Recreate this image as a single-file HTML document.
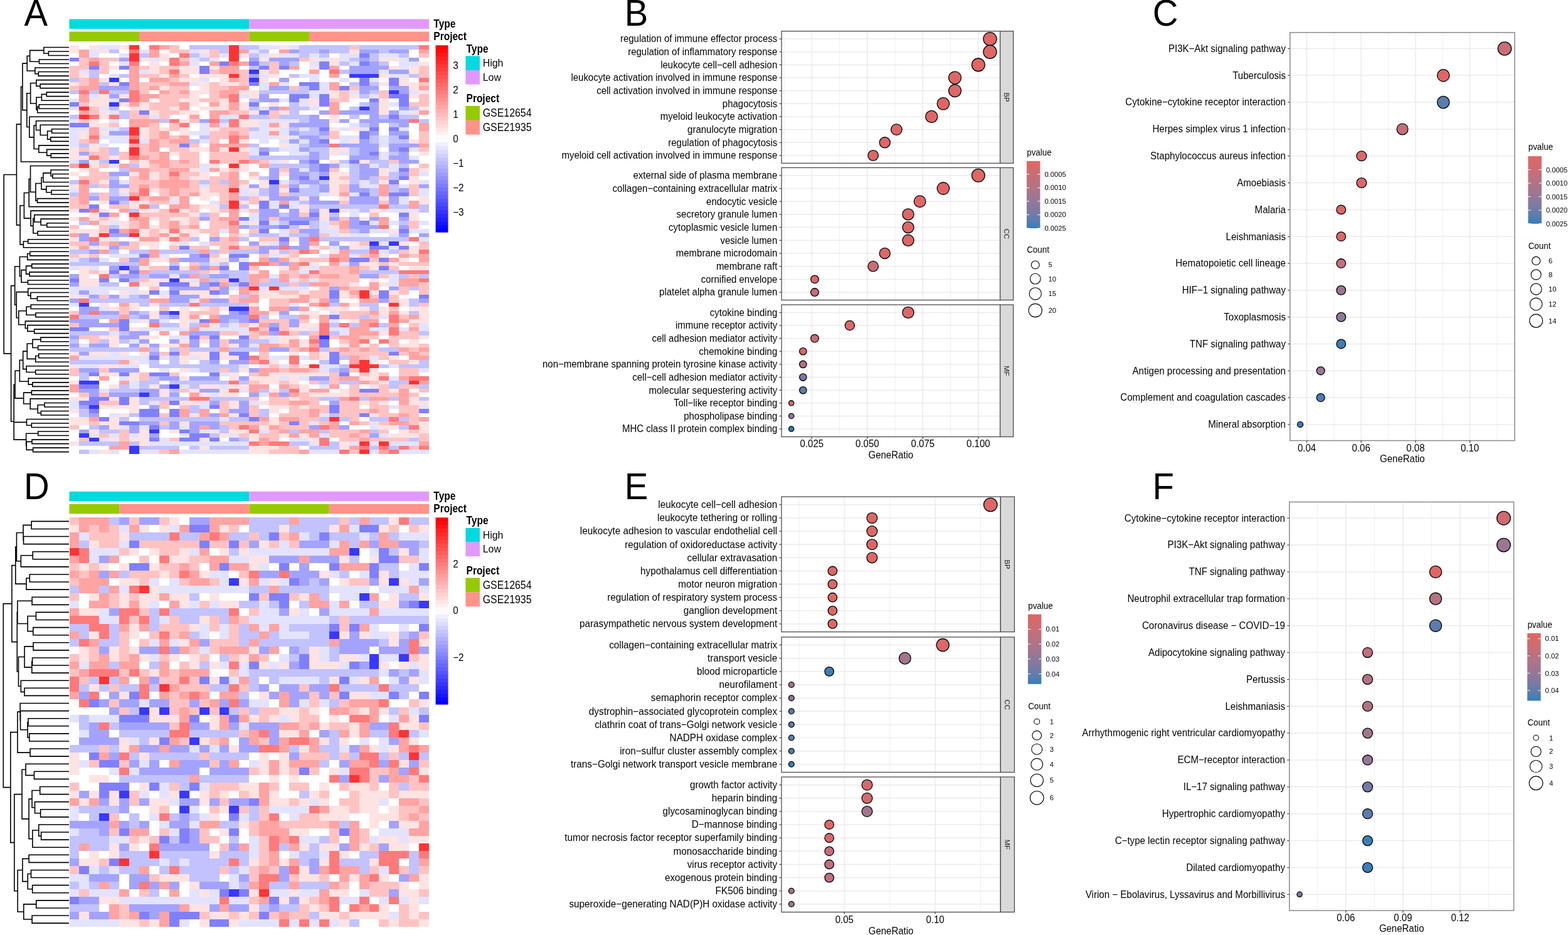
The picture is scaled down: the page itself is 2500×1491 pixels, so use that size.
<!DOCTYPE html>
<html><head><meta charset="utf-8"><style>
html,body{margin:0;padding:0;background:#fff;}
svg{display:block;}
text{font-family:'Liberation Sans', Arial, Helvetica, sans-serif;}
</style></head><body>
<svg width="2500" height="1491" viewBox="0 0 2500 1491">
<rect width="2500" height="1491" fill="#fff"/>
<text x="0" y="0" font-size="59" transform="translate(38.60 41.10) scale(0.955 1)">A</text>
<text x="0" y="0" font-size="59" transform="translate(995.80 40.90) scale(0.955 1)">B</text>
<text x="0" y="0" font-size="59" transform="translate(1837.70 41.00) scale(0.955 1)">C</text>
<text x="0" y="0" font-size="59" transform="translate(38.10 795.80) scale(0.955 1)">D</text>
<text x="0" y="0" font-size="59" transform="translate(995.80 795.70) scale(0.955 1)">E</text>
<text x="0" y="0" font-size="59" transform="translate(1837.60 795.70) scale(0.955 1)">F</text>
<rect x="110.50" y="30.50" width="286.83" height="15.60" fill="#00DAE0"/>
<rect x="397.33" y="30.50" width="286.83" height="15.60" fill="#E199FF"/>
<rect x="110.50" y="50.40" width="111.55" height="15.60" fill="#96CA00"/>
<rect x="222.05" y="50.40" width="175.28" height="15.60" fill="#FF9289"/>
<rect x="397.33" y="50.40" width="95.61" height="15.60" fill="#96CA00"/>
<rect x="492.94" y="50.40" width="191.22" height="15.60" fill="#FF9289"/>
<text x="0" y="0" font-size="15.50" font-weight="bold" transform="translate(691.36 44.10) scale(1.000 1.150)">Type</text>
<text x="0" y="0" font-size="15.50" font-weight="bold" transform="translate(691.36 63.80) scale(1.000 1.150)">Project</text>
<g shape-rendering="crispEdges" transform="translate(110.500 72.200) scale(15.9350 6.5170)">
<path fill="#ffe3e3" d="M0 0h1v1h-1zM2 0h1v1h-1zM5 0h1v1h-1zM21 0h1v1h-1zM0 1h1v1h-1zM3 1h1v1h-1zM13 1h1v1h-1zM28 1h1v1h-1zM9 2h1v1h-1zM17 2h1v1h-1zM20 2h1v1h-1zM7 3h1v1h-1zM9 3h1v1h-1zM19 3h1v1h-1zM24 3h1v1h-1zM26 3h1v1h-1zM31 3h2v1h-2zM8 4h1v1h-1zM26 4h1v1h-1zM35 4h1v1h-1zM4 5h1v1h-1zM8 5h1v1h-1zM11 5h2v1h-2zM14 5h1v1h-1zM24 5h1v1h-1zM32 5h1v1h-1zM34 5h1v1h-1zM8 6h1v1h-1zM11 6h2v1h-2zM19 6h1v1h-1zM34 6h1v1h-1zM1 7h1v1h-1zM9 7h1v1h-1zM13 7h3v1h-3zM20 7h1v1h-1zM31 7h1v1h-1zM3 8h1v1h-1zM11 8h2v1h-2zM15 8h1v1h-1zM19 8h1v1h-1zM33 8h1v1h-1zM0 9h1v1h-1zM4 9h1v1h-1zM13 9h1v1h-1zM15 9h2v1h-2zM31 9h1v1h-1zM33 9h2v1h-2zM9 10h1v1h-1zM13 10h1v1h-1zM34 10h1v1h-1zM12 11h2v1h-2zM17 11h2v1h-2zM26 11h1v1h-1zM35 11h1v1h-1zM3 12h1v1h-1zM5 12h1v1h-1zM12 12h1v1h-1zM18 12h1v1h-1zM26 12h1v1h-1zM28 12h1v1h-1zM34 12h1v1h-1zM2 13h2v1h-2zM11 13h2v1h-2zM15 13h1v1h-1zM24 13h1v1h-1zM31 13h1v1h-1zM2 14h2v1h-2zM5 14h1v1h-1zM7 14h1v1h-1zM12 14h1v1h-1zM15 14h1v1h-1zM17 14h1v1h-1zM20 14h1v1h-1zM24 14h1v1h-1zM31 14h1v1h-1zM6 15h2v1h-2zM10 15h1v1h-1zM13 15h3v1h-3zM17 15h1v1h-1zM31 15h1v1h-1zM35 15h1v1h-1zM3 16h1v1h-1zM8 16h1v1h-1zM11 16h2v1h-2zM18 16h1v1h-1zM21 16h1v1h-1zM31 16h1v1h-1zM34 16h1v1h-1zM3 17h1v1h-1zM26 17h1v1h-1zM2 18h1v1h-1zM11 18h1v1h-1zM17 18h2v1h-2zM26 18h1v1h-1zM2 19h2v1h-2zM17 19h2v1h-2zM21 19h1v1h-1zM7 20h1v1h-1zM9 20h1v1h-1zM11 20h1v1h-1zM14 20h1v1h-1zM20 20h1v1h-1zM26 20h1v1h-1zM28 20h1v1h-1zM1 21h1v1h-1zM3 21h1v1h-1zM7 21h1v1h-1zM11 21h1v1h-1zM1 22h1v1h-1zM7 22h1v1h-1zM21 22h1v1h-1zM17 23h1v1h-1zM28 23h1v1h-1zM34 23h1v1h-1zM2 24h1v1h-1zM21 24h1v1h-1zM0 25h1v1h-1zM2 25h1v1h-1zM12 25h2v1h-2zM15 25h1v1h-1zM17 25h1v1h-1zM26 25h2v1h-2zM0 26h1v1h-1zM10 26h1v1h-1zM26 26h1v1h-1zM35 26h1v1h-1zM0 27h2v1h-2zM4 27h1v1h-1zM2 28h1v1h-1zM7 28h1v1h-1zM21 28h1v1h-1zM26 28h1v1h-1zM29 28h1v1h-1zM2 29h1v1h-1zM7 29h1v1h-1zM14 29h1v1h-1zM17 29h1v1h-1zM1 30h1v1h-1zM12 30h1v1h-1zM15 30h1v1h-1zM17 30h1v1h-1zM31 30h1v1h-1zM35 30h1v1h-1zM0 31h1v1h-1zM6 31h1v1h-1zM8 31h1v1h-1zM13 31h1v1h-1zM21 31h1v1h-1zM26 31h2v1h-2zM31 31h1v1h-1zM8 32h1v1h-1zM12 32h2v1h-2zM18 32h1v1h-1zM26 32h1v1h-1zM34 32h1v1h-1zM3 33h1v1h-1zM19 33h1v1h-1zM26 33h2v1h-2zM31 33h1v1h-1zM34 33h1v1h-1zM0 34h1v1h-1zM17 34h1v1h-1zM19 34h1v1h-1zM26 34h1v1h-1zM5 35h1v1h-1zM8 35h1v1h-1zM13 35h1v1h-1zM18 35h1v1h-1zM21 35h1v1h-1zM26 35h1v1h-1zM13 36h2v1h-2zM26 36h1v1h-1zM10 37h1v1h-1zM13 37h1v1h-1zM19 37h1v1h-1zM23 37h1v1h-1zM27 37h1v1h-1zM31 37h1v1h-1zM35 37h1v1h-1zM3 38h1v1h-1zM6 38h2v1h-2zM17 38h1v1h-1zM35 38h1v1h-1zM6 39h1v1h-1zM13 39h2v1h-2zM23 39h1v1h-1zM0 40h1v1h-1zM3 40h1v1h-1zM7 40h2v1h-2zM11 40h1v1h-1zM14 40h1v1h-1zM17 40h1v1h-1zM23 40h1v1h-1zM25 40h1v1h-1zM27 40h1v1h-1zM30 40h2v1h-2zM2 41h1v1h-1zM12 41h1v1h-1zM25 41h1v1h-1zM34 41h1v1h-1zM0 42h1v1h-1zM2 42h1v1h-1zM4 42h1v1h-1zM8 42h1v1h-1zM10 42h2v1h-2zM25 42h1v1h-1zM29 42h1v1h-1zM34 42h1v1h-1zM3 43h1v1h-1zM5 43h1v1h-1zM11 43h1v1h-1zM18 43h1v1h-1zM5 44h1v1h-1zM8 44h1v1h-1zM23 44h1v1h-1zM26 44h1v1h-1zM0 45h3v1h-3zM7 45h1v1h-1zM9 45h1v1h-1zM11 45h2v1h-2zM32 45h1v1h-1zM2 46h1v1h-1zM7 46h1v1h-1zM10 46h1v1h-1zM12 46h1v1h-1zM17 46h1v1h-1zM27 46h1v1h-1zM0 47h1v1h-1zM3 47h1v1h-1zM9 47h1v1h-1zM22 47h1v1h-1zM7 48h2v1h-2zM10 48h1v1h-1zM19 48h1v1h-1zM28 48h1v1h-1zM33 48h1v1h-1zM0 49h1v1h-1zM2 49h2v1h-2zM8 49h1v1h-1zM24 49h1v1h-1zM28 49h1v1h-1zM34 49h1v1h-1zM20 50h1v1h-1zM26 50h1v1h-1zM34 50h1v1h-1zM1 51h1v1h-1zM21 51h1v1h-1zM31 51h1v1h-1zM8 52h2v1h-2zM14 52h2v1h-2zM22 52h1v1h-1zM33 52h1v1h-1zM24 53h1v1h-1zM29 53h2v1h-2zM32 53h1v1h-1zM1 54h1v1h-1zM7 54h1v1h-1zM11 54h1v1h-1zM21 54h1v1h-1zM23 54h1v1h-1zM30 54h1v1h-1zM34 54h2v1h-2zM1 55h1v1h-1zM3 55h1v1h-1zM5 55h1v1h-1zM14 55h1v1h-1zM18 55h1v1h-1zM1 56h1v1h-1zM1 57h2v1h-2zM8 57h2v1h-2zM11 57h1v1h-1zM30 57h1v1h-1zM1 58h2v1h-2zM7 58h2v1h-2zM12 58h1v1h-1zM28 58h1v1h-1zM31 58h1v1h-1zM5 60h1v1h-1zM7 60h1v1h-1zM11 60h3v1h-3zM19 60h2v1h-2zM23 60h1v1h-1zM27 60h1v1h-1zM30 60h1v1h-1zM32 60h1v1h-1zM0 61h1v1h-1zM9 61h1v1h-1zM13 61h2v1h-2zM19 61h4v1h-4zM27 61h1v1h-1zM24 62h1v1h-1zM33 62h1v1h-1zM3 63h1v1h-1zM6 63h1v1h-1zM8 63h1v1h-1zM18 63h1v1h-1zM28 63h1v1h-1zM33 63h1v1h-1zM4 64h1v1h-1zM6 64h1v1h-1zM11 64h1v1h-1zM13 64h1v1h-1zM15 64h1v1h-1zM25 64h3v1h-3zM29 64h1v1h-1zM31 64h1v1h-1zM34 64h2v1h-2zM8 65h1v1h-1zM11 65h1v1h-1zM20 65h1v1h-1zM23 65h2v1h-2zM31 65h1v1h-1zM33 65h1v1h-1zM35 65h1v1h-1zM8 66h1v1h-1zM11 66h1v1h-1zM24 66h1v1h-1zM35 66h1v1h-1zM7 67h1v1h-1zM11 67h1v1h-1zM28 67h1v1h-1zM34 67h2v1h-2zM11 68h1v1h-1zM14 68h1v1h-1zM18 68h1v1h-1zM23 68h2v1h-2zM6 69h1v1h-1zM22 69h2v1h-2zM31 70h1v1h-1zM3 71h2v1h-2zM7 71h2v1h-2zM19 71h1v1h-1zM21 71h2v1h-2zM35 71h1v1h-1zM4 72h1v1h-1zM11 72h1v1h-1zM13 72h1v1h-1zM21 72h1v1h-1zM23 72h1v1h-1zM34 72h1v1h-1zM4 73h1v1h-1zM7 73h1v1h-1zM9 73h2v1h-2zM16 73h1v1h-1zM23 73h1v1h-1zM27 73h1v1h-1zM29 73h1v1h-1zM33 73h2v1h-2zM0 75h1v1h-1zM2 75h2v1h-2zM5 75h1v1h-1zM7 75h1v1h-1zM12 75h2v1h-2zM15 75h1v1h-1zM22 75h1v1h-1zM25 75h1v1h-1zM11 76h1v1h-1zM13 76h1v1h-1zM15 76h2v1h-2zM25 76h1v1h-1zM32 76h1v1h-1zM6 77h1v1h-1zM11 77h1v1h-1zM20 77h1v1h-1zM30 77h1v1h-1zM34 77h1v1h-1zM0 78h1v1h-1zM3 78h2v1h-2zM23 78h1v1h-1zM11 79h1v1h-1zM17 79h1v1h-1zM30 79h1v1h-1zM3 80h2v1h-2zM6 80h1v1h-1zM16 80h1v1h-1zM20 80h6v1h-6zM30 80h1v1h-1zM6 81h1v1h-1zM11 81h1v1h-1zM16 81h1v1h-1zM18 81h3v1h-3zM22 81h1v1h-1zM29 81h2v1h-2zM0 82h1v1h-1zM19 82h2v1h-2zM22 82h1v1h-1zM31 82h1v1h-1zM4 83h1v1h-1zM8 83h1v1h-1zM13 83h2v1h-2zM16 83h2v1h-2zM23 83h1v1h-1zM30 83h1v1h-1zM9 84h1v1h-1zM12 84h1v1h-1zM15 84h1v1h-1zM20 84h1v1h-1zM23 84h1v1h-1zM27 84h1v1h-1zM32 84h1v1h-1zM9 85h1v1h-1zM13 85h1v1h-1zM15 85h2v1h-2zM24 85h4v1h-4zM0 86h2v1h-2zM4 86h1v1h-1zM6 86h1v1h-1zM22 86h1v1h-1zM34 86h1v1h-1zM6 87h1v1h-1zM11 87h2v1h-2zM16 87h1v1h-1zM19 87h1v1h-1zM29 87h1v1h-1zM31 87h1v1h-1zM34 87h2v1h-2zM3 88h4v1h-4zM16 88h1v1h-1zM20 88h2v1h-2zM23 88h1v1h-1zM0 89h1v1h-1zM6 89h1v1h-1zM20 89h1v1h-1zM5 90h1v1h-1zM12 90h1v1h-1zM16 90h1v1h-1zM30 90h1v1h-1zM0 91h2v1h-2zM4 91h1v1h-1zM20 91h1v1h-1zM0 92h2v1h-2zM3 92h2v1h-2zM11 92h1v1h-1zM20 92h1v1h-1zM35 92h1v1h-1zM4 93h1v1h-1zM19 93h1v1h-1zM31 93h2v1h-2zM35 93h1v1h-1zM2 94h1v1h-1zM7 94h1v1h-1zM10 94h1v1h-1zM14 94h1v1h-1zM16 94h2v1h-2zM33 94h1v1h-1zM35 94h1v1h-1zM7 95h1v1h-1zM15 95h1v1h-1zM18 95h1v1h-1zM21 95h1v1h-1zM23 95h1v1h-1zM32 95h3v1h-3zM4 96h1v1h-1zM6 96h2v1h-2zM13 96h1v1h-1zM18 96h1v1h-1zM24 96h1v1h-1zM0 97h1v1h-1zM7 97h1v1h-1zM27 97h1v1h-1zM13 98h1v1h-1zM18 98h3v1h-3zM27 98h1v1h-1zM3 99h1v1h-1zM18 99h2v1h-2z"/>
<path fill="#e3e3ff" d="M3 0h2v1h-2zM19 0h2v1h-2zM22 0h1v1h-1zM2 1h1v1h-1zM7 1h1v1h-1zM12 1h1v1h-1zM18 1h1v1h-1zM2 2h1v1h-1zM5 2h1v1h-1zM13 2h1v1h-1zM15 2h1v1h-1zM19 2h1v1h-1zM21 2h2v1h-2zM24 2h1v1h-1zM27 2h2v1h-2zM31 2h2v1h-2zM8 3h1v1h-1zM12 3h1v1h-1zM14 3h1v1h-1zM25 3h1v1h-1zM27 3h1v1h-1zM33 3h1v1h-1zM5 4h1v1h-1zM12 4h1v1h-1zM24 4h1v1h-1zM28 4h1v1h-1zM33 4h2v1h-2zM33 5h1v1h-1zM1 6h1v1h-1zM7 6h1v1h-1zM31 6h1v1h-1zM4 7h1v1h-1zM19 7h1v1h-1zM23 7h2v1h-2zM32 7h2v1h-2zM13 8h1v1h-1zM24 8h1v1h-1zM27 8h1v1h-1zM30 8h1v1h-1zM12 9h1v1h-1zM19 9h1v1h-1zM21 9h1v1h-1zM25 9h1v1h-1zM19 10h1v1h-1zM25 10h1v1h-1zM24 11h2v1h-2zM28 11h1v1h-1zM34 11h1v1h-1zM2 12h1v1h-1zM17 12h1v1h-1zM24 12h1v1h-1zM30 12h1v1h-1zM0 13h1v1h-1zM4 13h1v1h-1zM21 13h1v1h-1zM23 13h1v1h-1zM23 14h1v1h-1zM32 14h1v1h-1zM0 15h1v1h-1zM3 15h1v1h-1zM19 15h1v1h-1zM24 15h1v1h-1zM4 16h1v1h-1zM33 16h1v1h-1zM8 17h1v1h-1zM15 17h2v1h-2zM0 18h1v1h-1zM4 18h1v1h-1zM19 18h4v1h-4zM13 19h1v1h-1zM15 19h1v1h-1zM19 19h1v1h-1zM28 19h1v1h-1zM0 20h2v1h-2zM3 20h2v1h-2zM13 20h1v1h-1zM19 20h1v1h-1zM21 20h1v1h-1zM23 20h1v1h-1zM27 20h1v1h-1zM29 20h1v1h-1zM33 20h1v1h-1zM0 21h1v1h-1zM12 21h2v1h-2zM18 21h2v1h-2zM21 21h1v1h-1zM0 22h1v1h-1zM3 22h3v1h-3zM18 22h3v1h-3zM22 22h1v1h-1zM27 22h2v1h-2zM31 22h1v1h-1zM0 23h1v1h-1zM4 23h2v1h-2zM7 23h1v1h-1zM13 23h1v1h-1zM19 23h1v1h-1zM21 23h1v1h-1zM23 23h1v1h-1zM27 23h1v1h-1zM31 23h1v1h-1zM0 24h1v1h-1zM3 24h1v1h-1zM22 24h1v1h-1zM31 24h1v1h-1zM18 25h1v1h-1zM21 25h2v1h-2zM34 25h1v1h-1zM18 26h1v1h-1zM22 26h2v1h-2zM27 26h1v1h-1zM31 26h1v1h-1zM31 27h1v1h-1zM34 27h1v1h-1zM0 28h1v1h-1zM20 28h1v1h-1zM4 29h1v1h-1zM13 29h1v1h-1zM27 29h1v1h-1zM30 29h1v1h-1zM32 29h1v1h-1zM13 30h1v1h-1zM23 30h1v1h-1zM32 30h1v1h-1zM35 31h1v1h-1zM5 33h1v1h-1zM21 33h1v1h-1zM29 33h1v1h-1zM35 33h1v1h-1zM13 34h1v1h-1zM23 34h1v1h-1zM29 34h2v1h-2zM33 34h1v1h-1zM0 35h1v1h-1zM17 35h1v1h-1zM35 35h1v1h-1zM5 36h1v1h-1zM17 36h2v1h-2zM25 36h1v1h-1zM28 36h1v1h-1zM35 36h1v1h-1zM33 37h1v1h-1zM10 38h1v1h-1zM14 38h1v1h-1zM20 38h1v1h-1zM22 38h1v1h-1zM33 38h1v1h-1zM20 39h1v1h-1zM22 39h1v1h-1zM28 40h1v1h-1zM32 40h3v1h-3zM18 41h1v1h-1zM28 41h1v1h-1zM18 42h1v1h-1zM4 43h1v1h-1zM17 43h1v1h-1zM20 43h1v1h-1zM25 43h1v1h-1zM30 43h1v1h-1zM32 43h1v1h-1zM35 43h1v1h-1zM25 44h1v1h-1zM15 45h1v1h-1zM21 45h1v1h-1zM25 45h2v1h-2zM30 45h2v1h-2zM34 45h2v1h-2zM21 46h1v1h-1zM26 46h1v1h-1zM28 46h2v1h-2zM32 46h1v1h-1zM4 47h1v1h-1zM35 47h1v1h-1zM11 48h1v1h-1zM13 48h1v1h-1zM20 48h1v1h-1zM31 48h1v1h-1zM26 49h1v1h-1zM29 49h1v1h-1zM32 49h1v1h-1zM31 50h1v1h-1zM4 51h3v1h-3zM9 51h1v1h-1zM20 51h1v1h-1zM25 51h1v1h-1zM28 51h1v1h-1zM0 52h1v1h-1zM3 52h1v1h-1zM17 52h1v1h-1zM14 53h1v1h-1zM27 53h1v1h-1zM0 54h1v1h-1zM2 54h1v1h-1zM24 54h1v1h-1zM23 55h1v1h-1zM10 56h1v1h-1zM20 56h1v1h-1zM32 56h1v1h-1zM12 57h1v1h-1zM22 57h1v1h-1zM24 57h1v1h-1zM32 57h1v1h-1zM32 58h1v1h-1zM0 59h7v1h-7zM16 59h1v1h-1zM19 59h1v1h-1zM21 59h3v1h-3zM0 60h1v1h-1zM2 60h2v1h-2zM6 60h1v1h-1zM9 60h1v1h-1zM1 61h1v1h-1zM5 61h1v1h-1zM12 62h1v1h-1zM0 63h1v1h-1zM22 63h1v1h-1zM3 64h1v1h-1zM26 65h1v1h-1zM31 66h1v1h-1zM6 67h1v1h-1zM9 67h1v1h-1zM12 67h1v1h-1zM26 67h1v1h-1zM16 68h1v1h-1zM35 68h1v1h-1zM7 69h5v1h-5zM13 69h5v1h-5zM24 69h1v1h-1zM26 69h2v1h-2zM30 69h2v1h-2zM33 69h1v1h-1zM35 69h1v1h-1zM4 70h1v1h-1zM17 70h1v1h-1zM27 70h1v1h-1zM10 71h2v1h-2zM20 71h1v1h-1zM6 72h1v1h-1zM20 72h1v1h-1zM1 73h1v1h-1zM18 73h1v1h-1zM4 75h1v1h-1zM1 76h7v1h-7zM9 76h1v1h-1zM12 76h1v1h-1zM20 76h2v1h-2zM23 76h1v1h-1zM30 76h1v1h-1zM7 77h1v1h-1zM1 78h2v1h-2zM5 78h2v1h-2zM17 78h1v1h-1zM19 78h1v1h-1zM21 78h1v1h-1zM25 78h2v1h-2zM32 78h1v1h-1zM9 79h1v1h-1zM12 79h1v1h-1zM25 79h1v1h-1zM35 79h1v1h-1zM15 80h1v1h-1zM5 81h1v1h-1zM21 81h1v1h-1zM23 81h1v1h-1zM32 81h1v1h-1zM6 82h1v1h-1zM6 83h1v1h-1zM11 83h1v1h-1zM15 83h1v1h-1zM25 83h1v1h-1zM3 84h1v1h-1zM17 84h1v1h-1zM14 85h1v1h-1zM19 85h1v1h-1zM0 87h1v1h-1zM8 87h1v1h-1zM13 87h1v1h-1zM18 87h1v1h-1zM0 88h1v1h-1zM13 88h1v1h-1zM32 88h1v1h-1zM35 88h1v1h-1zM4 90h1v1h-1zM25 90h1v1h-1zM15 91h1v1h-1zM24 92h1v1h-1zM30 92h1v1h-1zM5 93h1v1h-1zM7 93h1v1h-1zM11 93h1v1h-1zM30 93h1v1h-1zM13 94h1v1h-1zM19 94h1v1h-1zM2 95h1v1h-1zM4 95h1v1h-1zM6 95h1v1h-1zM11 95h1v1h-1zM16 95h1v1h-1zM25 95h1v1h-1zM31 95h1v1h-1zM3 96h1v1h-1zM9 96h1v1h-1zM22 96h2v1h-2zM8 97h10v1h-10zM24 97h1v1h-1zM28 97h1v1h-1zM30 97h1v1h-1zM32 97h3v1h-3zM2 99h1v1h-1zM4 99h1v1h-1zM7 99h2v1h-2zM11 99h7v1h-7zM24 99h3v1h-3zM30 99h1v1h-1zM33 99h3v1h-3z"/>
<path fill="#ff3333" d="M6 0h1v1h-1zM16 0h1v1h-1zM16 1h1v1h-1zM6 2h1v1h-1zM16 2h1v1h-1zM6 3h1v1h-1zM16 3h1v1h-1zM16 7h1v1h-1zM1 15h1v1h-1zM1 17h1v1h-1zM6 20h1v1h-1zM6 21h1v1h-1zM6 23h1v1h-1zM6 25h1v1h-1zM16 25h1v1h-1zM6 26h1v1h-1zM1 29h1v1h-1zM16 29h1v1h-1zM16 35h1v1h-1zM6 37h1v1h-1zM16 38h1v1h-1zM16 39h1v1h-1zM6 41h1v1h-1zM3 46h1v1h-1zM6 46h1v1h-1zM18 59h1v1h-1zM20 59h1v1h-1zM29 60h1v1h-1zM29 61h1v1h-1zM32 63h1v1h-1zM29 77h1v1h-1zM24 78h1v1h-1zM28 78h3v1h-3zM29 79h1v1h-1zM34 82h1v1h-1zM26 91h1v1h-1zM29 97h1v1h-1zM31 97h1v1h-1zM29 99h1v1h-1z"/>
<path fill="#ff7a7a" d="M8 0h1v1h-1zM35 0h1v1h-1zM6 1h1v1h-1zM11 2h1v1h-1zM10 3h1v1h-1zM2 4h1v1h-1zM6 4h1v1h-1zM10 4h1v1h-1zM16 4h1v1h-1zM10 6h1v1h-1zM26 6h1v1h-1zM35 8h1v1h-1zM1 11h1v1h-1zM3 11h1v1h-1zM6 11h1v1h-1zM6 12h1v1h-1zM16 12h1v1h-1zM6 13h1v1h-1zM16 13h1v1h-1zM2 17h1v1h-1zM4 17h1v1h-1zM17 17h1v1h-1zM10 18h1v1h-1zM14 18h1v1h-1zM16 18h1v1h-1zM34 18h1v1h-1zM11 19h1v1h-1zM16 19h1v1h-1zM2 22h1v1h-1zM6 22h1v1h-1zM16 22h1v1h-1zM16 23h1v1h-1zM26 24h1v1h-1zM2 27h1v1h-1zM6 27h1v1h-1zM14 28h1v1h-1zM17 28h1v1h-1zM10 31h1v1h-1zM1 33h1v1h-1zM7 35h1v1h-1zM7 36h1v1h-1zM7 39h1v1h-1zM31 39h1v1h-1zM2 40h1v1h-1zM10 40h1v1h-1zM16 43h1v1h-1zM31 44h1v1h-1zM6 45h1v1h-1zM10 45h1v1h-1zM2 47h1v1h-1zM10 47h1v1h-1zM24 47h1v1h-1zM34 47h1v1h-1zM16 49h1v1h-1zM21 49h1v1h-1zM23 50h1v1h-1zM30 50h1v1h-1zM35 50h1v1h-1zM26 52h1v1h-1zM18 53h2v1h-2zM23 53h1v1h-1zM24 55h1v1h-1zM33 55h3v1h-3zM3 56h1v1h-1zM35 57h1v1h-1zM6 58h1v1h-1zM1 62h1v1h-1zM12 63h1v1h-1zM25 63h1v1h-1zM2 65h1v1h-1zM0 66h1v1h-1zM18 66h1v1h-1zM32 66h1v1h-1zM14 67h1v1h-1zM32 67h1v1h-1zM8 68h1v1h-1zM25 68h1v1h-1zM27 68h1v1h-1zM30 68h1v1h-1zM18 69h1v1h-1zM25 69h1v1h-1zM32 69h1v1h-1zM21 70h1v1h-1zM25 70h1v1h-1zM32 70h1v1h-1zM24 72h1v1h-1zM29 72h1v1h-1zM31 72h1v1h-1zM24 74h1v1h-1zM18 76h1v1h-1zM22 76h1v1h-1zM19 77h1v1h-1zM22 77h1v1h-1zM31 81h1v1h-1zM34 81h2v1h-2zM16 82h1v1h-1zM16 84h1v1h-1zM22 84h1v1h-1zM12 86h2v1h-2zM28 86h1v1h-1zM32 91h1v1h-1zM17 93h1v1h-1zM25 93h1v1h-1zM34 93h1v1h-1zM18 94h1v1h-1zM25 96h1v1h-1zM18 97h1v1h-1zM20 97h2v1h-2zM25 97h1v1h-1zM29 98h1v1h-1zM31 98h1v1h-1zM33 98h1v1h-1zM35 98h1v1h-1zM27 99h1v1h-1zM32 99h1v1h-1z"/>
<path fill="#ffa3a3" d="M9 0h1v1h-1zM1 1h1v1h-1zM8 1h1v1h-1zM17 1h1v1h-1zM21 1h1v1h-1zM35 1h1v1h-1zM1 2h1v1h-1zM8 2h1v1h-1zM2 3h1v1h-1zM11 4h1v1h-1zM14 4h1v1h-1zM17 4h1v1h-1zM6 5h1v1h-1zM15 5h2v1h-2zM22 5h1v1h-1zM26 5h1v1h-1zM6 6h1v1h-1zM15 6h2v1h-2zM24 6h1v1h-1zM6 7h1v1h-1zM10 7h1v1h-1zM26 7h1v1h-1zM2 8h1v1h-1zM6 8h1v1h-1zM8 8h2v1h-2zM16 8h1v1h-1zM2 9h1v1h-1zM6 9h1v1h-1zM10 9h2v1h-2zM20 9h1v1h-1zM26 9h1v1h-1zM1 10h2v1h-2zM6 10h1v1h-1zM8 10h1v1h-1zM16 10h2v1h-2zM26 10h1v1h-1zM35 10h1v1h-1zM9 11h1v1h-1zM11 11h1v1h-1zM15 11h2v1h-2zM1 12h1v1h-1zM7 12h2v1h-2zM15 12h1v1h-1zM1 13h1v1h-1zM7 13h1v1h-1zM6 14h1v1h-1zM11 14h1v1h-1zM14 14h1v1h-1zM16 14h1v1h-1zM26 14h1v1h-1zM11 15h1v1h-1zM16 15h1v1h-1zM21 15h1v1h-1zM26 15h1v1h-1zM1 16h1v1h-1zM14 16h2v1h-2zM26 16h1v1h-1zM35 16h1v1h-1zM12 17h1v1h-1zM14 17h1v1h-1zM6 18h3v1h-3zM6 19h2v1h-2zM14 19h1v1h-1zM20 19h1v1h-1zM35 19h1v1h-1zM2 20h1v1h-1zM35 20h1v1h-1zM2 21h1v1h-1zM9 21h1v1h-1zM16 21h1v1h-1zM20 21h1v1h-1zM9 22h1v1h-1zM11 22h1v1h-1zM17 22h1v1h-1zM2 23h1v1h-1zM8 23h1v1h-1zM10 23h2v1h-2zM6 24h1v1h-1zM8 24h1v1h-1zM14 24h4v1h-4zM35 24h1v1h-1zM8 25h1v1h-1zM14 25h1v1h-1zM9 26h1v1h-1zM7 27h1v1h-1zM9 27h1v1h-1zM8 28h2v1h-2zM11 28h1v1h-1zM18 28h1v1h-1zM0 29h1v1h-1zM5 29h1v1h-1zM9 29h1v1h-1zM19 29h1v1h-1zM6 30h2v1h-2zM10 30h2v1h-2zM14 30h1v1h-1zM7 31h1v1h-1zM16 31h1v1h-1zM7 32h1v1h-1zM10 32h1v1h-1zM16 32h1v1h-1zM9 33h3v1h-3zM16 33h1v1h-1zM1 34h1v1h-1zM7 34h1v1h-1zM9 34h3v1h-3zM16 34h1v1h-1zM31 34h1v1h-1zM1 35h1v1h-1zM10 35h1v1h-1zM31 35h1v1h-1zM1 36h1v1h-1zM6 36h1v1h-1zM10 36h1v1h-1zM12 36h1v1h-1zM16 36h1v1h-1zM27 36h1v1h-1zM31 36h1v1h-1zM1 37h1v1h-1zM8 37h2v1h-2zM11 37h1v1h-1zM16 37h1v1h-1zM1 38h1v1h-1zM11 38h1v1h-1zM21 38h1v1h-1zM34 38h1v1h-1zM10 39h2v1h-2zM34 39h1v1h-1zM5 40h1v1h-1zM16 40h1v1h-1zM4 41h1v1h-1zM16 41h1v1h-1zM1 42h1v1h-1zM6 42h2v1h-2zM15 42h2v1h-2zM31 42h1v1h-1zM2 43h1v1h-1zM7 43h1v1h-1zM10 43h1v1h-1zM27 43h1v1h-1zM31 43h1v1h-1zM7 44h1v1h-1zM10 44h1v1h-1zM12 44h1v1h-1zM16 44h1v1h-1zM27 44h1v1h-1zM5 45h1v1h-1zM16 45h1v1h-1zM0 46h1v1h-1zM9 46h1v1h-1zM11 46h1v1h-1zM7 47h2v1h-2zM16 47h1v1h-1zM4 48h1v1h-1zM24 48h1v1h-1zM1 49h1v1h-1zM3 50h1v1h-1zM8 50h1v1h-1zM13 50h1v1h-1zM24 50h1v1h-1zM27 50h1v1h-1zM8 51h1v1h-1zM26 51h2v1h-2zM30 51h1v1h-1zM33 51h1v1h-1zM35 51h1v1h-1zM7 52h1v1h-1zM10 52h1v1h-1zM19 52h1v1h-1zM21 52h1v1h-1zM27 52h1v1h-1zM32 52h1v1h-1zM35 52h1v1h-1zM7 53h1v1h-1zM20 53h1v1h-1zM22 53h1v1h-1zM26 53h1v1h-1zM12 54h1v1h-1zM14 54h1v1h-1zM22 54h1v1h-1zM28 54h1v1h-1zM7 55h1v1h-1zM19 55h1v1h-1zM28 55h1v1h-1zM12 56h1v1h-1zM18 56h2v1h-2zM21 56h1v1h-1zM23 56h1v1h-1zM25 56h2v1h-2zM13 57h1v1h-1zM18 57h1v1h-1zM21 57h1v1h-1zM33 57h2v1h-2zM15 58h1v1h-1zM18 58h1v1h-1zM24 58h2v1h-2zM30 58h1v1h-1zM33 58h2v1h-2zM17 59h1v1h-1zM27 59h1v1h-1zM30 59h1v1h-1zM17 60h1v1h-1zM28 60h1v1h-1zM18 61h1v1h-1zM23 61h1v1h-1zM8 62h2v1h-2zM13 62h1v1h-1zM17 62h2v1h-2zM22 62h2v1h-2zM25 62h1v1h-1zM29 62h2v1h-2zM5 63h1v1h-1zM24 63h1v1h-1zM27 63h1v1h-1zM18 64h1v1h-1zM20 64h2v1h-2zM23 64h1v1h-1zM18 65h2v1h-2zM30 65h1v1h-1zM32 65h1v1h-1zM5 66h1v1h-1zM12 66h1v1h-1zM14 66h1v1h-1zM23 66h1v1h-1zM25 66h1v1h-1zM34 66h1v1h-1zM4 67h1v1h-1zM25 67h1v1h-1zM29 67h2v1h-2zM33 67h1v1h-1zM13 68h1v1h-1zM19 68h1v1h-1zM29 68h1v1h-1zM32 68h1v1h-1zM12 69h1v1h-1zM28 69h2v1h-2zM34 69h1v1h-1zM9 70h1v1h-1zM11 70h1v1h-1zM19 70h1v1h-1zM28 70h3v1h-3zM24 71h1v1h-1zM27 71h2v1h-2zM22 72h1v1h-1zM28 72h1v1h-1zM11 73h1v1h-1zM19 73h2v1h-2zM22 73h1v1h-1zM24 73h1v1h-1zM28 73h1v1h-1zM7 74h1v1h-1zM15 74h1v1h-1zM19 74h1v1h-1zM23 74h1v1h-1zM27 74h1v1h-1zM29 74h1v1h-1zM33 74h1v1h-1zM35 74h1v1h-1zM34 75h1v1h-1zM0 76h1v1h-1zM28 76h1v1h-1zM34 76h2v1h-2zM5 77h1v1h-1zM18 77h1v1h-1zM28 77h1v1h-1zM19 79h2v1h-2zM22 79h2v1h-2zM19 80h1v1h-1zM3 81h1v1h-1zM27 81h2v1h-2zM33 81h1v1h-1zM5 82h1v1h-1zM29 82h1v1h-1zM35 82h1v1h-1zM0 83h1v1h-1zM18 83h2v1h-2zM21 83h1v1h-1zM26 83h1v1h-1zM0 84h1v1h-1zM18 84h1v1h-1zM24 84h2v1h-2zM33 84h1v1h-1zM12 85h1v1h-1zM20 85h1v1h-1zM22 85h1v1h-1zM33 85h1v1h-1zM27 86h1v1h-1zM30 86h2v1h-2zM33 86h1v1h-1zM22 87h2v1h-2zM33 87h1v1h-1zM11 89h1v1h-1zM13 89h1v1h-1zM24 89h1v1h-1zM30 89h1v1h-1zM11 90h1v1h-1zM13 90h1v1h-1zM15 90h1v1h-1zM24 90h1v1h-1zM33 90h1v1h-1zM2 91h1v1h-1zM19 91h1v1h-1zM21 91h2v1h-2zM35 91h1v1h-1zM26 92h1v1h-1zM28 92h1v1h-1zM32 92h2v1h-2zM13 93h1v1h-1zM18 93h1v1h-1zM20 93h1v1h-1zM26 93h1v1h-1zM21 94h1v1h-1zM23 94h2v1h-2zM29 94h1v1h-1zM22 95h1v1h-1zM24 95h1v1h-1zM28 95h1v1h-1zM19 96h1v1h-1zM29 96h1v1h-1zM5 97h1v1h-1zM19 97h1v1h-1zM35 97h1v1h-1zM4 98h2v1h-2zM28 98h1v1h-1zM10 99h1v1h-1zM23 99h1v1h-1zM31 99h1v1h-1z"/>
<path fill="#ffc2c2" d="M10 0h1v1h-1zM28 0h1v1h-1zM10 1h2v1h-2zM14 1h1v1h-1zM14 2h1v1h-1zM35 2h1v1h-1zM1 3h1v1h-1zM3 3h2v1h-2zM11 3h1v1h-1zM23 3h1v1h-1zM1 4h1v1h-1zM3 4h1v1h-1zM20 4h1v1h-1zM0 5h2v1h-2zM3 5h1v1h-1zM7 5h1v1h-1zM9 5h2v1h-2zM20 5h1v1h-1zM35 5h1v1h-1zM0 6h1v1h-1zM3 6h1v1h-1zM9 6h1v1h-1zM14 6h1v1h-1zM17 6h1v1h-1zM20 6h1v1h-1zM35 6h1v1h-1zM0 7h1v1h-1zM7 7h2v1h-2zM11 7h1v1h-1zM17 7h1v1h-1zM35 7h1v1h-1zM1 8h1v1h-1zM10 8h1v1h-1zM17 8h1v1h-1zM1 9h1v1h-1zM7 9h3v1h-3zM14 9h1v1h-1zM17 9h1v1h-1zM35 9h1v1h-1zM0 10h1v1h-1zM7 10h1v1h-1zM10 10h2v1h-2zM14 10h2v1h-2zM22 10h1v1h-1zM28 10h1v1h-1zM7 11h1v1h-1zM10 11h1v1h-1zM14 11h1v1h-1zM27 11h1v1h-1zM31 11h1v1h-1zM9 12h3v1h-3zM14 12h1v1h-1zM27 12h1v1h-1zM31 12h1v1h-1zM35 12h1v1h-1zM9 13h2v1h-2zM13 13h2v1h-2zM26 13h2v1h-2zM35 13h1v1h-1zM1 14h1v1h-1zM8 14h3v1h-3zM34 14h2v1h-2zM2 15h1v1h-1zM8 15h2v1h-2zM2 16h1v1h-1zM6 16h1v1h-1zM9 16h2v1h-2zM16 16h2v1h-2zM20 16h1v1h-1zM6 17h2v1h-2zM9 17h1v1h-1zM20 17h1v1h-1zM1 18h1v1h-1zM12 18h1v1h-1zM4 19h1v1h-1zM8 19h1v1h-1zM10 19h1v1h-1zM8 20h1v1h-1zM10 20h1v1h-1zM15 20h3v1h-3zM8 21h1v1h-1zM14 21h2v1h-2zM17 21h1v1h-1zM26 21h1v1h-1zM35 21h1v1h-1zM8 22h1v1h-1zM10 22h1v1h-1zM14 22h2v1h-2zM26 22h1v1h-1zM35 22h1v1h-1zM1 23h1v1h-1zM9 23h1v1h-1zM14 23h1v1h-1zM35 23h1v1h-1zM7 24h1v1h-1zM9 24h2v1h-2zM12 24h1v1h-1zM1 25h1v1h-1zM3 25h1v1h-1zM7 25h1v1h-1zM10 25h2v1h-2zM35 25h1v1h-1zM2 26h2v1h-2zM5 26h1v1h-1zM7 26h2v1h-2zM11 26h2v1h-2zM14 26h4v1h-4zM3 27h1v1h-1zM5 27h1v1h-1zM8 27h1v1h-1zM11 27h2v1h-2zM14 27h4v1h-4zM6 28h1v1h-1zM10 28h1v1h-1zM12 28h1v1h-1zM15 28h2v1h-2zM19 28h1v1h-1zM32 28h1v1h-1zM3 29h1v1h-1zM8 29h1v1h-1zM10 29h3v1h-3zM35 29h1v1h-1zM2 30h1v1h-1zM8 30h2v1h-2zM16 30h1v1h-1zM21 30h1v1h-1zM26 30h1v1h-1zM34 30h1v1h-1zM2 31h2v1h-2zM9 31h1v1h-1zM11 31h2v1h-2zM15 31h1v1h-1zM18 31h1v1h-1zM34 31h1v1h-1zM1 32h3v1h-3zM6 32h1v1h-1zM9 32h1v1h-1zM11 32h1v1h-1zM14 32h2v1h-2zM27 32h1v1h-1zM31 32h1v1h-1zM2 33h1v1h-1zM6 33h3v1h-3zM12 33h1v1h-1zM14 33h1v1h-1zM17 33h1v1h-1zM3 34h1v1h-1zM6 34h1v1h-1zM8 34h1v1h-1zM12 34h1v1h-1zM14 34h2v1h-2zM21 34h1v1h-1zM27 34h1v1h-1zM34 34h1v1h-1zM6 35h1v1h-1zM9 35h1v1h-1zM11 35h2v1h-2zM14 35h2v1h-2zM27 35h1v1h-1zM34 35h1v1h-1zM3 36h1v1h-1zM9 36h1v1h-1zM11 36h1v1h-1zM15 36h1v1h-1zM21 36h1v1h-1zM34 36h1v1h-1zM0 37h1v1h-1zM3 37h1v1h-1zM7 37h1v1h-1zM15 37h1v1h-1zM18 37h1v1h-1zM0 38h1v1h-1zM8 38h2v1h-2zM15 38h1v1h-1zM18 38h1v1h-1zM27 38h1v1h-1zM31 38h1v1h-1zM0 39h2v1h-2zM4 39h2v1h-2zM12 39h1v1h-1zM9 40h1v1h-1zM12 40h1v1h-1zM15 40h1v1h-1zM18 40h1v1h-1zM7 41h5v1h-5zM14 41h1v1h-1zM23 41h1v1h-1zM30 41h1v1h-1zM3 42h1v1h-1zM9 42h1v1h-1zM12 42h1v1h-1zM14 42h1v1h-1zM20 42h1v1h-1zM27 42h1v1h-1zM6 43h1v1h-1zM9 43h1v1h-1zM12 43h1v1h-1zM14 43h2v1h-2zM26 43h1v1h-1zM34 43h1v1h-1zM0 44h1v1h-1zM3 44h1v1h-1zM6 44h1v1h-1zM9 44h1v1h-1zM11 44h1v1h-1zM14 44h2v1h-2zM34 44h1v1h-1zM3 45h1v1h-1zM8 45h1v1h-1zM13 45h2v1h-2zM18 45h1v1h-1zM22 45h1v1h-1zM27 45h1v1h-1zM8 46h1v1h-1zM14 46h1v1h-1zM16 46h1v1h-1zM25 46h1v1h-1zM11 47h1v1h-1zM15 47h1v1h-1zM19 47h2v1h-2zM0 48h2v1h-2zM3 48h1v1h-1zM6 48h1v1h-1zM14 48h3v1h-3zM29 48h1v1h-1zM35 48h1v1h-1zM5 49h2v1h-2zM10 49h1v1h-1zM12 49h2v1h-2zM15 49h1v1h-1zM17 49h2v1h-2zM25 49h1v1h-1zM35 49h1v1h-1zM15 50h1v1h-1zM22 50h1v1h-1zM33 50h1v1h-1zM0 51h1v1h-1zM2 51h1v1h-1zM14 51h1v1h-1zM19 51h1v1h-1zM22 51h1v1h-1zM29 51h1v1h-1zM34 51h1v1h-1zM5 52h1v1h-1zM23 52h3v1h-3zM30 52h1v1h-1zM12 53h1v1h-1zM31 53h1v1h-1zM33 53h3v1h-3zM8 54h2v1h-2zM18 54h1v1h-1zM25 54h3v1h-3zM29 54h1v1h-1zM32 54h1v1h-1zM2 55h1v1h-1zM13 55h1v1h-1zM21 55h2v1h-2zM25 55h3v1h-3zM22 56h1v1h-1zM24 56h1v1h-1zM27 56h2v1h-2zM31 56h1v1h-1zM34 56h1v1h-1zM7 57h1v1h-1zM15 57h1v1h-1zM19 57h1v1h-1zM23 57h1v1h-1zM25 57h4v1h-4zM22 58h1v1h-1zM26 58h2v1h-2zM35 58h1v1h-1zM8 59h1v1h-1zM14 59h1v1h-1zM25 59h1v1h-1zM28 59h2v1h-2zM33 59h1v1h-1zM35 59h1v1h-1zM18 60h1v1h-1zM21 60h2v1h-2zM24 60h2v1h-2zM33 60h1v1h-1zM35 60h1v1h-1zM3 61h1v1h-1zM16 61h1v1h-1zM24 61h2v1h-2zM28 61h1v1h-1zM30 61h1v1h-1zM32 61h1v1h-1zM16 62h1v1h-1zM20 62h2v1h-2zM32 62h1v1h-1zM20 63h2v1h-2zM35 63h1v1h-1zM5 64h1v1h-1zM9 64h1v1h-1zM14 64h1v1h-1zM32 64h1v1h-1zM0 65h1v1h-1zM5 65h1v1h-1zM12 65h3v1h-3zM27 65h3v1h-3zM27 66h2v1h-2zM30 66h1v1h-1zM33 66h1v1h-1zM19 67h3v1h-3zM23 67h1v1h-1zM0 68h1v1h-1zM17 68h1v1h-1zM21 68h1v1h-1zM34 68h1v1h-1zM4 69h1v1h-1zM19 69h1v1h-1zM21 69h1v1h-1zM15 70h2v1h-2zM18 70h1v1h-1zM22 70h1v1h-1zM24 70h1v1h-1zM33 70h2v1h-2zM1 71h2v1h-2zM13 71h1v1h-1zM18 71h1v1h-1zM26 71h1v1h-1zM29 71h2v1h-2zM32 71h3v1h-3zM2 72h1v1h-1zM15 72h1v1h-1zM27 72h1v1h-1zM32 72h1v1h-1zM15 73h1v1h-1zM21 73h1v1h-1zM30 73h1v1h-1zM32 73h1v1h-1zM35 73h1v1h-1zM11 74h1v1h-1zM22 74h1v1h-1zM26 74h1v1h-1zM28 74h1v1h-1zM30 74h1v1h-1zM34 74h1v1h-1zM9 75h1v1h-1zM11 75h1v1h-1zM19 75h1v1h-1zM24 75h1v1h-1zM27 75h5v1h-5zM33 75h1v1h-1zM35 75h1v1h-1zM19 76h1v1h-1zM24 76h1v1h-1zM29 76h1v1h-1zM31 76h1v1h-1zM32 77h2v1h-2zM20 78h1v1h-1zM22 78h1v1h-1zM0 79h1v1h-1zM3 79h1v1h-1zM15 79h1v1h-1zM21 79h1v1h-1zM24 79h1v1h-1zM28 79h1v1h-1zM33 79h2v1h-2zM0 80h1v1h-1zM7 80h1v1h-1zM10 80h1v1h-1zM18 80h1v1h-1zM26 80h1v1h-1zM29 80h1v1h-1zM31 80h1v1h-1zM33 80h2v1h-2zM7 81h1v1h-1zM26 81h1v1h-1zM18 82h1v1h-1zM21 82h1v1h-1zM24 82h1v1h-1zM26 82h1v1h-1zM30 82h1v1h-1zM22 83h1v1h-1zM28 83h1v1h-1zM31 83h1v1h-1zM33 83h2v1h-2zM11 84h1v1h-1zM28 84h1v1h-1zM31 84h1v1h-1zM35 84h1v1h-1zM1 85h1v1h-1zM3 85h1v1h-1zM23 85h1v1h-1zM28 85h5v1h-5zM34 85h1v1h-1zM18 86h1v1h-1zM20 86h2v1h-2zM23 86h2v1h-2zM3 87h2v1h-2zM9 87h1v1h-1zM15 87h1v1h-1zM20 87h2v1h-2zM24 87h1v1h-1zM27 87h2v1h-2zM30 87h1v1h-1zM9 88h1v1h-1zM11 88h1v1h-1zM15 88h1v1h-1zM18 88h1v1h-1zM22 88h1v1h-1zM24 88h2v1h-2zM27 88h2v1h-2zM30 88h2v1h-2zM33 88h2v1h-2zM15 89h1v1h-1zM18 89h1v1h-1zM22 89h2v1h-2zM25 89h1v1h-1zM27 89h3v1h-3zM31 89h1v1h-1zM33 89h2v1h-2zM9 90h1v1h-1zM18 90h1v1h-1zM21 90h3v1h-3zM27 90h2v1h-2zM31 90h2v1h-2zM34 90h1v1h-1zM23 91h2v1h-2zM28 91h1v1h-1zM34 91h1v1h-1zM2 92h1v1h-1zM9 92h1v1h-1zM15 92h5v1h-5zM21 92h1v1h-1zM23 92h1v1h-1zM25 92h1v1h-1zM29 92h1v1h-1zM31 92h1v1h-1zM34 92h1v1h-1zM0 93h1v1h-1zM16 93h1v1h-1zM21 93h3v1h-3zM5 94h1v1h-1zM20 94h1v1h-1zM26 94h3v1h-3zM31 94h1v1h-1zM34 94h1v1h-1zM3 95h1v1h-1zM5 95h1v1h-1zM17 95h1v1h-1zM19 95h2v1h-2zM26 95h2v1h-2zM29 95h1v1h-1zM35 95h1v1h-1zM1 96h1v1h-1zM5 96h1v1h-1zM10 96h1v1h-1zM20 96h1v1h-1zM27 96h2v1h-2zM30 96h4v1h-4zM35 96h1v1h-1zM21 98h2v1h-2zM34 98h1v1h-1zM9 99h1v1h-1zM20 99h3v1h-3zM28 99h1v1h-1z"/>
<path fill="#c2c2ff" d="M12 0h4v1h-4zM17 0h2v1h-2zM23 0h5v1h-5zM29 0h6v1h-6zM4 1h1v1h-1zM15 1h1v1h-1zM19 1h1v1h-1zM23 1h2v1h-2zM26 1h2v1h-2zM31 1h1v1h-1zM7 2h1v1h-1zM12 2h1v1h-1zM18 2h1v1h-1zM23 2h1v1h-1zM25 2h1v1h-1zM30 2h1v1h-1zM33 2h1v1h-1zM13 3h1v1h-1zM28 3h1v1h-1zM30 3h1v1h-1zM19 4h1v1h-1zM22 4h1v1h-1zM27 4h1v1h-1zM31 4h1v1h-1zM18 5h1v1h-1zM2 6h1v1h-1zM27 6h1v1h-1zM2 7h1v1h-1zM5 7h1v1h-1zM22 7h1v1h-1zM34 7h1v1h-1zM0 8h1v1h-1zM3 9h1v1h-1zM28 9h1v1h-1zM30 9h1v1h-1zM23 10h1v1h-1zM0 11h1v1h-1zM2 11h1v1h-1zM4 11h2v1h-2zM19 11h5v1h-5zM30 11h1v1h-1zM29 12h1v1h-1zM18 13h1v1h-1zM22 14h1v1h-1zM29 14h1v1h-1zM4 15h1v1h-1zM18 15h1v1h-1zM22 15h2v1h-2zM28 15h1v1h-1zM34 15h1v1h-1zM5 16h1v1h-1zM22 16h1v1h-1zM0 17h1v1h-1zM5 17h1v1h-1zM18 17h2v1h-2zM21 17h3v1h-3zM28 17h1v1h-1zM31 17h1v1h-1zM33 17h2v1h-2zM9 18h1v1h-1zM15 18h1v1h-1zM23 18h1v1h-1zM35 18h1v1h-1zM29 19h1v1h-1zM32 19h1v1h-1zM5 20h1v1h-1zM18 20h1v1h-1zM22 20h1v1h-1zM24 20h1v1h-1zM23 21h2v1h-2zM13 22h1v1h-1zM25 22h1v1h-1zM30 22h1v1h-1zM32 22h1v1h-1zM12 23h1v1h-1zM30 23h1v1h-1zM32 23h2v1h-2zM1 24h1v1h-1zM18 24h1v1h-1zM23 24h1v1h-1zM4 25h1v1h-1zM20 25h1v1h-1zM24 25h2v1h-2zM28 25h1v1h-1zM4 26h1v1h-1zM25 26h1v1h-1zM28 26h1v1h-1zM32 26h1v1h-1zM18 27h6v1h-6zM25 27h1v1h-1zM3 28h1v1h-1zM27 28h1v1h-1zM30 28h2v1h-2zM6 29h1v1h-1zM20 29h4v1h-4zM28 29h1v1h-1zM31 29h1v1h-1zM33 29h1v1h-1zM5 30h1v1h-1zM28 30h1v1h-1zM24 31h1v1h-1zM28 31h1v1h-1zM32 31h1v1h-1zM4 32h1v1h-1zM19 32h1v1h-1zM24 32h1v1h-1zM28 32h1v1h-1zM30 32h1v1h-1zM32 32h1v1h-1zM0 33h1v1h-1zM13 33h1v1h-1zM15 33h1v1h-1zM22 33h1v1h-1zM25 33h1v1h-1zM28 33h1v1h-1zM30 33h1v1h-1zM2 34h1v1h-1zM24 34h1v1h-1zM32 34h1v1h-1zM4 35h1v1h-1zM19 35h1v1h-1zM23 35h2v1h-2zM30 35h1v1h-1zM32 35h1v1h-1zM0 36h1v1h-1zM2 36h1v1h-1zM4 36h1v1h-1zM19 36h1v1h-1zM22 36h3v1h-3zM30 36h1v1h-1zM17 37h1v1h-1zM5 38h1v1h-1zM23 38h1v1h-1zM8 39h1v1h-1zM15 39h1v1h-1zM17 39h1v1h-1zM24 39h7v1h-7zM32 39h2v1h-2zM35 39h1v1h-1zM6 40h1v1h-1zM29 40h1v1h-1zM35 40h1v1h-1zM13 41h1v1h-1zM21 41h1v1h-1zM26 41h1v1h-1zM1 43h1v1h-1zM21 43h1v1h-1zM24 43h1v1h-1zM33 43h1v1h-1zM4 44h1v1h-1zM18 44h1v1h-1zM22 44h1v1h-1zM24 44h1v1h-1zM28 45h1v1h-1zM18 46h3v1h-3zM22 46h2v1h-2zM12 47h1v1h-1zM17 47h1v1h-1zM25 47h9v1h-9zM0 50h2v1h-2zM4 50h1v1h-1zM6 50h2v1h-2zM9 50h4v1h-4zM14 50h1v1h-1zM16 50h3v1h-3zM21 50h1v1h-1zM28 50h2v1h-2zM32 50h1v1h-1zM1 52h1v1h-1zM0 53h7v1h-7zM10 53h1v1h-1zM13 53h1v1h-1zM15 53h1v1h-1zM8 55h5v1h-5zM15 55h3v1h-3zM29 55h4v1h-4zM4 56h1v1h-1zM7 56h1v1h-1zM13 56h1v1h-1zM16 56h2v1h-2zM33 56h1v1h-1zM35 56h1v1h-1zM6 57h1v1h-1zM14 57h1v1h-1zM17 57h1v1h-1zM20 57h1v1h-1zM3 58h2v1h-2zM16 58h1v1h-1zM19 58h3v1h-3zM23 58h1v1h-1zM34 59h1v1h-1zM6 61h1v1h-1zM17 61h1v1h-1zM2 62h6v1h-6zM34 62h1v1h-1zM7 63h1v1h-1zM9 63h3v1h-3zM13 63h5v1h-5zM26 63h1v1h-1zM29 63h2v1h-2zM34 63h1v1h-1zM30 64h1v1h-1zM7 65h1v1h-1zM34 65h1v1h-1zM1 66h4v1h-4zM6 66h1v1h-1zM9 66h1v1h-1zM19 66h1v1h-1zM21 66h2v1h-2zM29 66h1v1h-1zM16 67h1v1h-1zM9 68h2v1h-2zM12 68h1v1h-1zM15 68h1v1h-1zM26 68h1v1h-1zM28 68h1v1h-1zM31 68h1v1h-1zM0 70h4v1h-4zM5 70h1v1h-1zM23 70h1v1h-1zM26 70h1v1h-1zM35 70h1v1h-1zM0 72h1v1h-1zM3 72h1v1h-1zM5 72h1v1h-1zM18 72h2v1h-2zM0 74h7v1h-7zM8 74h1v1h-1zM10 74h1v1h-1zM12 74h3v1h-3zM16 74h3v1h-3zM25 74h1v1h-1zM31 74h2v1h-2zM10 76h1v1h-1zM27 76h1v1h-1zM0 77h5v1h-5zM8 77h1v1h-1zM10 77h1v1h-1zM13 77h1v1h-1zM25 77h1v1h-1zM35 77h1v1h-1zM8 78h9v1h-9zM27 78h1v1h-1zM31 78h1v1h-1zM33 78h3v1h-3zM13 79h2v1h-2zM16 79h1v1h-1zM26 79h1v1h-1zM1 80h1v1h-1zM1 81h1v1h-1zM8 81h1v1h-1zM7 82h2v1h-2zM10 82h6v1h-6zM17 82h1v1h-1zM25 82h1v1h-1zM27 82h2v1h-2zM32 82h2v1h-2zM5 83h1v1h-1zM7 83h1v1h-1zM12 83h1v1h-1zM32 83h1v1h-1zM35 83h1v1h-1zM4 84h3v1h-3zM10 84h1v1h-1zM19 84h1v1h-1zM21 84h1v1h-1zM7 86h5v1h-5zM14 86h4v1h-4zM25 86h2v1h-2zM29 86h1v1h-1zM32 86h1v1h-1zM35 86h1v1h-1zM7 87h1v1h-1zM12 88h1v1h-1zM1 89h1v1h-1zM12 89h1v1h-1zM19 89h1v1h-1zM1 90h1v1h-1zM6 90h1v1h-1zM19 90h1v1h-1zM26 90h1v1h-1zM5 91h1v1h-1zM7 91h8v1h-8zM16 91h2v1h-2zM25 91h1v1h-1zM27 91h1v1h-1zM30 91h2v1h-2zM33 91h1v1h-1zM2 93h1v1h-1zM9 93h1v1h-1zM15 93h1v1h-1zM33 93h1v1h-1zM3 94h2v1h-2zM15 94h1v1h-1zM22 94h1v1h-1zM25 94h1v1h-1zM30 94h1v1h-1zM14 95h1v1h-1zM17 96h1v1h-1zM34 96h1v1h-1zM1 97h4v1h-4zM6 97h1v1h-1zM22 97h2v1h-2zM26 97h1v1h-1zM7 98h4v1h-4zM12 98h1v1h-1zM14 98h4v1h-4zM24 98h3v1h-3zM30 98h1v1h-1zM32 98h1v1h-1zM1 99h1v1h-1z"/>
<path fill="#a3a3ff" d="M22 1h1v1h-1zM25 1h1v1h-1zM29 1h2v1h-2zM32 1h2v1h-2zM5 3h1v1h-1zM18 3h1v1h-1zM20 3h3v1h-3zM29 3h1v1h-1zM34 3h1v1h-1zM21 4h1v1h-1zM30 4h1v1h-1zM28 5h4v1h-4zM28 6h3v1h-3zM32 6h2v1h-2zM18 7h1v1h-1zM21 8h1v1h-1zM3 10h3v1h-3zM20 10h2v1h-2zM29 10h2v1h-2zM32 10h2v1h-2zM29 11h1v1h-1zM33 11h1v1h-1zM4 12h1v1h-1zM19 12h1v1h-1zM19 13h2v1h-2zM30 14h1v1h-1zM20 15h1v1h-1zM30 15h1v1h-1zM33 15h1v1h-1zM25 16h1v1h-1zM27 16h4v1h-4zM32 16h1v1h-1zM24 17h1v1h-1zM30 17h1v1h-1zM13 18h1v1h-1zM24 18h2v1h-2zM27 18h1v1h-1zM29 18h5v1h-5zM22 19h4v1h-4zM30 19h1v1h-1zM33 19h1v1h-1zM4 21h2v1h-2zM22 21h1v1h-1zM25 21h1v1h-1zM30 21h1v1h-1zM32 21h2v1h-2zM23 22h2v1h-2zM22 23h1v1h-1zM24 23h1v1h-1zM29 23h1v1h-1zM24 24h2v1h-2zM27 24h4v1h-4zM32 24h3v1h-3zM19 25h1v1h-1zM23 25h1v1h-1zM29 25h2v1h-2zM32 25h1v1h-1zM1 26h1v1h-1zM24 26h1v1h-1zM29 26h1v1h-1zM33 26h1v1h-1zM24 27h1v1h-1zM28 27h3v1h-3zM32 27h2v1h-2zM1 28h1v1h-1zM23 28h1v1h-1zM33 28h2v1h-2zM24 29h1v1h-1zM26 29h1v1h-1zM29 29h1v1h-1zM20 30h1v1h-1zM22 30h1v1h-1zM24 30h1v1h-1zM29 30h2v1h-2zM4 31h2v1h-2zM20 31h1v1h-1zM22 31h2v1h-2zM25 31h1v1h-1zM29 31h2v1h-2zM33 31h1v1h-1zM20 32h1v1h-1zM22 32h1v1h-1zM29 32h1v1h-1zM4 33h1v1h-1zM23 33h2v1h-2zM4 34h2v1h-2zM18 34h1v1h-1zM20 34h1v1h-1zM22 34h1v1h-1zM25 34h1v1h-1zM28 34h1v1h-1zM35 34h1v1h-1zM20 35h1v1h-1zM25 35h1v1h-1zM28 35h2v1h-2zM33 35h1v1h-1zM20 36h1v1h-1zM2 37h1v1h-1zM4 37h2v1h-2zM20 37h3v1h-3zM24 37h1v1h-1zM28 37h3v1h-3zM32 37h1v1h-1zM24 38h3v1h-3zM28 38h3v1h-3zM32 38h1v1h-1zM19 40h2v1h-2zM22 40h1v1h-1zM24 40h1v1h-1zM19 41h2v1h-2zM22 41h1v1h-1zM13 42h1v1h-1zM19 42h1v1h-1zM21 42h4v1h-4zM26 42h1v1h-1zM28 42h1v1h-1zM30 42h1v1h-1zM33 42h1v1h-1zM28 43h1v1h-1zM17 44h1v1h-1zM19 44h2v1h-2zM28 44h3v1h-3zM33 44h1v1h-1zM23 45h2v1h-2zM29 45h1v1h-1zM1 46h1v1h-1zM4 46h2v1h-2zM24 46h1v1h-1zM33 46h1v1h-1zM35 46h1v1h-1zM1 47h1v1h-1zM14 47h1v1h-1zM23 47h1v1h-1zM2 48h1v1h-1zM5 48h1v1h-1zM18 48h1v1h-1zM21 48h1v1h-1zM23 48h1v1h-1zM26 48h1v1h-1zM4 49h1v1h-1zM19 49h2v1h-2zM22 49h2v1h-2zM27 49h1v1h-1zM2 50h1v1h-1zM19 50h1v1h-1zM12 51h1v1h-1zM2 52h1v1h-1zM6 52h1v1h-1zM11 52h3v1h-3zM16 52h1v1h-1zM20 52h1v1h-1zM21 53h1v1h-1zM28 53h1v1h-1zM4 54h1v1h-1zM6 54h1v1h-1zM13 54h1v1h-1zM0 56h1v1h-1zM5 56h2v1h-2zM8 56h2v1h-2zM11 56h1v1h-1zM14 56h2v1h-2zM29 56h2v1h-2zM0 58h1v1h-1zM13 58h1v1h-1zM10 59h4v1h-4zM15 59h1v1h-1zM26 59h1v1h-1zM32 59h1v1h-1zM1 60h1v1h-1zM15 60h1v1h-1zM2 61h1v1h-1zM4 61h1v1h-1zM7 61h1v1h-1zM10 61h3v1h-3zM0 62h1v1h-1zM10 62h2v1h-2zM14 62h2v1h-2zM26 62h1v1h-1zM31 62h1v1h-1zM35 62h1v1h-1zM1 64h2v1h-2zM22 64h1v1h-1zM1 65h1v1h-1zM3 65h2v1h-2zM6 65h1v1h-1zM16 65h1v1h-1zM21 65h1v1h-1zM7 66h1v1h-1zM10 66h1v1h-1zM15 66h3v1h-3zM0 67h3v1h-3zM8 67h1v1h-1zM15 67h1v1h-1zM17 67h1v1h-1zM22 67h1v1h-1zM1 68h4v1h-4zM20 68h1v1h-1zM22 68h1v1h-1zM6 70h2v1h-2zM12 70h3v1h-3zM20 70h1v1h-1zM0 71h1v1h-1zM5 71h2v1h-2zM7 72h1v1h-1zM10 72h1v1h-1zM12 72h1v1h-1zM14 72h1v1h-1zM16 72h2v1h-2zM0 73h1v1h-1zM2 73h2v1h-2zM6 73h1v1h-1zM8 73h1v1h-1zM12 73h1v1h-1zM14 73h1v1h-1zM17 73h1v1h-1zM20 74h2v1h-2zM1 75h1v1h-1zM8 75h1v1h-1zM14 77h1v1h-1zM16 77h2v1h-2zM1 79h2v1h-2zM4 79h3v1h-3zM18 79h1v1h-1zM27 79h1v1h-1zM9 81h2v1h-2zM12 81h3v1h-3zM17 81h1v1h-1zM24 81h2v1h-2zM9 83h1v1h-1zM1 84h2v1h-2zM7 84h2v1h-2zM13 84h2v1h-2zM2 85h1v1h-1zM4 85h3v1h-3zM8 85h1v1h-1zM10 85h1v1h-1zM18 85h1v1h-1zM21 85h1v1h-1zM14 87h1v1h-1zM17 87h1v1h-1zM26 87h1v1h-1zM1 88h1v1h-1zM8 88h1v1h-1zM17 88h1v1h-1zM16 89h2v1h-2zM2 90h1v1h-1zM14 90h1v1h-1zM7 92h2v1h-2zM10 92h1v1h-1zM12 92h3v1h-3zM3 93h1v1h-1zM6 93h1v1h-1zM10 93h1v1h-1zM12 93h1v1h-1zM14 93h1v1h-1zM24 93h1v1h-1zM27 93h1v1h-1zM1 94h1v1h-1zM6 94h1v1h-1zM12 94h1v1h-1zM8 95h1v1h-1zM30 95h1v1h-1zM16 96h1v1h-1z"/>
<path fill="#8080ff" d="M29 2h1v1h-1zM0 3h1v1h-1zM15 4h1v1h-1zM18 4h1v1h-1zM25 4h1v1h-1zM29 4h1v1h-1zM2 5h1v1h-1zM5 5h1v1h-1zM13 5h1v1h-1zM19 5h1v1h-1zM21 5h1v1h-1zM25 5h1v1h-1zM13 6h1v1h-1zM29 8h1v1h-1zM32 8h1v1h-1zM5 9h1v1h-1zM18 9h1v1h-1zM23 9h2v1h-2zM29 9h1v1h-1zM32 9h1v1h-1zM24 10h1v1h-1zM27 10h1v1h-1zM22 12h2v1h-2zM25 12h1v1h-1zM32 12h2v1h-2zM5 13h1v1h-1zM22 13h1v1h-1zM25 13h1v1h-1zM30 13h1v1h-1zM33 13h1v1h-1zM0 14h1v1h-1zM18 14h1v1h-1zM25 14h1v1h-1zM33 14h1v1h-1zM7 16h1v1h-1zM19 16h1v1h-1zM32 17h1v1h-1zM0 19h2v1h-2zM25 20h1v1h-1zM30 20h1v1h-1zM32 20h1v1h-1zM29 21h1v1h-1zM29 22h1v1h-1zM33 22h1v1h-1zM25 23h1v1h-1zM11 24h1v1h-1zM33 25h1v1h-1zM19 26h1v1h-1zM30 26h1v1h-1zM24 28h1v1h-1zM28 28h1v1h-1zM25 29h1v1h-1zM25 30h1v1h-1zM33 30h1v1h-1zM23 32h1v1h-1zM33 32h1v1h-1zM32 33h1v1h-1zM22 35h1v1h-1zM29 36h1v1h-1zM32 36h2v1h-2zM4 38h1v1h-1zM19 38h1v1h-1zM2 39h1v1h-1zM19 39h1v1h-1zM21 39h1v1h-1zM1 40h1v1h-1zM3 41h1v1h-1zM24 41h1v1h-1zM33 41h1v1h-1zM17 42h1v1h-1zM19 43h1v1h-1zM22 43h2v1h-2zM29 43h1v1h-1zM21 44h1v1h-1zM4 45h1v1h-1zM19 45h1v1h-1zM33 45h1v1h-1zM21 47h1v1h-1zM11 49h1v1h-1zM30 49h2v1h-2zM33 49h1v1h-1zM7 51h1v1h-1zM13 51h1v1h-1zM16 51h2v1h-2zM28 52h2v1h-2zM31 52h1v1h-1zM17 53h1v1h-1zM10 54h1v1h-1zM15 54h1v1h-1zM17 54h1v1h-1zM31 54h1v1h-1zM4 55h1v1h-1zM6 55h1v1h-1zM0 57h1v1h-1zM3 57h1v1h-1zM5 57h1v1h-1zM9 58h3v1h-3zM14 58h1v1h-1zM17 58h1v1h-1zM8 60h1v1h-1zM10 60h1v1h-1zM14 60h1v1h-1zM26 60h1v1h-1zM31 60h1v1h-1zM26 61h1v1h-1zM31 61h1v1h-1zM35 61h1v1h-1zM9 65h1v1h-1zM17 65h1v1h-1zM26 66h1v1h-1zM5 67h1v1h-1zM13 67h1v1h-1zM18 67h1v1h-1zM5 68h1v1h-1zM0 69h2v1h-2zM5 69h1v1h-1zM20 69h1v1h-1zM12 71h1v1h-1zM14 71h1v1h-1zM17 71h1v1h-1zM25 72h1v1h-1zM25 73h1v1h-1zM10 75h1v1h-1zM14 75h1v1h-1zM16 75h2v1h-2zM26 75h1v1h-1zM32 75h1v1h-1zM8 76h1v1h-1zM14 76h1v1h-1zM17 76h1v1h-1zM26 76h1v1h-1zM26 77h1v1h-1zM2 80h1v1h-1zM5 80h1v1h-1zM8 80h2v1h-2zM14 80h1v1h-1zM27 80h1v1h-1zM1 83h2v1h-2zM29 84h2v1h-2zM2 86h2v1h-2zM5 86h1v1h-1zM1 87h2v1h-2zM5 87h1v1h-1zM10 87h1v1h-1zM14 88h1v1h-1zM26 88h1v1h-1zM2 89h1v1h-1zM7 89h2v1h-2zM10 89h1v1h-1zM26 89h1v1h-1zM35 89h1v1h-1zM7 90h2v1h-2zM10 90h1v1h-1zM17 90h1v1h-1zM29 90h1v1h-1zM3 91h1v1h-1zM18 91h1v1h-1zM5 92h2v1h-2zM22 92h1v1h-1zM8 93h1v1h-1zM11 94h1v1h-1zM12 95h2v1h-2zM8 96h1v1h-1zM11 96h2v1h-2zM14 96h1v1h-1z"/>
<path fill="#3838ff" d="M18 6h1v1h-1zM28 7h3v1h-3zM4 8h1v1h-1zM18 8h1v1h-1zM32 11h1v1h-1zM4 14h1v1h-1zM29 15h1v1h-1zM4 28h1v1h-1zM25 32h1v1h-1zM20 33h1v1h-1zM26 40h1v1h-1zM30 48h1v1h-1zM32 48h1v1h-1zM5 54h1v1h-1zM10 57h1v1h-1zM16 57h1v1h-1zM1 63h1v1h-1zM16 64h2v1h-2zM10 65h1v1h-1zM25 71h1v1h-1zM1 82h2v1h-2zM10 83h1v1h-1zM7 85h1v1h-1zM2 88h1v1h-1zM8 94h1v1h-1zM1 95h1v1h-1zM2 96h1v1h-1zM6 98h1v1h-1zM6 99h1v1h-1z"/>
</g>
<path d="M110.00 277.49H83.87V284.00H110.00M110.00 205.80H82.67V212.32H110.00M110.00 303.55H82.08V310.07H110.00M110.00 244.90H81.30V251.42H110.00M110.00 270.97H81.11V280.74H83.87M110.00 218.83H80.76V225.35H110.00M110.00 81.98H77.37V88.49H110.00M82.67 209.06H75.65V222.09H80.76M110.00 355.69H74.85V362.21H110.00M110.00 238.38H74.71V248.16H81.30M110.00 147.15H74.33V153.66H110.00M110.00 297.04H73.82V306.81H82.08M110.00 75.46H69.92V85.23H77.37M81.11 275.86H68.91V290.52H110.00M74.33 150.40H66.38V160.18H110.00M68.91 283.19H66.01V301.92H73.82M110.00 349.17H65.13V358.95H74.85M110.00 199.28H64.32V215.57H75.65M110.00 134.11H64.12V140.63H110.00M110.00 95.01H62.48V101.53H110.00M110.00 166.70H62.22V173.21H110.00M110.00 231.87H61.84V243.27H74.71M110.00 114.56H61.25V121.08H110.00M110.00 368.72H60.12V375.24H110.00M62.22 169.96H59.75V179.73H110.00M110.00 316.59H59.51V323.10H110.00M66.38 155.29H57.93V174.84H59.75M110.00 127.59H57.90V137.37H64.12M110.00 192.76H57.53V207.43H64.32M66.01 292.56H56.91V319.85H59.51M110.00 108.04H55.89V117.82H61.25M110.00 342.66H54.89V354.06H65.13M57.53 200.10H54.17V237.57H61.84M54.89 348.36H52.87V371.98H60.12M110.00 336.14H49.04V360.17H52.87M57.90 132.48H48.65V165.07H57.93M110.00 264.45H48.54V306.20H56.91M69.92 80.35H47.65V98.27H62.48M110.00 186.25H46.81V218.83H54.17M48.54 285.33H46.24V329.62H110.00M110.00 381.76H44.74V388.27H110.00M47.65 89.31H43.25V112.93H55.89M48.65 148.77H42.80V202.54H46.81M46.24 307.47H38.43V348.15H49.04M44.74 385.02H37.38V394.79H110.00M43.25 101.12H35.91V175.66H42.80M35.91 138.39H33.53V257.93H110.00M38.43 327.81H32.04V389.90H37.38M33.53 198.16H26.44V358.86H32.04M110.00 642.44H71.01V648.95H110.00M110.00 655.47H65.37V661.99H110.00M110.00 538.17H64.91V544.68H110.00M110.00 564.23H61.72V570.75H110.00M110.00 688.06H60.70V694.57H110.00M110.00 551.20H60.68V557.72H110.00M71.01 645.70H60.23V658.73H65.37M110.00 473.00H59.45V479.51H110.00M110.00 499.06H56.97V505.58H110.00M61.72 567.49H56.77V577.27H110.00M110.00 590.30H56.73V596.82H110.00M110.00 525.13H54.70V531.65H110.00M110.00 714.12H52.64V720.64H110.00M64.91 541.42H51.97V554.46H60.68M110.00 609.85H51.88V616.37H110.00M110.00 701.09H50.98V707.61H110.00M110.00 420.86H50.75V427.38H110.00M110.00 622.89H50.41V629.40H110.00M110.00 675.02H50.34V681.54H110.00M110.00 486.03H49.29V492.55H110.00M110.00 466.48H48.96V476.25H59.45M110.00 635.92H48.27V652.21H60.23M110.00 401.31H47.75V407.83H110.00M110.00 433.89H47.04V440.41H110.00M110.00 603.34H45.31V613.11H51.88M110.00 459.96H44.73V471.37H48.96M110.00 446.93H44.49V453.44H110.00M110.00 518.61H43.91V528.39H54.70M47.75 404.57H43.75V414.34H110.00M51.97 547.94H43.28V572.38H56.77M110.00 668.51H42.47V678.28H50.34M50.98 704.35H42.28V717.38H52.64M110.00 583.78H42.18V593.56H56.73M49.29 489.29H42.09V502.32H56.97M60.70 691.32H41.64V710.87H42.28M50.75 424.12H41.58V437.15H47.04M110.00 512.10H40.35V523.50H43.91M50.41 626.15H37.63V644.07H48.27M43.28 560.16H36.71V588.67H42.18M41.58 430.63H33.99V450.19H44.49M43.75 409.45H31.43V440.41H33.99M36.71 574.42H31.33V608.22H45.31M42.09 495.81H29.74V517.80H40.35M44.73 465.66H26.26V506.80H29.74M31.33 591.32H24.09V635.11H37.63M31.43 424.93H23.65V486.23H26.26M24.09 613.21H22.20V673.39H42.47M22.20 643.30H22.18V701.09H41.64M23.65 455.58H17.62V672.20H22.18M26.44 278.51H6.20V563.89H17.62" fill="none" stroke="#000" stroke-width="1.6" stroke-linejoin="miter"/>
<defs><linearGradient id="hgA" x1="0" y1="1" x2="0" y2="0">
<stop offset="0.0000" stop-color="rgb(0,0,255)"/><stop offset="0.0200" stop-color="rgb(0,0,255)"/>
<stop offset="0.0200" stop-color="rgb(10,10,255)"/><stop offset="0.0400" stop-color="rgb(10,10,255)"/>
<stop offset="0.0400" stop-color="rgb(21,21,255)"/><stop offset="0.0600" stop-color="rgb(21,21,255)"/>
<stop offset="0.0600" stop-color="rgb(31,31,255)"/><stop offset="0.0800" stop-color="rgb(31,31,255)"/>
<stop offset="0.0800" stop-color="rgb(42,42,255)"/><stop offset="0.1000" stop-color="rgb(42,42,255)"/>
<stop offset="0.1000" stop-color="rgb(52,52,255)"/><stop offset="0.1200" stop-color="rgb(52,52,255)"/>
<stop offset="0.1200" stop-color="rgb(62,62,255)"/><stop offset="0.1400" stop-color="rgb(62,62,255)"/>
<stop offset="0.1400" stop-color="rgb(73,73,255)"/><stop offset="0.1600" stop-color="rgb(73,73,255)"/>
<stop offset="0.1600" stop-color="rgb(83,83,255)"/><stop offset="0.1800" stop-color="rgb(83,83,255)"/>
<stop offset="0.1800" stop-color="rgb(94,94,255)"/><stop offset="0.2000" stop-color="rgb(94,94,255)"/>
<stop offset="0.2000" stop-color="rgb(104,104,255)"/><stop offset="0.2200" stop-color="rgb(104,104,255)"/>
<stop offset="0.2200" stop-color="rgb(114,114,255)"/><stop offset="0.2400" stop-color="rgb(114,114,255)"/>
<stop offset="0.2400" stop-color="rgb(125,125,255)"/><stop offset="0.2600" stop-color="rgb(125,125,255)"/>
<stop offset="0.2600" stop-color="rgb(135,135,255)"/><stop offset="0.2800" stop-color="rgb(135,135,255)"/>
<stop offset="0.2800" stop-color="rgb(146,146,255)"/><stop offset="0.3000" stop-color="rgb(146,146,255)"/>
<stop offset="0.3000" stop-color="rgb(156,156,255)"/><stop offset="0.3200" stop-color="rgb(156,156,255)"/>
<stop offset="0.3200" stop-color="rgb(167,167,255)"/><stop offset="0.3400" stop-color="rgb(167,167,255)"/>
<stop offset="0.3400" stop-color="rgb(177,177,255)"/><stop offset="0.3600" stop-color="rgb(177,177,255)"/>
<stop offset="0.3600" stop-color="rgb(187,187,255)"/><stop offset="0.3800" stop-color="rgb(187,187,255)"/>
<stop offset="0.3800" stop-color="rgb(198,198,255)"/><stop offset="0.4000" stop-color="rgb(198,198,255)"/>
<stop offset="0.4000" stop-color="rgb(208,208,255)"/><stop offset="0.4200" stop-color="rgb(208,208,255)"/>
<stop offset="0.4200" stop-color="rgb(219,219,255)"/><stop offset="0.4400" stop-color="rgb(219,219,255)"/>
<stop offset="0.4400" stop-color="rgb(229,229,255)"/><stop offset="0.4600" stop-color="rgb(229,229,255)"/>
<stop offset="0.4600" stop-color="rgb(239,239,255)"/><stop offset="0.4800" stop-color="rgb(239,239,255)"/>
<stop offset="0.4800" stop-color="rgb(250,250,255)"/><stop offset="0.5000" stop-color="rgb(250,250,255)"/>
<stop offset="0.5000" stop-color="rgb(255,250,250)"/><stop offset="0.5200" stop-color="rgb(255,250,250)"/>
<stop offset="0.5200" stop-color="rgb(255,239,239)"/><stop offset="0.5400" stop-color="rgb(255,239,239)"/>
<stop offset="0.5400" stop-color="rgb(255,229,229)"/><stop offset="0.5600" stop-color="rgb(255,229,229)"/>
<stop offset="0.5600" stop-color="rgb(255,219,219)"/><stop offset="0.5800" stop-color="rgb(255,219,219)"/>
<stop offset="0.5800" stop-color="rgb(255,208,208)"/><stop offset="0.6000" stop-color="rgb(255,208,208)"/>
<stop offset="0.6000" stop-color="rgb(255,198,198)"/><stop offset="0.6200" stop-color="rgb(255,198,198)"/>
<stop offset="0.6200" stop-color="rgb(255,187,187)"/><stop offset="0.6400" stop-color="rgb(255,187,187)"/>
<stop offset="0.6400" stop-color="rgb(255,177,177)"/><stop offset="0.6600" stop-color="rgb(255,177,177)"/>
<stop offset="0.6600" stop-color="rgb(255,167,167)"/><stop offset="0.6800" stop-color="rgb(255,167,167)"/>
<stop offset="0.6800" stop-color="rgb(255,156,156)"/><stop offset="0.7000" stop-color="rgb(255,156,156)"/>
<stop offset="0.7000" stop-color="rgb(255,146,146)"/><stop offset="0.7200" stop-color="rgb(255,146,146)"/>
<stop offset="0.7200" stop-color="rgb(255,135,135)"/><stop offset="0.7400" stop-color="rgb(255,135,135)"/>
<stop offset="0.7400" stop-color="rgb(255,125,125)"/><stop offset="0.7600" stop-color="rgb(255,125,125)"/>
<stop offset="0.7600" stop-color="rgb(255,114,114)"/><stop offset="0.7800" stop-color="rgb(255,114,114)"/>
<stop offset="0.7800" stop-color="rgb(255,104,104)"/><stop offset="0.8000" stop-color="rgb(255,104,104)"/>
<stop offset="0.8000" stop-color="rgb(255,94,94)"/><stop offset="0.8200" stop-color="rgb(255,94,94)"/>
<stop offset="0.8200" stop-color="rgb(255,83,83)"/><stop offset="0.8400" stop-color="rgb(255,83,83)"/>
<stop offset="0.8400" stop-color="rgb(255,73,73)"/><stop offset="0.8600" stop-color="rgb(255,73,73)"/>
<stop offset="0.8600" stop-color="rgb(255,62,62)"/><stop offset="0.8800" stop-color="rgb(255,62,62)"/>
<stop offset="0.8800" stop-color="rgb(255,52,52)"/><stop offset="0.9000" stop-color="rgb(255,52,52)"/>
<stop offset="0.9000" stop-color="rgb(255,42,42)"/><stop offset="0.9200" stop-color="rgb(255,42,42)"/>
<stop offset="0.9200" stop-color="rgb(255,31,31)"/><stop offset="0.9400" stop-color="rgb(255,31,31)"/>
<stop offset="0.9400" stop-color="rgb(255,21,21)"/><stop offset="0.9600" stop-color="rgb(255,21,21)"/>
<stop offset="0.9600" stop-color="rgb(255,10,10)"/><stop offset="0.9800" stop-color="rgb(255,10,10)"/>
<stop offset="0.9800" stop-color="rgb(255,0,0)"/><stop offset="1.0000" stop-color="rgb(255,0,0)"/>
</linearGradient></defs>
<rect x="694.56" y="72.20" width="19.9" height="298.50" fill="url(#hgA)"/>
<text x="0" y="0" font-size="15.20" transform="translate(722.16 110.00) scale(1.000 1.070)">3</text>
<text x="0" y="0" font-size="15.20" transform="translate(722.16 149.00) scale(1.000 1.070)">2</text>
<text x="0" y="0" font-size="15.20" transform="translate(722.16 187.70) scale(1.000 1.070)">1</text>
<text x="0" y="0" font-size="15.20" transform="translate(722.16 226.50) scale(1.000 1.070)">0</text>
<text x="0" y="0" font-size="15.20" transform="translate(722.16 265.50) scale(1.000 1.070)">−1</text>
<text x="0" y="0" font-size="15.20" transform="translate(722.16 304.50) scale(1.000 1.070)">−2</text>
<text x="0" y="0" font-size="15.20" transform="translate(722.16 343.70) scale(1.000 1.070)">−3</text>
<text x="0" y="0" font-size="15.50" font-weight="bold" transform="translate(743.56 83.70) scale(1.000 1.150)">Type</text>
<rect x="742.36" y="89.30" width="22.6" height="22.8" fill="#00DAE0"/>
<rect x="742.36" y="112.00" width="22.6" height="22.6" fill="#E199FF"/>
<text x="0" y="0" font-size="15.90" transform="translate(769.76 106.00) scale(1.000 1.080)">High</text>
<text x="0" y="0" font-size="15.90" transform="translate(769.76 128.60) scale(1.000 1.080)">Low</text>
<text x="0" y="0" font-size="15.50" font-weight="bold" transform="translate(743.56 163.00) scale(1.000 1.150)">Project</text>
<rect x="742.36" y="168.90" width="22.6" height="23.0" fill="#96CA00"/>
<rect x="742.36" y="191.80" width="22.6" height="22.8" fill="#FF9289"/>
<text x="0" y="0" font-size="15.90" transform="translate(769.76 186.40) scale(1.000 1.100)">GSE12654</text>
<text x="0" y="0" font-size="15.90" transform="translate(769.76 209.00) scale(1.000 1.100)">GSE21935</text>
<rect x="110.50" y="783.80" width="286.83" height="15.60" fill="#00DAE0"/>
<rect x="397.33" y="783.80" width="286.83" height="15.60" fill="#E199FF"/>
<rect x="110.50" y="803.70" width="79.67" height="15.60" fill="#96CA00"/>
<rect x="190.18" y="803.70" width="207.16" height="15.60" fill="#FF9289"/>
<rect x="397.33" y="803.70" width="127.48" height="15.60" fill="#96CA00"/>
<rect x="524.81" y="803.70" width="159.35" height="15.60" fill="#FF9289"/>
<text x="0" y="0" font-size="15.50" font-weight="bold" transform="translate(691.36 797.40) scale(1.000 1.150)">Type</text>
<text x="0" y="0" font-size="15.50" font-weight="bold" transform="translate(691.36 817.10) scale(1.000 1.150)">Project</text>
<g shape-rendering="crispEdges" transform="translate(110.500 825.300) scale(15.9350 12.0900)">
<path fill="#ffc2c2" d="M0 0h1v1h-1zM6 0h1v1h-1zM9 0h1v1h-1zM27 0h1v1h-1zM2 1h1v1h-1zM4 1h1v1h-1zM16 1h1v1h-1zM32 1h1v1h-1zM34 1h1v1h-1zM2 2h3v1h-3zM18 2h1v1h-1zM21 2h1v1h-1zM3 3h2v1h-2zM7 3h6v1h-6zM14 3h2v1h-2zM17 3h1v1h-1zM20 3h1v1h-1zM22 3h1v1h-1zM5 4h1v1h-1zM9 4h2v1h-2zM7 5h1v1h-1zM12 5h2v1h-2zM33 5h2v1h-2zM0 6h1v1h-1zM2 6h1v1h-1zM9 6h2v1h-2zM12 6h1v1h-1zM1 7h1v1h-1zM6 7h3v1h-3zM10 7h1v1h-1zM17 7h1v1h-1zM0 8h1v1h-1zM7 8h1v1h-1zM11 8h1v1h-1zM14 8h1v1h-1zM28 8h2v1h-2zM0 10h1v1h-1zM4 10h1v1h-1zM6 10h1v1h-1zM19 10h1v1h-1zM22 10h1v1h-1zM4 11h1v1h-1zM13 11h1v1h-1zM7 12h1v1h-1zM18 12h1v1h-1zM6 13h1v1h-1zM10 13h1v1h-1zM14 13h1v1h-1zM17 13h1v1h-1zM27 13h1v1h-1zM9 14h3v1h-3zM14 14h1v1h-1zM16 14h1v1h-1zM27 14h1v1h-1zM5 15h1v1h-1zM8 15h1v1h-1zM10 15h1v1h-1zM16 15h1v1h-1zM35 15h1v1h-1zM5 16h1v1h-1zM7 16h1v1h-1zM14 16h3v1h-3zM2 17h1v1h-1zM5 17h1v1h-1zM12 17h1v1h-1zM14 17h1v1h-1zM0 18h1v1h-1zM2 18h1v1h-1zM5 18h1v1h-1zM9 18h1v1h-1zM13 18h1v1h-1zM16 18h1v1h-1zM19 18h1v1h-1zM34 18h1v1h-1zM11 19h1v1h-1zM0 20h1v1h-1zM5 20h1v1h-1zM7 20h1v1h-1zM10 20h1v1h-1zM16 20h1v1h-1zM1 21h1v1h-1zM9 21h2v1h-2zM12 21h1v1h-1zM4 22h1v1h-1zM11 22h3v1h-3zM17 22h1v1h-1zM23 22h1v1h-1zM10 23h1v1h-1zM24 23h1v1h-1zM26 23h1v1h-1zM4 24h1v1h-1zM10 24h2v1h-2zM13 24h1v1h-1zM24 24h1v1h-1zM27 24h1v1h-1zM34 24h1v1h-1zM5 25h1v1h-1zM10 25h1v1h-1zM12 25h1v1h-1zM14 25h1v1h-1zM17 25h1v1h-1zM19 25h2v1h-2zM23 25h1v1h-1zM28 25h1v1h-1zM33 25h1v1h-1zM19 26h1v1h-1zM23 26h2v1h-2zM10 27h1v1h-1zM23 27h1v1h-1zM26 27h2v1h-2zM35 27h1v1h-1zM17 28h1v1h-1zM11 29h1v1h-1zM14 29h1v1h-1zM19 29h1v1h-1zM3 30h1v1h-1zM13 31h1v1h-1zM23 31h3v1h-3zM27 31h1v1h-1zM32 31h1v1h-1zM2 32h1v1h-1zM5 32h1v1h-1zM14 32h1v1h-1zM35 32h1v1h-1zM18 33h1v1h-1zM22 33h1v1h-1zM24 33h1v1h-1zM30 33h2v1h-2zM30 34h1v1h-1zM34 34h1v1h-1zM0 35h1v1h-1zM10 35h1v1h-1zM14 35h3v1h-3zM20 35h1v1h-1zM22 35h2v1h-2zM27 35h1v1h-1zM30 35h1v1h-1zM32 35h1v1h-1zM34 35h2v1h-2zM6 36h1v1h-1zM14 36h1v1h-1zM17 36h1v1h-1zM25 36h1v1h-1zM28 36h1v1h-1zM32 36h1v1h-1zM6 37h1v1h-1zM15 37h1v1h-1zM22 37h1v1h-1zM27 37h2v1h-2zM35 37h1v1h-1zM9 38h1v1h-1zM14 38h1v1h-1zM17 38h1v1h-1zM19 38h1v1h-1zM28 38h1v1h-1zM33 38h2v1h-2zM4 39h1v1h-1zM19 39h1v1h-1zM23 39h2v1h-2zM33 39h1v1h-1zM35 39h1v1h-1zM18 40h1v1h-1zM21 40h5v1h-5zM4 41h1v1h-1zM9 41h1v1h-1zM13 41h1v1h-1zM18 41h1v1h-1zM26 41h1v1h-1zM29 41h1v1h-1zM6 42h1v1h-1zM8 42h1v1h-1zM13 42h2v1h-2zM19 42h1v1h-1zM26 42h1v1h-1zM29 42h1v1h-1zM15 43h1v1h-1zM19 43h1v1h-1zM30 43h1v1h-1zM19 44h1v1h-1zM3 45h1v1h-1zM19 45h1v1h-1zM0 46h1v1h-1zM15 46h1v1h-1zM18 46h1v1h-1zM20 46h1v1h-1zM30 46h1v1h-1zM33 46h1v1h-1zM35 46h1v1h-1zM8 47h1v1h-1zM18 47h1v1h-1zM22 47h1v1h-1zM25 47h1v1h-1zM27 48h1v1h-1zM30 48h3v1h-3zM1 49h1v1h-1zM7 49h1v1h-1zM30 49h2v1h-2zM35 49h1v1h-1zM18 50h1v1h-1zM24 50h1v1h-1zM5 51h1v1h-1zM23 51h1v1h-1zM25 51h1v1h-1zM33 51h1v1h-1zM5 52h1v1h-1zM13 52h1v1h-1zM16 52h1v1h-1zM18 52h1v1h-1zM20 52h1v1h-1zM22 52h2v1h-2zM27 52h1v1h-1zM33 52h1v1h-1zM35 52h1v1h-1zM7 53h1v1h-1zM31 53h1v1h-1zM33 53h2v1h-2z"/>
<path fill="#ffa3a3" d="M1 0h3v1h-3zM14 0h4v1h-4zM22 0h1v1h-1zM29 0h1v1h-1zM1 1h1v1h-1zM3 1h1v1h-1zM6 1h1v1h-1zM11 1h1v1h-1zM14 1h1v1h-1zM27 1h1v1h-1zM0 2h1v1h-1zM13 2h1v1h-1zM15 2h1v1h-1zM22 2h1v1h-1zM31 2h1v1h-1zM0 3h1v1h-1zM27 3h1v1h-1zM29 3h1v1h-1zM31 3h2v1h-2zM13 4h1v1h-1zM26 4h2v1h-2zM0 5h1v1h-1zM4 5h1v1h-1zM14 5h2v1h-2zM23 5h1v1h-1zM11 6h1v1h-1zM14 6h1v1h-1zM16 6h2v1h-2zM27 6h3v1h-3zM0 7h1v1h-1zM2 7h1v1h-1zM4 7h1v1h-1zM12 7h1v1h-1zM1 8h3v1h-3zM12 8h2v1h-2zM18 8h1v1h-1zM1 9h2v1h-2zM4 9h1v1h-1zM20 9h1v1h-1zM34 9h1v1h-1zM3 10h1v1h-1zM9 10h1v1h-1zM24 10h1v1h-1zM30 10h1v1h-1zM2 11h2v1h-2zM6 11h1v1h-1zM10 11h1v1h-1zM24 11h2v1h-2zM27 11h1v1h-1zM0 12h1v1h-1zM30 12h1v1h-1zM16 13h1v1h-1zM5 14h1v1h-1zM7 14h1v1h-1zM18 14h1v1h-1zM20 14h1v1h-1zM29 14h1v1h-1zM0 15h1v1h-1zM11 15h1v1h-1zM19 15h1v1h-1zM2 16h1v1h-1zM9 16h1v1h-1zM12 16h1v1h-1zM18 16h1v1h-1zM26 16h1v1h-1zM11 17h1v1h-1zM15 17h3v1h-3zM20 17h1v1h-1zM3 18h1v1h-1zM6 18h1v1h-1zM18 18h1v1h-1zM0 19h1v1h-1zM2 19h2v1h-2zM5 19h2v1h-2zM9 19h1v1h-1zM1 20h1v1h-1zM9 20h1v1h-1zM11 20h3v1h-3zM5 21h1v1h-1zM7 21h1v1h-1zM17 21h1v1h-1zM30 21h1v1h-1zM10 22h1v1h-1zM0 23h1v1h-1zM9 23h1v1h-1zM11 23h1v1h-1zM13 23h1v1h-1zM15 23h2v1h-2zM21 23h1v1h-1zM14 24h1v1h-1zM21 24h1v1h-1zM28 24h3v1h-3zM11 25h1v1h-1zM26 25h2v1h-2zM30 25h1v1h-1zM11 26h1v1h-1zM15 26h1v1h-1zM17 26h1v1h-1zM30 26h1v1h-1zM33 26h1v1h-1zM15 27h1v1h-1zM21 27h2v1h-2zM24 27h1v1h-1zM29 27h1v1h-1zM18 28h1v1h-1zM23 28h1v1h-1zM27 28h1v1h-1zM29 28h1v1h-1zM10 29h1v1h-1zM15 29h1v1h-1zM18 29h1v1h-1zM21 29h1v1h-1zM24 29h1v1h-1zM33 29h1v1h-1zM6 30h1v1h-1zM9 30h1v1h-1zM21 30h1v1h-1zM24 30h1v1h-1zM29 30h1v1h-1zM33 30h1v1h-1zM35 30h1v1h-1zM3 31h1v1h-1zM10 32h1v1h-1zM16 32h1v1h-1zM20 32h1v1h-1zM22 32h3v1h-3zM28 32h2v1h-2zM20 33h1v1h-1zM32 33h1v1h-1zM12 34h1v1h-1zM32 34h2v1h-2zM19 35h1v1h-1zM19 36h1v1h-1zM0 37h1v1h-1zM2 37h1v1h-1zM19 37h1v1h-1zM33 37h2v1h-2zM25 38h1v1h-1zM35 38h1v1h-1zM34 39h1v1h-1zM4 40h1v1h-1zM13 40h2v1h-2zM19 40h2v1h-2zM26 40h1v1h-1zM28 40h1v1h-1zM35 40h1v1h-1zM6 41h2v1h-2zM19 41h3v1h-3zM28 41h1v1h-1zM34 41h2v1h-2zM21 42h1v1h-1zM28 42h1v1h-1zM1 43h1v1h-1zM17 43h1v1h-1zM22 43h1v1h-1zM28 43h1v1h-1zM20 44h1v1h-1zM20 45h1v1h-1zM22 45h1v1h-1zM35 45h1v1h-1zM7 46h1v1h-1zM19 46h1v1h-1zM25 46h1v1h-1zM27 46h2v1h-2zM27 47h1v1h-1zM29 47h1v1h-1zM34 47h1v1h-1zM3 48h1v1h-1zM9 48h1v1h-1zM18 48h1v1h-1zM22 48h1v1h-1zM26 48h1v1h-1zM29 48h1v1h-1zM5 49h1v1h-1zM10 49h1v1h-1zM25 49h1v1h-1zM19 50h1v1h-1zM25 50h1v1h-1zM4 51h1v1h-1zM11 51h1v1h-1zM15 51h1v1h-1zM29 51h1v1h-1zM4 52h1v1h-1zM6 52h1v1h-1zM9 52h1v1h-1zM21 52h1v1h-1zM9 53h1v1h-1z"/>
<path fill="#c2c2ff" d="M4 0h1v1h-1zM18 0h4v1h-4zM23 0h4v1h-4zM28 0h1v1h-1zM30 0h2v1h-2zM34 0h2v1h-2zM18 1h3v1h-3zM22 1h4v1h-4zM6 2h4v1h-4zM11 2h2v1h-2zM16 2h2v1h-2zM19 2h1v1h-1zM24 2h1v1h-1zM26 2h3v1h-3zM30 2h1v1h-1zM32 2h1v1h-1zM1 3h1v1h-1zM28 3h1v1h-1zM35 3h1v1h-1zM16 4h1v1h-1zM32 4h1v1h-1zM28 5h1v1h-1zM31 6h2v1h-2zM5 7h1v1h-1zM27 7h1v1h-1zM32 7h1v1h-1zM24 8h1v1h-1zM0 9h1v1h-1zM3 9h1v1h-1zM18 9h2v1h-2zM21 9h5v1h-5zM12 10h1v1h-1zM25 10h1v1h-1zM33 10h2v1h-2zM17 11h2v1h-2zM20 11h1v1h-1zM23 11h1v1h-1zM29 11h2v1h-2zM8 12h1v1h-1zM10 12h6v1h-6zM8 13h1v1h-1zM11 13h2v1h-2zM15 13h1v1h-1zM26 13h1v1h-1zM28 13h8v1h-8zM0 14h2v1h-2zM4 14h1v1h-1zM8 14h1v1h-1zM17 14h1v1h-1zM22 14h4v1h-4zM1 15h1v1h-1zM4 15h1v1h-1zM12 15h1v1h-1zM17 15h2v1h-2zM20 15h1v1h-1zM24 15h2v1h-2zM33 15h1v1h-1zM0 16h1v1h-1zM3 16h2v1h-2zM17 16h1v1h-1zM19 16h7v1h-7zM31 16h1v1h-1zM23 17h1v1h-1zM26 17h1v1h-1zM15 18h1v1h-1zM22 18h1v1h-1zM26 18h1v1h-1zM4 19h1v1h-1zM8 19h1v1h-1zM13 19h1v1h-1zM18 20h13v1h-13zM33 20h1v1h-1zM2 21h1v1h-1zM4 21h1v1h-1zM18 21h1v1h-1zM20 21h1v1h-1zM25 21h1v1h-1zM1 22h1v1h-1zM3 22h1v1h-1zM5 22h2v1h-2zM8 22h1v1h-1zM14 22h2v1h-2zM18 22h1v1h-1zM27 22h4v1h-4zM32 22h3v1h-3zM17 23h1v1h-1zM33 23h1v1h-1zM26 24h1v1h-1zM6 25h1v1h-1zM16 25h1v1h-1zM18 25h1v1h-1zM32 25h1v1h-1zM35 25h1v1h-1zM1 26h1v1h-1zM1 27h1v1h-1zM4 27h1v1h-1zM5 28h5v1h-5zM12 28h5v1h-5zM26 28h1v1h-1zM30 28h2v1h-2zM34 28h1v1h-1zM7 29h1v1h-1zM26 29h1v1h-1zM0 30h3v1h-3zM4 30h1v1h-1zM22 30h1v1h-1zM25 30h2v1h-2zM6 31h1v1h-1zM8 31h5v1h-5zM14 31h4v1h-4zM26 31h1v1h-1zM28 31h1v1h-1zM31 31h1v1h-1zM33 31h1v1h-1zM35 31h1v1h-1zM25 32h1v1h-1zM5 34h7v1h-7zM13 34h5v1h-5zM11 35h1v1h-1zM33 35h1v1h-1zM23 36h1v1h-1zM1 38h4v1h-4zM18 38h1v1h-1zM2 39h1v1h-1zM6 39h1v1h-1zM10 39h1v1h-1zM12 39h1v1h-1zM18 39h1v1h-1zM6 40h1v1h-1zM15 40h2v1h-2zM27 40h1v1h-1zM1 41h2v1h-2zM0 42h4v1h-4zM10 42h1v1h-1zM16 42h1v1h-1zM25 42h1v1h-1zM0 43h1v1h-1zM2 43h2v1h-2zM21 43h1v1h-1zM24 43h1v1h-1zM0 44h1v1h-1zM5 44h3v1h-3zM9 44h5v1h-5zM15 44h3v1h-3zM23 44h2v1h-2zM29 44h2v1h-2zM34 44h1v1h-1zM6 45h3v1h-3zM10 45h1v1h-1zM12 45h4v1h-4zM17 45h1v1h-1zM23 45h1v1h-1zM27 45h3v1h-3zM34 45h1v1h-1zM3 46h1v1h-1zM5 46h2v1h-2zM9 46h1v1h-1zM11 46h4v1h-4zM16 46h1v1h-1zM29 46h1v1h-1zM34 46h1v1h-1zM12 47h3v1h-3zM0 48h1v1h-1zM2 48h1v1h-1zM4 48h1v1h-1zM17 48h1v1h-1zM20 48h2v1h-2zM23 48h3v1h-3zM8 49h1v1h-1zM0 51h3v1h-3zM19 51h1v1h-1zM21 51h2v1h-2zM24 52h1v1h-1zM28 53h1v1h-1z"/>
<path fill="#a3a3ff" d="M5 0h1v1h-1zM7 0h2v1h-2zM12 0h2v1h-2zM18 3h1v1h-1zM23 3h3v1h-3zM30 3h1v1h-1zM33 3h2v1h-2zM34 4h1v1h-1zM3 5h1v1h-1zM20 5h3v1h-3zM24 5h3v1h-3zM23 6h1v1h-1zM3 7h1v1h-1zM19 7h2v1h-2zM22 7h3v1h-3zM23 8h1v1h-1zM25 8h1v1h-1zM30 8h1v1h-1zM35 8h1v1h-1zM33 11h1v1h-1zM4 12h1v1h-1zM21 12h1v1h-1zM25 12h1v1h-1zM28 15h1v1h-1zM34 15h1v1h-1zM13 16h1v1h-1zM27 16h4v1h-4zM33 16h1v1h-1zM3 17h1v1h-1zM7 17h2v1h-2zM10 17h1v1h-1zM19 17h1v1h-1zM22 17h1v1h-1zM27 17h3v1h-3zM31 17h3v1h-3zM35 17h1v1h-1zM22 19h1v1h-1zM29 19h1v1h-1zM32 20h1v1h-1zM34 20h1v1h-1zM8 21h1v1h-1zM33 21h1v1h-1zM19 22h1v1h-1zM21 22h2v1h-2zM24 22h2v1h-2zM1 23h1v1h-1zM4 23h1v1h-1zM20 23h1v1h-1zM22 23h2v1h-2zM25 23h1v1h-1zM3 24h1v1h-1zM5 24h2v1h-2zM8 24h2v1h-2zM12 24h1v1h-1zM15 24h1v1h-1zM17 24h1v1h-1zM22 24h1v1h-1zM4 25h1v1h-1zM2 27h1v1h-1zM5 27h5v1h-5zM12 27h2v1h-2zM16 27h1v1h-1zM18 27h3v1h-3zM30 27h2v1h-2zM2 28h2v1h-2zM20 28h1v1h-1zM25 28h1v1h-1zM1 29h4v1h-4zM17 29h1v1h-1zM20 29h1v1h-1zM32 29h1v1h-1zM7 30h2v1h-2zM10 30h2v1h-2zM13 30h1v1h-1zM15 30h1v1h-1zM17 30h2v1h-2zM28 30h1v1h-1zM4 31h1v1h-1zM22 31h1v1h-1zM6 32h1v1h-1zM8 32h1v1h-1zM11 32h3v1h-3zM15 32h1v1h-1zM27 32h1v1h-1zM31 32h1v1h-1zM34 32h1v1h-1zM7 33h6v1h-6zM14 33h4v1h-4zM33 33h1v1h-1zM27 34h1v1h-1zM31 34h1v1h-1zM1 36h1v1h-1zM3 37h1v1h-1zM5 37h1v1h-1zM7 37h1v1h-1zM11 37h2v1h-2zM14 37h1v1h-1zM16 37h2v1h-2zM5 38h1v1h-1zM11 39h1v1h-1zM0 40h4v1h-4zM5 40h1v1h-1zM7 40h1v1h-1zM10 40h2v1h-2zM32 40h1v1h-1zM3 41h1v1h-1zM12 41h1v1h-1zM12 42h1v1h-1zM5 43h1v1h-1zM9 43h5v1h-5zM16 43h1v1h-1zM27 43h1v1h-1zM31 43h1v1h-1zM0 45h1v1h-1zM24 45h1v1h-1zM21 46h1v1h-1zM24 46h1v1h-1zM2 47h3v1h-3zM6 47h2v1h-2zM17 47h1v1h-1zM21 47h1v1h-1zM33 47h1v1h-1zM6 48h1v1h-1zM8 48h1v1h-1zM10 48h1v1h-1zM13 48h3v1h-3zM32 49h1v1h-1zM1 50h2v1h-2zM22 50h1v1h-1zM6 51h5v1h-5zM14 51h1v1h-1zM16 51h2v1h-2zM20 51h1v1h-1zM0 52h1v1h-1zM2 52h2v1h-2zM8 52h1v1h-1z"/>
<path fill="#ffe3e3" d="M10 0h1v1h-1zM32 0h1v1h-1zM0 1h1v1h-1zM7 1h1v1h-1zM9 1h1v1h-1zM15 1h1v1h-1zM21 1h1v1h-1zM26 1h1v1h-1zM31 1h1v1h-1zM35 1h1v1h-1zM5 2h1v1h-1zM2 3h1v1h-1zM19 3h1v1h-1zM6 4h1v1h-1zM8 4h1v1h-1zM11 4h1v1h-1zM15 4h1v1h-1zM17 4h1v1h-1zM33 4h1v1h-1zM10 5h2v1h-2zM18 5h2v1h-2zM27 5h1v1h-1zM30 5h1v1h-1zM1 6h1v1h-1zM3 6h1v1h-1zM5 6h1v1h-1zM8 6h1v1h-1zM18 6h1v1h-1zM9 7h1v1h-1zM13 7h1v1h-1zM25 7h1v1h-1zM31 7h1v1h-1zM5 8h2v1h-2zM17 8h1v1h-1zM20 8h1v1h-1zM27 8h1v1h-1zM31 8h1v1h-1zM33 8h1v1h-1zM8 9h1v1h-1zM2 10h1v1h-1zM5 10h1v1h-1zM7 10h2v1h-2zM10 10h2v1h-2zM14 10h1v1h-1zM23 10h1v1h-1zM32 10h1v1h-1zM35 10h1v1h-1zM5 11h1v1h-1zM7 11h1v1h-1zM11 11h1v1h-1zM15 11h2v1h-2zM31 11h2v1h-2zM1 12h2v1h-2zM22 12h1v1h-1zM13 13h1v1h-1zM6 14h1v1h-1zM12 14h1v1h-1zM2 15h1v1h-1zM6 15h1v1h-1zM27 15h1v1h-1zM29 15h1v1h-1zM32 15h1v1h-1zM11 16h1v1h-1zM32 16h1v1h-1zM35 16h1v1h-1zM1 17h1v1h-1zM4 17h1v1h-1zM6 17h1v1h-1zM18 17h1v1h-1zM24 17h1v1h-1zM1 18h1v1h-1zM4 18h1v1h-1zM7 18h1v1h-1zM10 18h1v1h-1zM12 18h1v1h-1zM17 18h1v1h-1zM24 18h1v1h-1zM27 18h2v1h-2zM35 18h1v1h-1zM12 19h1v1h-1zM14 19h1v1h-1zM19 19h1v1h-1zM21 19h1v1h-1zM24 19h3v1h-3zM31 19h1v1h-1zM33 19h1v1h-1zM35 19h1v1h-1zM8 20h1v1h-1zM14 21h1v1h-1zM26 21h1v1h-1zM29 21h1v1h-1zM34 21h1v1h-1zM2 22h1v1h-1zM5 23h1v1h-1zM19 23h1v1h-1zM28 23h2v1h-2zM35 24h1v1h-1zM8 25h1v1h-1zM21 25h2v1h-2zM24 25h1v1h-1zM29 25h1v1h-1zM31 25h1v1h-1zM8 26h3v1h-3zM14 26h1v1h-1zM18 26h1v1h-1zM20 26h1v1h-1zM22 26h1v1h-1zM26 26h1v1h-1zM34 26h1v1h-1zM14 27h1v1h-1zM25 27h1v1h-1zM28 27h1v1h-1zM33 27h2v1h-2zM21 28h2v1h-2zM28 28h1v1h-1zM5 29h1v1h-1zM8 29h1v1h-1zM13 29h1v1h-1zM25 29h1v1h-1zM27 29h1v1h-1zM34 29h1v1h-1zM5 30h1v1h-1zM16 30h1v1h-1zM23 30h1v1h-1zM30 30h1v1h-1zM32 30h1v1h-1zM0 31h1v1h-1zM7 31h1v1h-1zM19 31h1v1h-1zM21 31h1v1h-1zM0 32h1v1h-1zM19 32h1v1h-1zM21 32h1v1h-1zM33 32h1v1h-1zM0 33h1v1h-1zM19 33h1v1h-1zM21 33h1v1h-1zM26 33h1v1h-1zM35 33h1v1h-1zM2 34h2v1h-2zM20 34h1v1h-1zM22 34h1v1h-1zM7 35h1v1h-1zM17 35h2v1h-2zM25 35h1v1h-1zM28 35h2v1h-2zM0 36h1v1h-1zM2 36h1v1h-1zM4 36h1v1h-1zM10 36h1v1h-1zM13 36h1v1h-1zM15 36h1v1h-1zM18 36h1v1h-1zM20 36h1v1h-1zM24 36h1v1h-1zM29 36h3v1h-3zM33 36h3v1h-3zM1 37h1v1h-1zM4 37h1v1h-1zM8 37h2v1h-2zM13 37h1v1h-1zM20 37h2v1h-2zM23 37h1v1h-1zM25 37h1v1h-1zM29 37h2v1h-2zM8 38h1v1h-1zM15 38h1v1h-1zM26 38h2v1h-2zM29 38h2v1h-2zM32 38h1v1h-1zM14 39h1v1h-1zM25 39h3v1h-3zM30 39h3v1h-3zM17 40h1v1h-1zM30 40h1v1h-1zM33 40h2v1h-2zM15 41h1v1h-1zM22 41h2v1h-2zM7 42h1v1h-1zM31 42h2v1h-2zM34 42h2v1h-2zM4 43h1v1h-1zM6 43h1v1h-1zM23 43h1v1h-1zM25 43h2v1h-2zM29 43h1v1h-1zM32 43h2v1h-2zM2 44h1v1h-1zM4 44h1v1h-1zM14 44h1v1h-1zM27 44h1v1h-1zM1 45h2v1h-2zM18 45h1v1h-1zM21 45h1v1h-1zM25 45h1v1h-1zM30 45h1v1h-1zM23 46h1v1h-1zM9 47h3v1h-3zM23 47h2v1h-2zM28 47h1v1h-1zM31 47h1v1h-1zM35 47h1v1h-1zM12 48h1v1h-1zM33 48h1v1h-1zM35 48h1v1h-1zM13 49h1v1h-1zM18 49h1v1h-1zM22 49h1v1h-1zM26 49h2v1h-2zM33 49h2v1h-2zM3 50h2v1h-2zM21 50h1v1h-1zM23 50h1v1h-1zM34 50h1v1h-1zM12 51h2v1h-2zM18 51h1v1h-1zM24 51h1v1h-1zM31 51h1v1h-1zM34 51h1v1h-1zM1 52h1v1h-1zM14 52h2v1h-2zM17 52h1v1h-1zM25 52h2v1h-2zM28 52h4v1h-4zM34 52h1v1h-1zM5 53h2v1h-2zM8 53h1v1h-1zM13 53h1v1h-1zM16 53h1v1h-1zM27 53h1v1h-1zM32 53h1v1h-1zM35 53h1v1h-1z"/>
<path fill="#ff7a7a" d="M33 0h1v1h-1zM10 2h1v1h-1zM14 2h1v1h-1zM1 4h1v1h-1zM1 5h1v1h-1zM9 5h1v1h-1zM11 7h1v1h-1zM18 7h1v1h-1zM21 7h1v1h-1zM6 9h1v1h-1zM5 12h2v1h-2zM9 12h1v1h-1zM16 12h1v1h-1zM0 13h3v1h-3zM5 13h1v1h-1zM7 13h1v1h-1zM2 14h2v1h-2zM3 15h1v1h-1zM9 15h1v1h-1zM1 16h1v1h-1zM34 16h1v1h-1zM9 17h1v1h-1zM34 17h1v1h-1zM16 19h1v1h-1zM2 20h3v1h-3zM6 20h1v1h-1zM0 21h1v1h-1zM11 21h1v1h-1zM0 22h1v1h-1zM7 22h1v1h-1zM16 22h1v1h-1zM26 22h1v1h-1zM31 22h1v1h-1zM2 23h1v1h-1zM7 23h1v1h-1zM12 23h1v1h-1zM1 24h1v1h-1zM16 24h1v1h-1zM31 24h1v1h-1zM28 26h2v1h-2zM3 27h1v1h-1zM11 27h1v1h-1zM32 27h1v1h-1zM10 28h2v1h-2zM19 28h1v1h-1zM32 28h1v1h-1zM22 29h2v1h-2zM19 30h2v1h-2zM34 30h1v1h-1zM5 31h1v1h-1zM29 31h2v1h-2zM30 32h1v1h-1zM32 32h1v1h-1zM5 33h1v1h-1zM28 33h2v1h-2zM34 33h1v1h-1zM26 34h1v1h-1zM29 34h1v1h-1zM35 34h1v1h-1zM24 38h1v1h-1zM9 39h1v1h-1zM20 39h1v1h-1zM20 42h1v1h-1zM22 42h1v1h-1zM8 43h1v1h-1zM20 43h1v1h-1zM26 44h1v1h-1zM31 44h3v1h-3zM35 44h1v1h-1zM16 45h1v1h-1zM26 45h1v1h-1zM31 45h2v1h-2zM10 46h1v1h-1zM22 46h1v1h-1zM26 46h1v1h-1zM32 46h1v1h-1zM19 47h2v1h-2zM30 47h1v1h-1zM7 48h1v1h-1zM19 48h1v1h-1zM15 50h1v1h-1zM26 50h1v1h-1zM29 50h1v1h-1zM32 50h1v1h-1zM26 51h1v1h-1zM28 51h1v1h-1zM30 51h1v1h-1zM21 53h1v1h-1zM23 53h1v1h-1zM25 53h1v1h-1z"/>
<path fill="#e3e3ff" d="M5 1h1v1h-1zM10 1h1v1h-1zM28 1h1v1h-1zM1 2h1v1h-1zM23 2h1v1h-1zM29 2h1v1h-1zM33 2h3v1h-3zM5 3h1v1h-1zM21 3h1v1h-1zM26 3h1v1h-1zM2 4h3v1h-3zM12 4h1v1h-1zM18 4h8v1h-8zM30 4h1v1h-1zM35 4h1v1h-1zM2 5h1v1h-1zM16 5h2v1h-2zM35 5h1v1h-1zM19 6h1v1h-1zM34 6h1v1h-1zM14 7h2v1h-2zM26 7h1v1h-1zM29 7h1v1h-1zM33 7h3v1h-3zM8 8h1v1h-1zM10 8h1v1h-1zM15 8h1v1h-1zM19 8h1v1h-1zM21 8h1v1h-1zM34 8h1v1h-1zM5 9h1v1h-1zM9 9h9v1h-9zM26 9h4v1h-4zM31 9h3v1h-3zM35 9h1v1h-1zM27 10h2v1h-2zM0 11h1v1h-1zM8 11h1v1h-1zM12 11h1v1h-1zM14 11h1v1h-1zM19 11h1v1h-1zM26 11h1v1h-1zM3 12h1v1h-1zM19 12h2v1h-2zM23 12h1v1h-1zM26 12h4v1h-4zM31 12h5v1h-5zM3 13h2v1h-2zM9 13h1v1h-1zM18 13h8v1h-8zM13 14h1v1h-1zM15 14h1v1h-1zM19 14h1v1h-1zM21 14h1v1h-1zM30 14h1v1h-1zM33 14h1v1h-1zM13 15h1v1h-1zM15 15h1v1h-1zM21 15h3v1h-3zM30 15h2v1h-2zM8 16h1v1h-1zM10 16h1v1h-1zM13 17h1v1h-1zM25 17h1v1h-1zM8 18h1v1h-1zM21 18h1v1h-1zM25 18h1v1h-1zM29 18h1v1h-1zM31 18h2v1h-2zM1 19h1v1h-1zM15 19h1v1h-1zM17 19h1v1h-1zM20 19h1v1h-1zM27 19h1v1h-1zM34 19h1v1h-1zM17 20h1v1h-1zM31 20h1v1h-1zM35 20h1v1h-1zM16 21h1v1h-1zM21 21h4v1h-4zM28 21h1v1h-1zM32 21h1v1h-1zM35 21h1v1h-1zM30 23h2v1h-2zM7 24h1v1h-1zM18 24h2v1h-2zM23 24h1v1h-1zM25 24h1v1h-1zM34 25h1v1h-1zM0 26h1v1h-1zM2 26h3v1h-3zM21 26h1v1h-1zM32 26h1v1h-1zM17 27h1v1h-1zM1 28h1v1h-1zM35 28h1v1h-1zM6 29h1v1h-1zM29 29h1v1h-1zM31 29h1v1h-1zM12 30h1v1h-1zM14 30h1v1h-1zM27 30h1v1h-1zM31 30h1v1h-1zM1 32h1v1h-1zM7 32h1v1h-1zM18 32h1v1h-1zM4 33h1v1h-1zM6 33h1v1h-1zM27 33h1v1h-1zM9 35h1v1h-1zM13 35h1v1h-1zM7 36h1v1h-1zM9 36h1v1h-1zM10 37h1v1h-1zM24 37h1v1h-1zM31 37h1v1h-1zM0 38h1v1h-1zM12 38h1v1h-1zM20 38h4v1h-4zM0 39h1v1h-1zM8 39h1v1h-1zM13 39h1v1h-1zM17 39h1v1h-1zM22 39h1v1h-1zM9 40h1v1h-1zM12 40h1v1h-1zM0 41h1v1h-1zM10 41h1v1h-1zM31 41h3v1h-3zM4 42h2v1h-2zM18 42h1v1h-1zM23 42h2v1h-2zM30 42h1v1h-1zM33 42h1v1h-1zM18 43h1v1h-1zM18 44h1v1h-1zM22 44h1v1h-1zM25 44h1v1h-1zM9 45h1v1h-1zM11 45h1v1h-1zM2 46h1v1h-1zM4 46h1v1h-1zM17 46h1v1h-1zM31 46h1v1h-1zM0 47h2v1h-2zM16 47h1v1h-1zM1 48h1v1h-1zM16 48h1v1h-1zM0 49h1v1h-1zM2 49h3v1h-3zM12 49h1v1h-1zM14 49h1v1h-1zM20 49h2v1h-2zM23 49h2v1h-2zM29 49h1v1h-1zM5 50h10v1h-10zM16 50h2v1h-2zM27 50h2v1h-2zM31 50h1v1h-1zM33 50h1v1h-1zM35 50h1v1h-1zM32 52h1v1h-1zM0 53h5v1h-5zM11 53h1v1h-1zM17 53h4v1h-4zM22 53h1v1h-1zM24 53h1v1h-1zM26 53h1v1h-1z"/>
<path fill="#8080ff" d="M12 1h2v1h-2zM29 1h2v1h-2zM20 2h1v1h-1zM25 2h1v1h-1zM6 3h1v1h-1zM13 3h1v1h-1zM16 3h1v1h-1zM31 4h1v1h-1zM31 5h2v1h-2zM6 6h2v1h-2zM15 6h1v1h-1zM21 6h1v1h-1zM26 6h1v1h-1zM30 6h1v1h-1zM35 6h1v1h-1zM30 7h1v1h-1zM22 8h1v1h-1zM18 10h1v1h-1zM20 10h2v1h-2zM21 11h1v1h-1zM34 11h1v1h-1zM26 14h1v1h-1zM28 14h1v1h-1zM35 14h1v1h-1zM23 18h1v1h-1zM18 19h1v1h-1zM23 19h1v1h-1zM28 19h1v1h-1zM13 21h1v1h-1zM15 21h1v1h-1zM27 21h1v1h-1zM6 23h1v1h-1zM27 23h1v1h-1zM32 23h1v1h-1zM35 23h1v1h-1zM2 24h1v1h-1zM5 26h3v1h-3zM12 26h1v1h-1zM16 26h1v1h-1zM35 26h1v1h-1zM9 29h1v1h-1zM2 31h1v1h-1zM3 32h2v1h-2zM23 33h1v1h-1zM3 35h3v1h-3zM8 35h1v1h-1zM12 35h1v1h-1zM3 36h1v1h-1zM18 37h1v1h-1zM16 39h1v1h-1zM5 41h1v1h-1zM11 41h1v1h-1zM16 41h1v1h-1zM27 41h1v1h-1zM9 42h1v1h-1zM11 42h1v1h-1zM4 45h1v1h-1zM1 46h1v1h-1zM15 49h1v1h-1zM17 49h1v1h-1zM0 50h1v1h-1zM20 50h1v1h-1zM7 52h1v1h-1zM10 52h3v1h-3zM19 52h1v1h-1zM10 53h1v1h-1zM14 53h2v1h-2z"/>
<path fill="#ff3333" d="M0 4h1v1h-1zM7 9h1v1h-1zM3 21h1v1h-1zM9 22h1v1h-1zM33 28h1v1h-1zM34 31h1v1h-1zM28 34h1v1h-1zM35 43h1v1h-1zM8 44h1v1h-1zM5 45h1v1h-1zM19 49h1v1h-1z"/>
<path fill="#3838ff" d="M28 4h1v1h-1zM16 8h1v1h-1zM32 8h1v1h-1zM29 10h1v1h-1zM35 11h1v1h-1zM26 15h1v1h-1zM30 18h1v1h-1zM33 18h1v1h-1zM30 19h1v1h-1zM7 25h1v1h-1zM9 25h1v1h-1zM13 25h1v1h-1zM15 25h1v1h-1zM12 29h1v1h-1zM5 36h1v1h-1zM11 36h1v1h-1zM11 38h1v1h-1zM16 38h1v1h-1zM3 39h1v1h-1zM16 49h1v1h-1z"/>
</g>
<path d="M110.00 976.42H57.45V988.51H110.00M110.00 1024.78H53.02V1036.88H110.00M110.00 1000.61H52.79V1012.69H110.00M110.00 879.70H52.27V891.79H110.00M110.00 1048.96H51.60V1061.05H110.00M110.00 952.24H51.13V964.33H110.00M51.60 1055.01H50.80V1073.14H110.00M110.00 831.34H50.13V843.43H110.00M110.00 915.97H47.29V928.06H110.00M57.45 982.47H44.11V1006.65H52.79M47.29 922.02H41.94V940.15H110.00M53.02 1030.83H39.04V1064.08H50.80M110.00 1097.32H39.02V1109.41H110.00M110.00 855.52H37.53V867.62H110.00M50.13 837.39H37.09V861.57H37.53M52.27 885.75H33.34V903.88H110.00M110.00 1085.23H33.32V1103.37H39.02M39.04 1047.45H29.50V1094.30H33.32M51.13 958.29H27.89V994.56H44.11M27.89 976.42H27.30V1070.88H29.50M37.09 849.48H26.45V894.82H33.34M26.45 872.15H24.77V931.09H41.94M24.77 901.62H18.91V1023.65H27.30M110.00 1327.03H65.62V1339.12H110.00M110.00 1290.76H64.62V1302.86H110.00M110.00 1254.49H63.71V1266.59H110.00M110.00 1314.94H61.78V1333.08H65.62M110.00 1435.84H57.75V1447.93H110.00M110.00 1278.67H55.53V1296.81H64.62M110.00 1230.32H54.45V1242.40H110.00M61.78 1324.01H51.87V1351.21H110.00M110.00 1411.66H51.69V1423.76H110.00M110.00 1460.03H51.12V1472.11H110.00M63.71 1260.54H51.05V1287.74H55.53M110.00 1387.48H49.50V1399.57H110.00M110.00 1194.05H48.05V1206.13H110.00M110.00 1169.87H46.82V1181.95H110.00M110.00 1363.30H46.14V1375.39H110.00M51.05 1274.14H46.09V1337.61H51.87M110.00 1145.68H44.97V1157.78H110.00M49.50 1393.53H44.26V1417.71H51.69M44.97 1151.73H44.00V1175.91H46.82M110.00 1218.22H41.03V1236.36H54.45M57.75 1441.89H37.76V1466.07H51.12M46.14 1369.35H35.92V1405.62H44.26M41.03 1227.29H35.05V1305.88H46.09M110.00 1133.60H32.57V1163.82H44.00M110.00 1121.50H32.15V1148.71H32.57M35.92 1387.48H28.16V1453.98H37.76M32.15 1135.11H27.99V1200.09H48.05M35.05 1266.59H22.85V1420.73H28.16M27.99 1167.60H16.82V1343.66H22.85M18.91 962.63H5.30V1255.63H16.82" fill="none" stroke="#000" stroke-width="1.6" stroke-linejoin="miter"/>
<defs><linearGradient id="hgD" x1="0" y1="1" x2="0" y2="0">
<stop offset="0.0000" stop-color="rgb(0,0,255)"/><stop offset="0.0200" stop-color="rgb(0,0,255)"/>
<stop offset="0.0200" stop-color="rgb(10,10,255)"/><stop offset="0.0400" stop-color="rgb(10,10,255)"/>
<stop offset="0.0400" stop-color="rgb(21,21,255)"/><stop offset="0.0600" stop-color="rgb(21,21,255)"/>
<stop offset="0.0600" stop-color="rgb(31,31,255)"/><stop offset="0.0800" stop-color="rgb(31,31,255)"/>
<stop offset="0.0800" stop-color="rgb(42,42,255)"/><stop offset="0.1000" stop-color="rgb(42,42,255)"/>
<stop offset="0.1000" stop-color="rgb(52,52,255)"/><stop offset="0.1200" stop-color="rgb(52,52,255)"/>
<stop offset="0.1200" stop-color="rgb(62,62,255)"/><stop offset="0.1400" stop-color="rgb(62,62,255)"/>
<stop offset="0.1400" stop-color="rgb(73,73,255)"/><stop offset="0.1600" stop-color="rgb(73,73,255)"/>
<stop offset="0.1600" stop-color="rgb(83,83,255)"/><stop offset="0.1800" stop-color="rgb(83,83,255)"/>
<stop offset="0.1800" stop-color="rgb(94,94,255)"/><stop offset="0.2000" stop-color="rgb(94,94,255)"/>
<stop offset="0.2000" stop-color="rgb(104,104,255)"/><stop offset="0.2200" stop-color="rgb(104,104,255)"/>
<stop offset="0.2200" stop-color="rgb(114,114,255)"/><stop offset="0.2400" stop-color="rgb(114,114,255)"/>
<stop offset="0.2400" stop-color="rgb(125,125,255)"/><stop offset="0.2600" stop-color="rgb(125,125,255)"/>
<stop offset="0.2600" stop-color="rgb(135,135,255)"/><stop offset="0.2800" stop-color="rgb(135,135,255)"/>
<stop offset="0.2800" stop-color="rgb(146,146,255)"/><stop offset="0.3000" stop-color="rgb(146,146,255)"/>
<stop offset="0.3000" stop-color="rgb(156,156,255)"/><stop offset="0.3200" stop-color="rgb(156,156,255)"/>
<stop offset="0.3200" stop-color="rgb(167,167,255)"/><stop offset="0.3400" stop-color="rgb(167,167,255)"/>
<stop offset="0.3400" stop-color="rgb(177,177,255)"/><stop offset="0.3600" stop-color="rgb(177,177,255)"/>
<stop offset="0.3600" stop-color="rgb(187,187,255)"/><stop offset="0.3800" stop-color="rgb(187,187,255)"/>
<stop offset="0.3800" stop-color="rgb(198,198,255)"/><stop offset="0.4000" stop-color="rgb(198,198,255)"/>
<stop offset="0.4000" stop-color="rgb(208,208,255)"/><stop offset="0.4200" stop-color="rgb(208,208,255)"/>
<stop offset="0.4200" stop-color="rgb(219,219,255)"/><stop offset="0.4400" stop-color="rgb(219,219,255)"/>
<stop offset="0.4400" stop-color="rgb(229,229,255)"/><stop offset="0.4600" stop-color="rgb(229,229,255)"/>
<stop offset="0.4600" stop-color="rgb(239,239,255)"/><stop offset="0.4800" stop-color="rgb(239,239,255)"/>
<stop offset="0.4800" stop-color="rgb(250,250,255)"/><stop offset="0.5000" stop-color="rgb(250,250,255)"/>
<stop offset="0.5000" stop-color="rgb(255,250,250)"/><stop offset="0.5200" stop-color="rgb(255,250,250)"/>
<stop offset="0.5200" stop-color="rgb(255,239,239)"/><stop offset="0.5400" stop-color="rgb(255,239,239)"/>
<stop offset="0.5400" stop-color="rgb(255,229,229)"/><stop offset="0.5600" stop-color="rgb(255,229,229)"/>
<stop offset="0.5600" stop-color="rgb(255,219,219)"/><stop offset="0.5800" stop-color="rgb(255,219,219)"/>
<stop offset="0.5800" stop-color="rgb(255,208,208)"/><stop offset="0.6000" stop-color="rgb(255,208,208)"/>
<stop offset="0.6000" stop-color="rgb(255,198,198)"/><stop offset="0.6200" stop-color="rgb(255,198,198)"/>
<stop offset="0.6200" stop-color="rgb(255,187,187)"/><stop offset="0.6400" stop-color="rgb(255,187,187)"/>
<stop offset="0.6400" stop-color="rgb(255,177,177)"/><stop offset="0.6600" stop-color="rgb(255,177,177)"/>
<stop offset="0.6600" stop-color="rgb(255,167,167)"/><stop offset="0.6800" stop-color="rgb(255,167,167)"/>
<stop offset="0.6800" stop-color="rgb(255,156,156)"/><stop offset="0.7000" stop-color="rgb(255,156,156)"/>
<stop offset="0.7000" stop-color="rgb(255,146,146)"/><stop offset="0.7200" stop-color="rgb(255,146,146)"/>
<stop offset="0.7200" stop-color="rgb(255,135,135)"/><stop offset="0.7400" stop-color="rgb(255,135,135)"/>
<stop offset="0.7400" stop-color="rgb(255,125,125)"/><stop offset="0.7600" stop-color="rgb(255,125,125)"/>
<stop offset="0.7600" stop-color="rgb(255,114,114)"/><stop offset="0.7800" stop-color="rgb(255,114,114)"/>
<stop offset="0.7800" stop-color="rgb(255,104,104)"/><stop offset="0.8000" stop-color="rgb(255,104,104)"/>
<stop offset="0.8000" stop-color="rgb(255,94,94)"/><stop offset="0.8200" stop-color="rgb(255,94,94)"/>
<stop offset="0.8200" stop-color="rgb(255,83,83)"/><stop offset="0.8400" stop-color="rgb(255,83,83)"/>
<stop offset="0.8400" stop-color="rgb(255,73,73)"/><stop offset="0.8600" stop-color="rgb(255,73,73)"/>
<stop offset="0.8600" stop-color="rgb(255,62,62)"/><stop offset="0.8800" stop-color="rgb(255,62,62)"/>
<stop offset="0.8800" stop-color="rgb(255,52,52)"/><stop offset="0.9000" stop-color="rgb(255,52,52)"/>
<stop offset="0.9000" stop-color="rgb(255,42,42)"/><stop offset="0.9200" stop-color="rgb(255,42,42)"/>
<stop offset="0.9200" stop-color="rgb(255,31,31)"/><stop offset="0.9400" stop-color="rgb(255,31,31)"/>
<stop offset="0.9400" stop-color="rgb(255,21,21)"/><stop offset="0.9600" stop-color="rgb(255,21,21)"/>
<stop offset="0.9600" stop-color="rgb(255,10,10)"/><stop offset="0.9800" stop-color="rgb(255,10,10)"/>
<stop offset="0.9800" stop-color="rgb(255,0,0)"/><stop offset="1.0000" stop-color="rgb(255,0,0)"/>
</linearGradient></defs>
<rect x="694.56" y="825.30" width="19.9" height="298.30" fill="url(#hgD)"/>
<text x="0" y="0" font-size="15.20" transform="translate(722.16 904.60) scale(1.000 1.070)">2</text>
<text x="0" y="0" font-size="15.20" transform="translate(722.16 979.40) scale(1.000 1.070)">0</text>
<text x="0" y="0" font-size="15.20" transform="translate(722.16 1054.40) scale(1.000 1.070)">−2</text>
<text x="0" y="0" font-size="15.50" font-weight="bold" transform="translate(743.56 836.30) scale(1.000 1.150)">Type</text>
<rect x="742.36" y="841.90" width="22.6" height="22.8" fill="#00DAE0"/>
<rect x="742.36" y="864.60" width="22.6" height="22.6" fill="#E199FF"/>
<text x="0" y="0" font-size="15.90" transform="translate(769.76 858.60) scale(1.000 1.080)">High</text>
<text x="0" y="0" font-size="15.90" transform="translate(769.76 881.20) scale(1.000 1.080)">Low</text>
<text x="0" y="0" font-size="15.50" font-weight="bold" transform="translate(743.56 915.60) scale(1.000 1.150)">Project</text>
<rect x="742.36" y="921.50" width="22.6" height="23.0" fill="#96CA00"/>
<rect x="742.36" y="944.40" width="22.6" height="22.8" fill="#FF9289"/>
<text x="0" y="0" font-size="15.90" transform="translate(769.76 939.00) scale(1.000 1.100)">GSE12654</text>
<text x="0" y="0" font-size="15.90" transform="translate(769.76 961.60) scale(1.000 1.100)">GSE21935</text>
<line x1="1250.05" y1="49.70" x2="1250.05" y2="260.30" stroke="#EBEBEB" stroke-width="0.8"/><line x1="1338.55" y1="49.70" x2="1338.55" y2="260.30" stroke="#EBEBEB" stroke-width="0.8"/><line x1="1427.05" y1="49.70" x2="1427.05" y2="260.30" stroke="#EBEBEB" stroke-width="0.8"/><line x1="1515.55" y1="49.70" x2="1515.55" y2="260.30" stroke="#EBEBEB" stroke-width="0.8"/><line x1="1294.30" y1="49.70" x2="1294.30" y2="260.30" stroke="#EBEBEB" stroke-width="1.5"/><line x1="1382.80" y1="49.70" x2="1382.80" y2="260.30" stroke="#EBEBEB" stroke-width="1.5"/><line x1="1471.30" y1="49.70" x2="1471.30" y2="260.30" stroke="#EBEBEB" stroke-width="1.5"/><line x1="1559.80" y1="49.70" x2="1559.80" y2="260.30" stroke="#EBEBEB" stroke-width="1.5"/><line x1="1246.10" y1="62.09" x2="1594.60" y2="62.09" stroke="#EBEBEB" stroke-width="1.5"/><line x1="1246.10" y1="82.74" x2="1594.60" y2="82.74" stroke="#EBEBEB" stroke-width="1.5"/><line x1="1246.10" y1="103.38" x2="1594.60" y2="103.38" stroke="#EBEBEB" stroke-width="1.5"/><line x1="1246.10" y1="124.03" x2="1594.60" y2="124.03" stroke="#EBEBEB" stroke-width="1.5"/><line x1="1246.10" y1="144.68" x2="1594.60" y2="144.68" stroke="#EBEBEB" stroke-width="1.5"/><line x1="1246.10" y1="165.32" x2="1594.60" y2="165.32" stroke="#EBEBEB" stroke-width="1.5"/><line x1="1246.10" y1="185.97" x2="1594.60" y2="185.97" stroke="#EBEBEB" stroke-width="1.5"/><line x1="1246.10" y1="206.62" x2="1594.60" y2="206.62" stroke="#EBEBEB" stroke-width="1.5"/><line x1="1246.10" y1="227.26" x2="1594.60" y2="227.26" stroke="#EBEBEB" stroke-width="1.5"/><line x1="1246.10" y1="247.91" x2="1594.60" y2="247.91" stroke="#EBEBEB" stroke-width="1.5"/>
<circle cx="1578.43" cy="62.09" r="10.55" fill="#de6765" stroke="#000" stroke-width="1.3"/>
<line x1="1242.50" y1="62.09" x2="1246.10" y2="62.09" stroke="#333" stroke-width="1.1"/>
<text x="0" y="0" font-size="15.00" text-anchor="end" transform="translate(1239.30 67.39) scale(1.000 1.050)">regulation of immune effector process</text>
<circle cx="1578.43" cy="82.74" r="10.55" fill="#de6765" stroke="#000" stroke-width="1.3"/>
<line x1="1242.50" y1="82.74" x2="1246.10" y2="82.74" stroke="#333" stroke-width="1.1"/>
<text x="0" y="0" font-size="15.00" text-anchor="end" transform="translate(1239.30 88.04) scale(1.000 1.050)">regulation of inflammatory response</text>
<circle cx="1559.80" cy="103.38" r="10.36" fill="#de6765" stroke="#000" stroke-width="1.3"/>
<line x1="1242.50" y1="103.38" x2="1246.10" y2="103.38" stroke="#333" stroke-width="1.1"/>
<text x="0" y="0" font-size="15.00" text-anchor="end" transform="translate(1239.30 108.68) scale(1.000 1.050)">leukocyte cell−cell adhesion</text>
<circle cx="1522.54" cy="124.03" r="9.95" fill="#de6765" stroke="#000" stroke-width="1.3"/>
<line x1="1242.50" y1="124.03" x2="1246.10" y2="124.03" stroke="#333" stroke-width="1.1"/>
<text x="0" y="0" font-size="15.00" text-anchor="end" transform="translate(1239.30 129.33) scale(1.000 1.050)">leukocyte activation involved in immune response</text>
<circle cx="1522.54" cy="144.68" r="9.95" fill="#de6765" stroke="#000" stroke-width="1.3"/>
<line x1="1242.50" y1="144.68" x2="1246.10" y2="144.68" stroke="#333" stroke-width="1.1"/>
<text x="0" y="0" font-size="15.00" text-anchor="end" transform="translate(1239.30 149.98) scale(1.000 1.050)">cell activation involved in immune response</text>
<circle cx="1503.91" cy="165.32" r="9.74" fill="#de6765" stroke="#000" stroke-width="1.3"/>
<line x1="1242.50" y1="165.32" x2="1246.10" y2="165.32" stroke="#333" stroke-width="1.1"/>
<text x="0" y="0" font-size="15.00" text-anchor="end" transform="translate(1239.30 170.62) scale(1.000 1.050)">phagocytosis</text>
<circle cx="1485.27" cy="185.97" r="9.52" fill="#de6765" stroke="#000" stroke-width="1.3"/>
<line x1="1242.50" y1="185.97" x2="1246.10" y2="185.97" stroke="#333" stroke-width="1.1"/>
<text x="0" y="0" font-size="15.00" text-anchor="end" transform="translate(1239.30 191.27) scale(1.000 1.050)">myeloid leukocyte activation</text>
<circle cx="1429.38" cy="206.62" r="8.79" fill="#dd6766" stroke="#000" stroke-width="1.3"/>
<line x1="1242.50" y1="206.62" x2="1246.10" y2="206.62" stroke="#333" stroke-width="1.1"/>
<text x="0" y="0" font-size="15.00" text-anchor="end" transform="translate(1239.30 211.92) scale(1.000 1.050)">granulocyte migration</text>
<circle cx="1410.75" cy="227.26" r="8.52" fill="#dd6766" stroke="#000" stroke-width="1.3"/>
<line x1="1242.50" y1="227.26" x2="1246.10" y2="227.26" stroke="#333" stroke-width="1.1"/>
<text x="0" y="0" font-size="15.00" text-anchor="end" transform="translate(1239.30 232.56) scale(1.000 1.050)">regulation of phagocytosis</text>
<circle cx="1392.12" cy="247.91" r="8.24" fill="#dd6766" stroke="#000" stroke-width="1.3"/>
<line x1="1242.50" y1="247.91" x2="1246.10" y2="247.91" stroke="#333" stroke-width="1.1"/>
<text x="0" y="0" font-size="15.00" text-anchor="end" transform="translate(1239.30 253.21) scale(1.000 1.050)">myeloid cell activation involved in immune response</text>
<rect x="1246.10" y="49.70" width="348.50" height="210.60" fill="none" stroke="#4d4d4d" stroke-width="1.3"/>
<rect x="1594.60" y="49.70" width="21.00" height="210.60" fill="#D9D9D9" stroke="#4d4d4d" stroke-width="1.3"/>
<text x="0" y="0" font-size="11.2" fill="#1a1a1a" text-anchor="middle" transform="translate(1605.10 155.00) rotate(90)" dy="4">BP</text>
<line x1="1250.05" y1="267.40" x2="1250.05" y2="478.50" stroke="#EBEBEB" stroke-width="0.8"/><line x1="1338.55" y1="267.40" x2="1338.55" y2="478.50" stroke="#EBEBEB" stroke-width="0.8"/><line x1="1427.05" y1="267.40" x2="1427.05" y2="478.50" stroke="#EBEBEB" stroke-width="0.8"/><line x1="1515.55" y1="267.40" x2="1515.55" y2="478.50" stroke="#EBEBEB" stroke-width="0.8"/><line x1="1294.30" y1="267.40" x2="1294.30" y2="478.50" stroke="#EBEBEB" stroke-width="1.5"/><line x1="1382.80" y1="267.40" x2="1382.80" y2="478.50" stroke="#EBEBEB" stroke-width="1.5"/><line x1="1471.30" y1="267.40" x2="1471.30" y2="478.50" stroke="#EBEBEB" stroke-width="1.5"/><line x1="1559.80" y1="267.40" x2="1559.80" y2="478.50" stroke="#EBEBEB" stroke-width="1.5"/><line x1="1246.10" y1="279.82" x2="1594.60" y2="279.82" stroke="#EBEBEB" stroke-width="1.5"/><line x1="1246.10" y1="300.51" x2="1594.60" y2="300.51" stroke="#EBEBEB" stroke-width="1.5"/><line x1="1246.10" y1="321.21" x2="1594.60" y2="321.21" stroke="#EBEBEB" stroke-width="1.5"/><line x1="1246.10" y1="341.91" x2="1594.60" y2="341.91" stroke="#EBEBEB" stroke-width="1.5"/><line x1="1246.10" y1="362.60" x2="1594.60" y2="362.60" stroke="#EBEBEB" stroke-width="1.5"/><line x1="1246.10" y1="383.30" x2="1594.60" y2="383.30" stroke="#EBEBEB" stroke-width="1.5"/><line x1="1246.10" y1="403.99" x2="1594.60" y2="403.99" stroke="#EBEBEB" stroke-width="1.5"/><line x1="1246.10" y1="424.69" x2="1594.60" y2="424.69" stroke="#EBEBEB" stroke-width="1.5"/><line x1="1246.10" y1="445.39" x2="1594.60" y2="445.39" stroke="#EBEBEB" stroke-width="1.5"/><line x1="1246.10" y1="466.08" x2="1594.60" y2="466.08" stroke="#EBEBEB" stroke-width="1.5"/>
<circle cx="1559.80" cy="279.82" r="10.36" fill="#de6765" stroke="#000" stroke-width="1.3"/>
<line x1="1242.50" y1="279.82" x2="1246.10" y2="279.82" stroke="#333" stroke-width="1.1"/>
<text x="0" y="0" font-size="15.00" text-anchor="end" transform="translate(1239.30 285.12) scale(1.000 1.050)">external side of plasma membrane</text>
<circle cx="1503.91" cy="300.51" r="9.74" fill="#de6765" stroke="#000" stroke-width="1.3"/>
<line x1="1242.50" y1="300.51" x2="1246.10" y2="300.51" stroke="#333" stroke-width="1.1"/>
<text x="0" y="0" font-size="15.00" text-anchor="end" transform="translate(1239.30 305.81) scale(1.000 1.050)">collagen−containing extracellular matrix</text>
<circle cx="1466.64" cy="321.21" r="9.29" fill="#dd6766" stroke="#000" stroke-width="1.3"/>
<line x1="1242.50" y1="321.21" x2="1246.10" y2="321.21" stroke="#333" stroke-width="1.1"/>
<text x="0" y="0" font-size="15.00" text-anchor="end" transform="translate(1239.30 326.51) scale(1.000 1.050)">endocytic vesicle</text>
<circle cx="1448.01" cy="341.91" r="9.05" fill="#dd6766" stroke="#000" stroke-width="1.3"/>
<line x1="1242.50" y1="341.91" x2="1246.10" y2="341.91" stroke="#333" stroke-width="1.1"/>
<text x="0" y="0" font-size="15.00" text-anchor="end" transform="translate(1239.30 347.21) scale(1.000 1.050)">secretory granule lumen</text>
<circle cx="1448.01" cy="362.60" r="9.05" fill="#dd6766" stroke="#000" stroke-width="1.3"/>
<line x1="1242.50" y1="362.60" x2="1246.10" y2="362.60" stroke="#333" stroke-width="1.1"/>
<text x="0" y="0" font-size="15.00" text-anchor="end" transform="translate(1239.30 367.90) scale(1.000 1.050)">cytoplasmic vesicle lumen</text>
<circle cx="1448.01" cy="383.30" r="9.05" fill="#dd6766" stroke="#000" stroke-width="1.3"/>
<line x1="1242.50" y1="383.30" x2="1246.10" y2="383.30" stroke="#333" stroke-width="1.1"/>
<text x="0" y="0" font-size="15.00" text-anchor="end" transform="translate(1239.30 388.60) scale(1.000 1.050)">vesicle lumen</text>
<circle cx="1410.75" cy="403.99" r="8.52" fill="#db6867" stroke="#000" stroke-width="1.3"/>
<line x1="1242.50" y1="403.99" x2="1246.10" y2="403.99" stroke="#333" stroke-width="1.1"/>
<text x="0" y="0" font-size="15.00" text-anchor="end" transform="translate(1239.30 409.29) scale(1.000 1.050)">membrane microdomain</text>
<circle cx="1392.12" cy="424.69" r="8.24" fill="#ca6d74" stroke="#000" stroke-width="1.3"/>
<line x1="1242.50" y1="424.69" x2="1246.10" y2="424.69" stroke="#333" stroke-width="1.1"/>
<text x="0" y="0" font-size="15.00" text-anchor="end" transform="translate(1239.30 429.99) scale(1.000 1.050)">membrane raft</text>
<circle cx="1298.96" cy="445.39" r="6.31" fill="#db6867" stroke="#000" stroke-width="1.3"/>
<line x1="1242.50" y1="445.39" x2="1246.10" y2="445.39" stroke="#333" stroke-width="1.1"/>
<text x="0" y="0" font-size="15.00" text-anchor="end" transform="translate(1239.30 450.69) scale(1.000 1.050)">cornified envelope</text>
<circle cx="1298.96" cy="466.08" r="6.31" fill="#ca6d74" stroke="#000" stroke-width="1.3"/>
<line x1="1242.50" y1="466.08" x2="1246.10" y2="466.08" stroke="#333" stroke-width="1.1"/>
<text x="0" y="0" font-size="15.00" text-anchor="end" transform="translate(1239.30 471.38) scale(1.000 1.050)">platelet alpha granule lumen</text>
<rect x="1246.10" y="267.40" width="348.50" height="211.10" fill="none" stroke="#4d4d4d" stroke-width="1.3"/>
<rect x="1594.60" y="267.40" width="21.00" height="211.10" fill="#D9D9D9" stroke="#4d4d4d" stroke-width="1.3"/>
<text x="0" y="0" font-size="11.2" fill="#1a1a1a" text-anchor="middle" transform="translate(1605.10 372.95) rotate(90)" dy="4">CC</text>
<line x1="1250.05" y1="486.00" x2="1250.05" y2="696.50" stroke="#EBEBEB" stroke-width="0.8"/><line x1="1338.55" y1="486.00" x2="1338.55" y2="696.50" stroke="#EBEBEB" stroke-width="0.8"/><line x1="1427.05" y1="486.00" x2="1427.05" y2="696.50" stroke="#EBEBEB" stroke-width="0.8"/><line x1="1515.55" y1="486.00" x2="1515.55" y2="696.50" stroke="#EBEBEB" stroke-width="0.8"/><line x1="1294.30" y1="486.00" x2="1294.30" y2="696.50" stroke="#EBEBEB" stroke-width="1.5"/><line x1="1382.80" y1="486.00" x2="1382.80" y2="696.50" stroke="#EBEBEB" stroke-width="1.5"/><line x1="1471.30" y1="486.00" x2="1471.30" y2="696.50" stroke="#EBEBEB" stroke-width="1.5"/><line x1="1559.80" y1="486.00" x2="1559.80" y2="696.50" stroke="#EBEBEB" stroke-width="1.5"/><line x1="1246.10" y1="498.38" x2="1594.60" y2="498.38" stroke="#EBEBEB" stroke-width="1.5"/><line x1="1246.10" y1="519.02" x2="1594.60" y2="519.02" stroke="#EBEBEB" stroke-width="1.5"/><line x1="1246.10" y1="539.66" x2="1594.60" y2="539.66" stroke="#EBEBEB" stroke-width="1.5"/><line x1="1246.10" y1="560.29" x2="1594.60" y2="560.29" stroke="#EBEBEB" stroke-width="1.5"/><line x1="1246.10" y1="580.93" x2="1594.60" y2="580.93" stroke="#EBEBEB" stroke-width="1.5"/><line x1="1246.10" y1="601.57" x2="1594.60" y2="601.57" stroke="#EBEBEB" stroke-width="1.5"/><line x1="1246.10" y1="622.21" x2="1594.60" y2="622.21" stroke="#EBEBEB" stroke-width="1.5"/><line x1="1246.10" y1="642.84" x2="1594.60" y2="642.84" stroke="#EBEBEB" stroke-width="1.5"/><line x1="1246.10" y1="663.48" x2="1594.60" y2="663.48" stroke="#EBEBEB" stroke-width="1.5"/><line x1="1246.10" y1="684.12" x2="1594.60" y2="684.12" stroke="#EBEBEB" stroke-width="1.5"/>
<circle cx="1448.01" cy="498.38" r="9.05" fill="#de6765" stroke="#000" stroke-width="1.3"/>
<line x1="1242.50" y1="498.38" x2="1246.10" y2="498.38" stroke="#333" stroke-width="1.1"/>
<text x="0" y="0" font-size="15.00" text-anchor="end" transform="translate(1239.30 503.68) scale(1.000 1.050)">cytokine binding</text>
<circle cx="1354.85" cy="519.02" r="7.60" fill="#db6867" stroke="#000" stroke-width="1.3"/>
<line x1="1242.50" y1="519.02" x2="1246.10" y2="519.02" stroke="#333" stroke-width="1.1"/>
<text x="0" y="0" font-size="15.00" text-anchor="end" transform="translate(1239.30 524.32) scale(1.000 1.050)">immune receptor activity</text>
<circle cx="1298.96" cy="539.66" r="6.31" fill="#c76e76" stroke="#000" stroke-width="1.3"/>
<line x1="1242.50" y1="539.66" x2="1246.10" y2="539.66" stroke="#333" stroke-width="1.1"/>
<text x="0" y="0" font-size="15.00" text-anchor="end" transform="translate(1239.30 544.96) scale(1.000 1.050)">cell adhesion mediator activity</text>
<circle cx="1280.33" cy="560.29" r="5.66" fill="#db6867" stroke="#000" stroke-width="1.3"/>
<line x1="1242.50" y1="560.29" x2="1246.10" y2="560.29" stroke="#333" stroke-width="1.1"/>
<text x="0" y="0" font-size="15.00" text-anchor="end" transform="translate(1239.30 565.59) scale(1.000 1.050)">chemokine binding</text>
<circle cx="1280.33" cy="580.93" r="5.66" fill="#b77181" stroke="#000" stroke-width="1.3"/>
<line x1="1242.50" y1="580.93" x2="1246.10" y2="580.93" stroke="#333" stroke-width="1.1"/>
<text x="0" y="0" font-size="15.00" text-anchor="end" transform="translate(1239.30 586.23) scale(1.000 1.050)">non−membrane spanning protein tyrosine kinase activity</text>
<circle cx="1280.33" cy="601.57" r="5.66" fill="#7a7aa4" stroke="#000" stroke-width="1.3"/>
<line x1="1242.50" y1="601.57" x2="1246.10" y2="601.57" stroke="#333" stroke-width="1.1"/>
<text x="0" y="0" font-size="15.00" text-anchor="end" transform="translate(1239.30 606.87) scale(1.000 1.050)">cell−cell adhesion mediator activity</text>
<circle cx="1280.33" cy="622.21" r="5.66" fill="#607caf" stroke="#000" stroke-width="1.3"/>
<line x1="1242.50" y1="622.21" x2="1246.10" y2="622.21" stroke="#333" stroke-width="1.1"/>
<text x="0" y="0" font-size="15.00" text-anchor="end" transform="translate(1239.30 627.51) scale(1.000 1.050)">molecular sequestering activity</text>
<circle cx="1261.69" cy="642.84" r="4.10" fill="#db6867" stroke="#000" stroke-width="1.3"/>
<line x1="1242.50" y1="642.84" x2="1246.10" y2="642.84" stroke="#333" stroke-width="1.1"/>
<text x="0" y="0" font-size="15.00" text-anchor="end" transform="translate(1239.30 648.14) scale(1.000 1.050)">Toll−like receptor binding</text>
<circle cx="1261.69" cy="663.48" r="4.10" fill="#917899" stroke="#000" stroke-width="1.3"/>
<line x1="1242.50" y1="663.48" x2="1246.10" y2="663.48" stroke="#333" stroke-width="1.1"/>
<text x="0" y="0" font-size="15.00" text-anchor="end" transform="translate(1239.30 668.78) scale(1.000 1.050)">phospholipase binding</text>
<circle cx="1261.69" cy="684.12" r="4.10" fill="#327eba" stroke="#000" stroke-width="1.3"/>
<line x1="1242.50" y1="684.12" x2="1246.10" y2="684.12" stroke="#333" stroke-width="1.1"/>
<text x="0" y="0" font-size="15.00" text-anchor="end" transform="translate(1239.30 689.42) scale(1.000 1.050)">MHC class II protein complex binding</text>
<rect x="1246.10" y="486.00" width="348.50" height="210.50" fill="none" stroke="#4d4d4d" stroke-width="1.3"/>
<rect x="1594.60" y="486.00" width="21.00" height="210.50" fill="#D9D9D9" stroke="#4d4d4d" stroke-width="1.3"/>
<text x="0" y="0" font-size="11.2" fill="#1a1a1a" text-anchor="middle" transform="translate(1605.10 591.25) rotate(90)" dy="4">MF</text>
<line x1="1294.30" y1="696.40" x2="1294.30" y2="700.00" stroke="#333" stroke-width="1.1"/>
<text x="0" y="0" font-size="15.00" text-anchor="middle" transform="translate(1294.30 713.30) scale(1.000 1.050)">0.025</text>
<line x1="1382.80" y1="696.40" x2="1382.80" y2="700.00" stroke="#333" stroke-width="1.1"/>
<text x="0" y="0" font-size="15.00" text-anchor="middle" transform="translate(1382.80 713.30) scale(1.000 1.050)">0.050</text>
<line x1="1471.30" y1="696.40" x2="1471.30" y2="700.00" stroke="#333" stroke-width="1.1"/>
<text x="0" y="0" font-size="15.00" text-anchor="middle" transform="translate(1471.30 713.30) scale(1.000 1.050)">0.075</text>
<line x1="1559.80" y1="696.40" x2="1559.80" y2="700.00" stroke="#333" stroke-width="1.1"/>
<text x="0" y="0" font-size="15.00" text-anchor="middle" transform="translate(1559.80 713.30) scale(1.000 1.050)">0.100</text>
<text x="0" y="0" font-size="15.00" text-anchor="middle" transform="translate(1420.35 731.00) scale(1.000 1.050)">GeneRatio</text>
<text x="0" y="0" font-size="13.40" transform="translate(1637.20 247.60) scale(1.000 1.050)">pvalue</text>
<defs><linearGradient id="pgB" x1="0" y1="0" x2="0" y2="1">
<stop offset="0.00" stop-color="#e06663"/>
<stop offset="0.10" stop-color="#d56a6c"/>
<stop offset="0.20" stop-color="#ca6d74"/>
<stop offset="0.30" stop-color="#be707d"/>
<stop offset="0.40" stop-color="#b17386"/>
<stop offset="0.50" stop-color="#a3758e"/>
<stop offset="0.60" stop-color="#947797"/>
<stop offset="0.70" stop-color="#8479a0"/>
<stop offset="0.80" stop-color="#707ba8"/>
<stop offset="0.90" stop-color="#577db1"/>
<stop offset="1.00" stop-color="#327eba"/>
</linearGradient></defs>
<rect x="1636.90" y="256.80" width="21.5" height="107.20" fill="url(#pgB)"/>
<line x1="1636.90" y1="277.90" x2="1641.20" y2="277.90" stroke="#fff" stroke-width="1"/>
<line x1="1654.10" y1="277.90" x2="1658.40" y2="277.90" stroke="#fff" stroke-width="1"/>
<text x="0" y="0" font-size="11.20" transform="translate(1665.40 281.90) scale(1.000 1.050)">0.0005</text>
<line x1="1636.90" y1="299.40" x2="1641.20" y2="299.40" stroke="#fff" stroke-width="1"/>
<line x1="1654.10" y1="299.40" x2="1658.40" y2="299.40" stroke="#fff" stroke-width="1"/>
<text x="0" y="0" font-size="11.20" transform="translate(1665.40 303.40) scale(1.000 1.050)">0.0010</text>
<line x1="1636.90" y1="320.90" x2="1641.20" y2="320.90" stroke="#fff" stroke-width="1"/>
<line x1="1654.10" y1="320.90" x2="1658.40" y2="320.90" stroke="#fff" stroke-width="1"/>
<text x="0" y="0" font-size="11.20" transform="translate(1665.40 324.90) scale(1.000 1.050)">0.0015</text>
<line x1="1636.90" y1="342.40" x2="1641.20" y2="342.40" stroke="#fff" stroke-width="1"/>
<line x1="1654.10" y1="342.40" x2="1658.40" y2="342.40" stroke="#fff" stroke-width="1"/>
<text x="0" y="0" font-size="11.20" transform="translate(1665.40 346.40) scale(1.000 1.050)">0.0020</text>
<line x1="1636.90" y1="363.90" x2="1641.20" y2="363.90" stroke="#fff" stroke-width="1"/>
<line x1="1654.10" y1="363.90" x2="1658.40" y2="363.90" stroke="#fff" stroke-width="1"/>
<text x="0" y="0" font-size="11.20" transform="translate(1665.40 367.90) scale(1.000 1.050)">0.0025</text>
<text x="0" y="0" font-size="13.40" transform="translate(1637.20 403.40) scale(1.000 1.050)">Count</text>
<circle cx="1650.70" cy="422.40" r="6.41" fill="none" stroke="#000" stroke-width="1.1"/>
<text x="0" y="0" font-size="11.20" transform="translate(1671.50 426.40) scale(1.000 1.050)">5</text>
<circle cx="1650.70" cy="444.60" r="8.34" fill="none" stroke="#000" stroke-width="1.1"/>
<text x="0" y="0" font-size="11.20" transform="translate(1671.50 448.60) scale(1.000 1.050)">10</text>
<circle cx="1650.70" cy="468.30" r="9.62" fill="none" stroke="#000" stroke-width="1.1"/>
<text x="0" y="0" font-size="11.20" transform="translate(1671.50 472.30) scale(1.000 1.050)">15</text>
<circle cx="1650.70" cy="495.00" r="10.65" fill="none" stroke="#000" stroke-width="1.1"/>
<text x="0" y="0" font-size="11.20" transform="translate(1671.50 499.00) scale(1.000 1.050)">20</text>
<line x1="2126.85" y1="51.80" x2="2126.85" y2="702.60" stroke="#EBEBEB" stroke-width="0.8"/><line x1="2213.55" y1="51.80" x2="2213.55" y2="702.60" stroke="#EBEBEB" stroke-width="0.8"/><line x1="2300.25" y1="51.80" x2="2300.25" y2="702.60" stroke="#EBEBEB" stroke-width="0.8"/><line x1="2386.95" y1="51.80" x2="2386.95" y2="702.60" stroke="#EBEBEB" stroke-width="0.8"/><line x1="2083.50" y1="51.80" x2="2083.50" y2="702.60" stroke="#EBEBEB" stroke-width="1.5"/><line x1="2170.20" y1="51.80" x2="2170.20" y2="702.60" stroke="#EBEBEB" stroke-width="1.5"/><line x1="2256.90" y1="51.80" x2="2256.90" y2="702.60" stroke="#EBEBEB" stroke-width="1.5"/><line x1="2343.60" y1="51.80" x2="2343.60" y2="702.60" stroke="#EBEBEB" stroke-width="1.5"/><line x1="2056.80" y1="77.49" x2="2415.00" y2="77.49" stroke="#EBEBEB" stroke-width="1.5"/><line x1="2056.80" y1="120.31" x2="2415.00" y2="120.31" stroke="#EBEBEB" stroke-width="1.5"/><line x1="2056.80" y1="163.12" x2="2415.00" y2="163.12" stroke="#EBEBEB" stroke-width="1.5"/><line x1="2056.80" y1="205.94" x2="2415.00" y2="205.94" stroke="#EBEBEB" stroke-width="1.5"/><line x1="2056.80" y1="248.75" x2="2415.00" y2="248.75" stroke="#EBEBEB" stroke-width="1.5"/><line x1="2056.80" y1="291.57" x2="2415.00" y2="291.57" stroke="#EBEBEB" stroke-width="1.5"/><line x1="2056.80" y1="334.38" x2="2415.00" y2="334.38" stroke="#EBEBEB" stroke-width="1.5"/><line x1="2056.80" y1="377.20" x2="2415.00" y2="377.20" stroke="#EBEBEB" stroke-width="1.5"/><line x1="2056.80" y1="420.02" x2="2415.00" y2="420.02" stroke="#EBEBEB" stroke-width="1.5"/><line x1="2056.80" y1="462.83" x2="2415.00" y2="462.83" stroke="#EBEBEB" stroke-width="1.5"/><line x1="2056.80" y1="505.65" x2="2415.00" y2="505.65" stroke="#EBEBEB" stroke-width="1.5"/><line x1="2056.80" y1="548.46" x2="2415.00" y2="548.46" stroke="#EBEBEB" stroke-width="1.5"/><line x1="2056.80" y1="591.28" x2="2415.00" y2="591.28" stroke="#EBEBEB" stroke-width="1.5"/><line x1="2056.80" y1="634.09" x2="2415.00" y2="634.09" stroke="#EBEBEB" stroke-width="1.5"/><line x1="2056.80" y1="676.91" x2="2415.00" y2="676.91" stroke="#EBEBEB" stroke-width="1.5"/>
<circle cx="2399.01" cy="77.49" r="10.70" fill="#ca6d74" stroke="#000" stroke-width="1.3"/>
<line x1="2053.20" y1="77.49" x2="2056.80" y2="77.49" stroke="#333" stroke-width="1.1"/>
<text x="0" y="0" font-size="15.06" text-anchor="end" transform="translate(2050.00 82.79) scale(1.000 1.050)">PI3K−Akt signaling pathway</text>
<circle cx="2301.23" cy="120.31" r="9.69" fill="#de6765" stroke="#000" stroke-width="1.3"/>
<line x1="2053.20" y1="120.31" x2="2056.80" y2="120.31" stroke="#333" stroke-width="1.1"/>
<text x="0" y="0" font-size="15.06" text-anchor="end" transform="translate(2050.00 125.61) scale(1.000 1.050)">Tuberculosis</text>
<circle cx="2301.23" cy="163.12" r="9.69" fill="#577db1" stroke="#000" stroke-width="1.3"/>
<line x1="2053.20" y1="163.12" x2="2056.80" y2="163.12" stroke="#333" stroke-width="1.1"/>
<text x="0" y="0" font-size="15.06" text-anchor="end" transform="translate(2050.00 168.42) scale(1.000 1.050)">Cytokine−cytokine receptor interaction</text>
<circle cx="2236.04" cy="205.94" r="8.88" fill="#c76e76" stroke="#000" stroke-width="1.3"/>
<line x1="2053.20" y1="205.94" x2="2056.80" y2="205.94" stroke="#333" stroke-width="1.1"/>
<text x="0" y="0" font-size="15.06" text-anchor="end" transform="translate(2050.00 211.24) scale(1.000 1.050)">Herpes simplex virus 1 infection</text>
<circle cx="2170.85" cy="248.75" r="7.90" fill="#db6867" stroke="#000" stroke-width="1.3"/>
<line x1="2053.20" y1="248.75" x2="2056.80" y2="248.75" stroke="#333" stroke-width="1.1"/>
<text x="0" y="0" font-size="15.06" text-anchor="end" transform="translate(2050.00 254.05) scale(1.000 1.050)">Staphylococcus aureus infection</text>
<circle cx="2170.85" cy="291.57" r="7.90" fill="#db6867" stroke="#000" stroke-width="1.3"/>
<line x1="2053.20" y1="291.57" x2="2056.80" y2="291.57" stroke="#333" stroke-width="1.1"/>
<text x="0" y="0" font-size="15.06" text-anchor="end" transform="translate(2050.00 296.87) scale(1.000 1.050)">Amoebiasis</text>
<circle cx="2138.26" cy="334.38" r="7.27" fill="#dd6766" stroke="#000" stroke-width="1.3"/>
<line x1="2053.20" y1="334.38" x2="2056.80" y2="334.38" stroke="#333" stroke-width="1.1"/>
<text x="0" y="0" font-size="15.06" text-anchor="end" transform="translate(2050.00 339.68) scale(1.000 1.050)">Malaria</text>
<circle cx="2138.26" cy="377.20" r="7.27" fill="#dd6766" stroke="#000" stroke-width="1.3"/>
<line x1="2053.20" y1="377.20" x2="2056.80" y2="377.20" stroke="#333" stroke-width="1.1"/>
<text x="0" y="0" font-size="15.06" text-anchor="end" transform="translate(2050.00 382.50) scale(1.000 1.050)">Leishmaniasis</text>
<circle cx="2138.26" cy="420.02" r="7.27" fill="#c46f79" stroke="#000" stroke-width="1.3"/>
<line x1="2053.20" y1="420.02" x2="2056.80" y2="420.02" stroke="#333" stroke-width="1.1"/>
<text x="0" y="0" font-size="15.06" text-anchor="end" transform="translate(2050.00 425.32) scale(1.000 1.050)">Hematopoietic cell lineage</text>
<circle cx="2138.26" cy="462.83" r="7.27" fill="#9c7693" stroke="#000" stroke-width="1.3"/>
<line x1="2053.20" y1="462.83" x2="2056.80" y2="462.83" stroke="#333" stroke-width="1.1"/>
<text x="0" y="0" font-size="15.06" text-anchor="end" transform="translate(2050.00 468.13) scale(1.000 1.050)">HIF−1 signaling pathway</text>
<circle cx="2138.26" cy="505.65" r="7.27" fill="#917899" stroke="#000" stroke-width="1.3"/>
<line x1="2053.20" y1="505.65" x2="2056.80" y2="505.65" stroke="#333" stroke-width="1.1"/>
<text x="0" y="0" font-size="15.06" text-anchor="end" transform="translate(2050.00 510.95) scale(1.000 1.050)">Toxoplasmosis</text>
<circle cx="2138.26" cy="548.46" r="7.27" fill="#407eb7" stroke="#000" stroke-width="1.3"/>
<line x1="2053.20" y1="548.46" x2="2056.80" y2="548.46" stroke="#333" stroke-width="1.1"/>
<text x="0" y="0" font-size="15.06" text-anchor="end" transform="translate(2050.00 553.76) scale(1.000 1.050)">TNF signaling pathway</text>
<circle cx="2105.66" cy="591.28" r="6.46" fill="#9c7693" stroke="#000" stroke-width="1.3"/>
<line x1="2053.20" y1="591.28" x2="2056.80" y2="591.28" stroke="#333" stroke-width="1.1"/>
<text x="0" y="0" font-size="15.06" text-anchor="end" transform="translate(2050.00 596.58) scale(1.000 1.050)">Antigen processing and presentation</text>
<circle cx="2105.66" cy="634.09" r="6.46" fill="#4e7db4" stroke="#000" stroke-width="1.3"/>
<line x1="2053.20" y1="634.09" x2="2056.80" y2="634.09" stroke="#333" stroke-width="1.1"/>
<text x="0" y="0" font-size="15.06" text-anchor="end" transform="translate(2050.00 639.39) scale(1.000 1.050)">Complement and coagulation cascades</text>
<circle cx="2073.07" cy="676.91" r="4.50" fill="#3c7eb8" stroke="#000" stroke-width="1.3"/>
<line x1="2053.20" y1="676.91" x2="2056.80" y2="676.91" stroke="#333" stroke-width="1.1"/>
<text x="0" y="0" font-size="15.06" text-anchor="end" transform="translate(2050.00 682.21) scale(1.000 1.050)">Mineral absorption</text>
<rect x="2056.80" y="51.80" width="358.20" height="650.80" fill="none" stroke="#8a8a8a" stroke-width="1.5"/>
<line x1="2083.50" y1="702.60" x2="2083.50" y2="706.20" stroke="#333" stroke-width="1.1"/>
<text x="0" y="0" font-size="15.00" text-anchor="middle" transform="translate(2083.50 719.80) scale(1.000 1.050)">0.04</text>
<line x1="2170.20" y1="702.60" x2="2170.20" y2="706.20" stroke="#333" stroke-width="1.1"/>
<text x="0" y="0" font-size="15.00" text-anchor="middle" transform="translate(2170.20 719.80) scale(1.000 1.050)">0.06</text>
<line x1="2256.90" y1="702.60" x2="2256.90" y2="706.20" stroke="#333" stroke-width="1.1"/>
<text x="0" y="0" font-size="15.00" text-anchor="middle" transform="translate(2256.90 719.80) scale(1.000 1.050)">0.08</text>
<line x1="2343.60" y1="702.60" x2="2343.60" y2="706.20" stroke="#333" stroke-width="1.1"/>
<text x="0" y="0" font-size="15.00" text-anchor="middle" transform="translate(2343.60 719.80) scale(1.000 1.050)">0.10</text>
<text x="0" y="0" font-size="15.00" text-anchor="middle" transform="translate(2235.90 737.20) scale(1.000 1.050)">GeneRatio</text>
<text x="0" y="0" font-size="13.40" transform="translate(2436.70 239.30) scale(1.000 1.050)">pvalue</text>
<defs><linearGradient id="pgC" x1="0" y1="0" x2="0" y2="1">
<stop offset="0.00" stop-color="#e06663"/>
<stop offset="0.10" stop-color="#d56a6c"/>
<stop offset="0.20" stop-color="#ca6d74"/>
<stop offset="0.30" stop-color="#be707d"/>
<stop offset="0.40" stop-color="#b17386"/>
<stop offset="0.50" stop-color="#a3758e"/>
<stop offset="0.60" stop-color="#947797"/>
<stop offset="0.70" stop-color="#8479a0"/>
<stop offset="0.80" stop-color="#707ba8"/>
<stop offset="0.90" stop-color="#577db1"/>
<stop offset="1.00" stop-color="#327eba"/>
</linearGradient></defs>
<rect x="2436.40" y="249.10" width="21.5" height="107.70" fill="url(#pgC)"/>
<line x1="2436.40" y1="270.50" x2="2440.70" y2="270.50" stroke="#fff" stroke-width="1"/>
<line x1="2453.60" y1="270.50" x2="2457.90" y2="270.50" stroke="#fff" stroke-width="1"/>
<text x="0" y="0" font-size="11.20" transform="translate(2464.90 274.50) scale(1.000 1.050)">0.0005</text>
<line x1="2436.40" y1="292.00" x2="2440.70" y2="292.00" stroke="#fff" stroke-width="1"/>
<line x1="2453.60" y1="292.00" x2="2457.90" y2="292.00" stroke="#fff" stroke-width="1"/>
<text x="0" y="0" font-size="11.20" transform="translate(2464.90 296.00) scale(1.000 1.050)">0.0010</text>
<line x1="2436.40" y1="313.60" x2="2440.70" y2="313.60" stroke="#fff" stroke-width="1"/>
<line x1="2453.60" y1="313.60" x2="2457.90" y2="313.60" stroke="#fff" stroke-width="1"/>
<text x="0" y="0" font-size="11.20" transform="translate(2464.90 317.60) scale(1.000 1.050)">0.0015</text>
<line x1="2436.40" y1="335.20" x2="2440.70" y2="335.20" stroke="#fff" stroke-width="1"/>
<line x1="2453.60" y1="335.20" x2="2457.90" y2="335.20" stroke="#fff" stroke-width="1"/>
<text x="0" y="0" font-size="11.20" transform="translate(2464.90 339.20) scale(1.000 1.050)">0.0020</text>
<line x1="2436.40" y1="356.70" x2="2440.70" y2="356.70" stroke="#fff" stroke-width="1"/>
<line x1="2453.60" y1="356.70" x2="2457.90" y2="356.70" stroke="#fff" stroke-width="1"/>
<text x="0" y="0" font-size="11.20" transform="translate(2464.90 360.70) scale(1.000 1.050)">0.0025</text>
<text x="0" y="0" font-size="13.40" transform="translate(2436.70 397.20) scale(1.000 1.050)">Count</text>
<circle cx="2449.10" cy="415.90" r="6.56" fill="none" stroke="#000" stroke-width="1.1"/>
<text x="0" y="0" font-size="11.20" transform="translate(2469.10 419.90) scale(1.000 1.050)">6</text>
<circle cx="2449.10" cy="437.90" r="8.00" fill="none" stroke="#000" stroke-width="1.1"/>
<text x="0" y="0" font-size="11.20" transform="translate(2469.10 441.90) scale(1.000 1.050)">8</text>
<circle cx="2449.10" cy="461.10" r="8.98" fill="none" stroke="#000" stroke-width="1.1"/>
<text x="0" y="0" font-size="11.20" transform="translate(2469.10 465.10) scale(1.000 1.050)">10</text>
<circle cx="2449.10" cy="484.90" r="9.79" fill="none" stroke="#000" stroke-width="1.1"/>
<text x="0" y="0" font-size="11.20" transform="translate(2469.10 488.90) scale(1.000 1.050)">12</text>
<circle cx="2449.10" cy="511.60" r="10.48" fill="none" stroke="#000" stroke-width="1.1"/>
<text x="0" y="0" font-size="11.20" transform="translate(2469.10 515.60) scale(1.000 1.050)">14</text>
<line x1="1273.90" y1="792.20" x2="1273.90" y2="1007.60" stroke="#EBEBEB" stroke-width="0.8"/><line x1="1418.70" y1="792.20" x2="1418.70" y2="1007.60" stroke="#EBEBEB" stroke-width="0.8"/><line x1="1563.50" y1="792.20" x2="1563.50" y2="1007.60" stroke="#EBEBEB" stroke-width="0.8"/><line x1="1346.30" y1="792.20" x2="1346.30" y2="1007.60" stroke="#EBEBEB" stroke-width="1.5"/><line x1="1491.10" y1="792.20" x2="1491.10" y2="1007.60" stroke="#EBEBEB" stroke-width="1.5"/><line x1="1246.00" y1="804.87" x2="1595.30" y2="804.87" stroke="#EBEBEB" stroke-width="1.5"/><line x1="1246.00" y1="825.99" x2="1595.30" y2="825.99" stroke="#EBEBEB" stroke-width="1.5"/><line x1="1246.00" y1="847.11" x2="1595.30" y2="847.11" stroke="#EBEBEB" stroke-width="1.5"/><line x1="1246.00" y1="868.22" x2="1595.30" y2="868.22" stroke="#EBEBEB" stroke-width="1.5"/><line x1="1246.00" y1="889.34" x2="1595.30" y2="889.34" stroke="#EBEBEB" stroke-width="1.5"/><line x1="1246.00" y1="910.46" x2="1595.30" y2="910.46" stroke="#EBEBEB" stroke-width="1.5"/><line x1="1246.00" y1="931.58" x2="1595.30" y2="931.58" stroke="#EBEBEB" stroke-width="1.5"/><line x1="1246.00" y1="952.69" x2="1595.30" y2="952.69" stroke="#EBEBEB" stroke-width="1.5"/><line x1="1246.00" y1="973.81" x2="1595.30" y2="973.81" stroke="#EBEBEB" stroke-width="1.5"/><line x1="1246.00" y1="994.93" x2="1595.30" y2="994.93" stroke="#EBEBEB" stroke-width="1.5"/>
<circle cx="1579.24" cy="804.87" r="10.75" fill="#dd6766" stroke="#000" stroke-width="1.3"/>
<line x1="1242.40" y1="804.87" x2="1246.00" y2="804.87" stroke="#333" stroke-width="1.1"/>
<text x="0" y="0" font-size="15.30" text-anchor="end" transform="translate(1239.20 810.17) scale(1.000 1.050)">leukocyte cell−cell adhesion</text>
<circle cx="1390.37" cy="825.99" r="8.40" fill="#dd6766" stroke="#000" stroke-width="1.3"/>
<line x1="1242.40" y1="825.99" x2="1246.00" y2="825.99" stroke="#333" stroke-width="1.1"/>
<text x="0" y="0" font-size="15.30" text-anchor="end" transform="translate(1239.20 831.29) scale(1.000 1.050)">leukocyte tethering or rolling</text>
<circle cx="1390.37" cy="847.11" r="8.40" fill="#dd6766" stroke="#000" stroke-width="1.3"/>
<line x1="1242.40" y1="847.11" x2="1246.00" y2="847.11" stroke="#333" stroke-width="1.1"/>
<text x="0" y="0" font-size="15.30" text-anchor="end" transform="translate(1239.20 852.41) scale(1.000 1.050)">leukocyte adhesion to vascular endothelial cell</text>
<circle cx="1390.37" cy="868.22" r="8.40" fill="#dd6766" stroke="#000" stroke-width="1.3"/>
<line x1="1242.40" y1="868.22" x2="1246.00" y2="868.22" stroke="#333" stroke-width="1.1"/>
<text x="0" y="0" font-size="15.30" text-anchor="end" transform="translate(1239.20 873.52) scale(1.000 1.050)">regulation of oxidoreductase activity</text>
<circle cx="1390.37" cy="889.34" r="8.40" fill="#dd6766" stroke="#000" stroke-width="1.3"/>
<line x1="1242.40" y1="889.34" x2="1246.00" y2="889.34" stroke="#333" stroke-width="1.1"/>
<text x="0" y="0" font-size="15.30" text-anchor="end" transform="translate(1239.20 894.64) scale(1.000 1.050)">cellular extravasation</text>
<circle cx="1327.41" cy="910.46" r="7.21" fill="#dd6766" stroke="#000" stroke-width="1.3"/>
<line x1="1242.40" y1="910.46" x2="1246.00" y2="910.46" stroke="#333" stroke-width="1.1"/>
<text x="0" y="0" font-size="15.30" text-anchor="end" transform="translate(1239.20 915.76) scale(1.000 1.050)">hypothalamus cell differentiation</text>
<circle cx="1327.41" cy="931.58" r="7.21" fill="#dd6766" stroke="#000" stroke-width="1.3"/>
<line x1="1242.40" y1="931.58" x2="1246.00" y2="931.58" stroke="#333" stroke-width="1.1"/>
<text x="0" y="0" font-size="15.30" text-anchor="end" transform="translate(1239.20 936.88) scale(1.000 1.050)">motor neuron migration</text>
<circle cx="1327.41" cy="952.69" r="7.21" fill="#dd6766" stroke="#000" stroke-width="1.3"/>
<line x1="1242.40" y1="952.69" x2="1246.00" y2="952.69" stroke="#333" stroke-width="1.1"/>
<text x="0" y="0" font-size="15.30" text-anchor="end" transform="translate(1239.20 957.99) scale(1.000 1.050)">regulation of respiratory system process</text>
<circle cx="1327.41" cy="973.81" r="7.21" fill="#dd6766" stroke="#000" stroke-width="1.3"/>
<line x1="1242.40" y1="973.81" x2="1246.00" y2="973.81" stroke="#333" stroke-width="1.1"/>
<text x="0" y="0" font-size="15.30" text-anchor="end" transform="translate(1239.20 979.11) scale(1.000 1.050)">ganglion development</text>
<circle cx="1327.41" cy="994.93" r="7.21" fill="#dd6766" stroke="#000" stroke-width="1.3"/>
<line x1="1242.40" y1="994.93" x2="1246.00" y2="994.93" stroke="#333" stroke-width="1.1"/>
<text x="0" y="0" font-size="15.30" text-anchor="end" transform="translate(1239.20 1000.23) scale(1.000 1.050)">parasympathetic nervous system development</text>
<rect x="1246.00" y="792.20" width="349.30" height="215.40" fill="none" stroke="#4d4d4d" stroke-width="1.3"/>
<rect x="1595.30" y="792.20" width="22.10" height="215.40" fill="#D9D9D9" stroke="#4d4d4d" stroke-width="1.3"/>
<text x="0" y="0" font-size="11.2" fill="#1a1a1a" text-anchor="middle" transform="translate(1606.35 899.90) rotate(90)" dy="4">BP</text>
<line x1="1273.90" y1="1015.90" x2="1273.90" y2="1231.50" stroke="#EBEBEB" stroke-width="0.8"/><line x1="1418.70" y1="1015.90" x2="1418.70" y2="1231.50" stroke="#EBEBEB" stroke-width="0.8"/><line x1="1563.50" y1="1015.90" x2="1563.50" y2="1231.50" stroke="#EBEBEB" stroke-width="0.8"/><line x1="1346.30" y1="1015.90" x2="1346.30" y2="1231.50" stroke="#EBEBEB" stroke-width="1.5"/><line x1="1491.10" y1="1015.90" x2="1491.10" y2="1231.50" stroke="#EBEBEB" stroke-width="1.5"/><line x1="1246.00" y1="1028.58" x2="1595.30" y2="1028.58" stroke="#EBEBEB" stroke-width="1.5"/><line x1="1246.00" y1="1049.72" x2="1595.30" y2="1049.72" stroke="#EBEBEB" stroke-width="1.5"/><line x1="1246.00" y1="1070.86" x2="1595.30" y2="1070.86" stroke="#EBEBEB" stroke-width="1.5"/><line x1="1246.00" y1="1091.99" x2="1595.30" y2="1091.99" stroke="#EBEBEB" stroke-width="1.5"/><line x1="1246.00" y1="1113.13" x2="1595.30" y2="1113.13" stroke="#EBEBEB" stroke-width="1.5"/><line x1="1246.00" y1="1134.27" x2="1595.30" y2="1134.27" stroke="#EBEBEB" stroke-width="1.5"/><line x1="1246.00" y1="1155.41" x2="1595.30" y2="1155.41" stroke="#EBEBEB" stroke-width="1.5"/><line x1="1246.00" y1="1176.54" x2="1595.30" y2="1176.54" stroke="#EBEBEB" stroke-width="1.5"/><line x1="1246.00" y1="1197.68" x2="1595.30" y2="1197.68" stroke="#EBEBEB" stroke-width="1.5"/><line x1="1246.00" y1="1218.82" x2="1595.30" y2="1218.82" stroke="#EBEBEB" stroke-width="1.5"/>
<circle cx="1503.17" cy="1028.58" r="10.07" fill="#dd6766" stroke="#000" stroke-width="1.3"/>
<line x1="1242.40" y1="1028.58" x2="1246.00" y2="1028.58" stroke="#333" stroke-width="1.1"/>
<text x="0" y="0" font-size="15.30" text-anchor="end" transform="translate(1239.20 1033.88) scale(1.000 1.050)">collagen−containing extracellular matrix</text>
<circle cx="1442.83" cy="1049.72" r="9.31" fill="#a3758e" stroke="#000" stroke-width="1.3"/>
<line x1="1242.40" y1="1049.72" x2="1246.00" y2="1049.72" stroke="#333" stroke-width="1.1"/>
<text x="0" y="0" font-size="15.30" text-anchor="end" transform="translate(1239.20 1055.02) scale(1.000 1.050)">transport vesicle</text>
<circle cx="1322.17" cy="1070.86" r="7.21" fill="#3c7eb8" stroke="#000" stroke-width="1.3"/>
<line x1="1242.40" y1="1070.86" x2="1246.00" y2="1070.86" stroke="#333" stroke-width="1.1"/>
<text x="0" y="0" font-size="15.30" text-anchor="end" transform="translate(1239.20 1076.16) scale(1.000 1.050)">blood microparticle</text>
<circle cx="1261.83" cy="1091.99" r="4.35" fill="#a3758e" stroke="#000" stroke-width="1.3"/>
<line x1="1242.40" y1="1091.99" x2="1246.00" y2="1091.99" stroke="#333" stroke-width="1.1"/>
<text x="0" y="0" font-size="15.30" text-anchor="end" transform="translate(1239.20 1097.29) scale(1.000 1.050)">neurofilament</text>
<circle cx="1261.83" cy="1113.13" r="4.35" fill="#8c789b" stroke="#000" stroke-width="1.3"/>
<line x1="1242.40" y1="1113.13" x2="1246.00" y2="1113.13" stroke="#333" stroke-width="1.1"/>
<text x="0" y="0" font-size="15.30" text-anchor="end" transform="translate(1239.20 1118.43) scale(1.000 1.050)">semaphorin receptor complex</text>
<circle cx="1261.83" cy="1134.27" r="4.35" fill="#5d7caf" stroke="#000" stroke-width="1.3"/>
<line x1="1242.40" y1="1134.27" x2="1246.00" y2="1134.27" stroke="#333" stroke-width="1.1"/>
<text x="0" y="0" font-size="15.30" text-anchor="end" transform="translate(1239.20 1139.57) scale(1.000 1.050)">dystrophin−associated glycoprotein complex</text>
<circle cx="1261.83" cy="1155.41" r="4.35" fill="#5d7caf" stroke="#000" stroke-width="1.3"/>
<line x1="1242.40" y1="1155.41" x2="1246.00" y2="1155.41" stroke="#333" stroke-width="1.1"/>
<text x="0" y="0" font-size="15.30" text-anchor="end" transform="translate(1239.20 1160.71) scale(1.000 1.050)">clathrin coat of trans−Golgi network vesicle</text>
<circle cx="1261.83" cy="1176.54" r="4.35" fill="#5d7caf" stroke="#000" stroke-width="1.3"/>
<line x1="1242.40" y1="1176.54" x2="1246.00" y2="1176.54" stroke="#333" stroke-width="1.1"/>
<text x="0" y="0" font-size="15.30" text-anchor="end" transform="translate(1239.20 1181.84) scale(1.000 1.050)">NADPH oxidase complex</text>
<circle cx="1261.83" cy="1197.68" r="4.35" fill="#527db3" stroke="#000" stroke-width="1.3"/>
<line x1="1242.40" y1="1197.68" x2="1246.00" y2="1197.68" stroke="#333" stroke-width="1.1"/>
<text x="0" y="0" font-size="15.30" text-anchor="end" transform="translate(1239.20 1202.98) scale(1.000 1.050)">iron−sulfur cluster assembly complex</text>
<circle cx="1261.83" cy="1218.82" r="4.35" fill="#377eb9" stroke="#000" stroke-width="1.3"/>
<line x1="1242.40" y1="1218.82" x2="1246.00" y2="1218.82" stroke="#333" stroke-width="1.1"/>
<text x="0" y="0" font-size="15.30" text-anchor="end" transform="translate(1239.20 1224.12) scale(1.000 1.050)">trans−Golgi network transport vesicle membrane</text>
<rect x="1246.00" y="1015.90" width="349.30" height="215.60" fill="none" stroke="#4d4d4d" stroke-width="1.3"/>
<rect x="1595.30" y="1015.90" width="22.10" height="215.60" fill="#D9D9D9" stroke="#4d4d4d" stroke-width="1.3"/>
<text x="0" y="0" font-size="11.2" fill="#1a1a1a" text-anchor="middle" transform="translate(1606.35 1123.70) rotate(90)" dy="4">CC</text>
<line x1="1273.90" y1="1239.00" x2="1273.90" y2="1454.50" stroke="#EBEBEB" stroke-width="0.8"/><line x1="1418.70" y1="1239.00" x2="1418.70" y2="1454.50" stroke="#EBEBEB" stroke-width="0.8"/><line x1="1563.50" y1="1239.00" x2="1563.50" y2="1454.50" stroke="#EBEBEB" stroke-width="0.8"/><line x1="1346.30" y1="1239.00" x2="1346.30" y2="1454.50" stroke="#EBEBEB" stroke-width="1.5"/><line x1="1491.10" y1="1239.00" x2="1491.10" y2="1454.50" stroke="#EBEBEB" stroke-width="1.5"/><line x1="1246.00" y1="1251.68" x2="1595.30" y2="1251.68" stroke="#EBEBEB" stroke-width="1.5"/><line x1="1246.00" y1="1272.80" x2="1595.30" y2="1272.80" stroke="#EBEBEB" stroke-width="1.5"/><line x1="1246.00" y1="1293.93" x2="1595.30" y2="1293.93" stroke="#EBEBEB" stroke-width="1.5"/><line x1="1246.00" y1="1315.06" x2="1595.30" y2="1315.06" stroke="#EBEBEB" stroke-width="1.5"/><line x1="1246.00" y1="1336.19" x2="1595.30" y2="1336.19" stroke="#EBEBEB" stroke-width="1.5"/><line x1="1246.00" y1="1357.31" x2="1595.30" y2="1357.31" stroke="#EBEBEB" stroke-width="1.5"/><line x1="1246.00" y1="1378.44" x2="1595.30" y2="1378.44" stroke="#EBEBEB" stroke-width="1.5"/><line x1="1246.00" y1="1399.57" x2="1595.30" y2="1399.57" stroke="#EBEBEB" stroke-width="1.5"/><line x1="1246.00" y1="1420.70" x2="1595.30" y2="1420.70" stroke="#EBEBEB" stroke-width="1.5"/><line x1="1246.00" y1="1441.82" x2="1595.30" y2="1441.82" stroke="#EBEBEB" stroke-width="1.5"/>
<circle cx="1382.50" cy="1251.68" r="8.40" fill="#d56a6c" stroke="#000" stroke-width="1.3"/>
<line x1="1242.40" y1="1251.68" x2="1246.00" y2="1251.68" stroke="#333" stroke-width="1.1"/>
<text x="0" y="0" font-size="15.30" text-anchor="end" transform="translate(1239.20 1256.98) scale(1.000 1.050)">growth factor activity</text>
<circle cx="1382.50" cy="1272.80" r="8.40" fill="#d36a6e" stroke="#000" stroke-width="1.3"/>
<line x1="1242.40" y1="1272.80" x2="1246.00" y2="1272.80" stroke="#333" stroke-width="1.1"/>
<text x="0" y="0" font-size="15.30" text-anchor="end" transform="translate(1239.20 1278.10) scale(1.000 1.050)">heparin binding</text>
<circle cx="1382.50" cy="1293.93" r="8.40" fill="#a3758e" stroke="#000" stroke-width="1.3"/>
<line x1="1242.40" y1="1293.93" x2="1246.00" y2="1293.93" stroke="#333" stroke-width="1.1"/>
<text x="0" y="0" font-size="15.30" text-anchor="end" transform="translate(1239.20 1299.23) scale(1.000 1.050)">glycosaminoglycan binding</text>
<circle cx="1322.17" cy="1315.06" r="7.21" fill="#e06663" stroke="#000" stroke-width="1.3"/>
<line x1="1242.40" y1="1315.06" x2="1246.00" y2="1315.06" stroke="#333" stroke-width="1.1"/>
<text x="0" y="0" font-size="15.30" text-anchor="end" transform="translate(1239.20 1320.36) scale(1.000 1.050)">D−mannose binding</text>
<circle cx="1322.17" cy="1336.19" r="7.21" fill="#db6867" stroke="#000" stroke-width="1.3"/>
<line x1="1242.40" y1="1336.19" x2="1246.00" y2="1336.19" stroke="#333" stroke-width="1.1"/>
<text x="0" y="0" font-size="15.30" text-anchor="end" transform="translate(1239.20 1341.49) scale(1.000 1.050)">tumor necrosis factor receptor superfamily binding</text>
<circle cx="1322.17" cy="1357.31" r="7.21" fill="#c46f79" stroke="#000" stroke-width="1.3"/>
<line x1="1242.40" y1="1357.31" x2="1246.00" y2="1357.31" stroke="#333" stroke-width="1.1"/>
<text x="0" y="0" font-size="15.30" text-anchor="end" transform="translate(1239.20 1362.61) scale(1.000 1.050)">monosaccharide binding</text>
<circle cx="1322.17" cy="1378.44" r="7.21" fill="#c16f7b" stroke="#000" stroke-width="1.3"/>
<line x1="1242.40" y1="1378.44" x2="1246.00" y2="1378.44" stroke="#333" stroke-width="1.1"/>
<text x="0" y="0" font-size="15.30" text-anchor="end" transform="translate(1239.20 1383.74) scale(1.000 1.050)">virus receptor activity</text>
<circle cx="1322.17" cy="1399.57" r="7.21" fill="#c06f7b" stroke="#000" stroke-width="1.3"/>
<line x1="1242.40" y1="1399.57" x2="1246.00" y2="1399.57" stroke="#333" stroke-width="1.1"/>
<text x="0" y="0" font-size="15.30" text-anchor="end" transform="translate(1239.20 1404.87) scale(1.000 1.050)">exogenous protein binding</text>
<circle cx="1261.83" cy="1420.70" r="4.35" fill="#a3758e" stroke="#000" stroke-width="1.3"/>
<line x1="1242.40" y1="1420.70" x2="1246.00" y2="1420.70" stroke="#333" stroke-width="1.1"/>
<text x="0" y="0" font-size="15.30" text-anchor="end" transform="translate(1239.20 1426.00) scale(1.000 1.050)">FK506 binding</text>
<circle cx="1261.83" cy="1441.82" r="4.35" fill="#a3758e" stroke="#000" stroke-width="1.3"/>
<line x1="1242.40" y1="1441.82" x2="1246.00" y2="1441.82" stroke="#333" stroke-width="1.1"/>
<text x="0" y="0" font-size="15.30" text-anchor="end" transform="translate(1239.20 1447.12) scale(1.000 1.050)">superoxide−generating NAD(P)H oxidase activity</text>
<rect x="1246.00" y="1239.00" width="349.30" height="215.50" fill="none" stroke="#4d4d4d" stroke-width="1.3"/>
<rect x="1595.30" y="1239.00" width="22.10" height="215.50" fill="#D9D9D9" stroke="#4d4d4d" stroke-width="1.3"/>
<text x="0" y="0" font-size="11.2" fill="#1a1a1a" text-anchor="middle" transform="translate(1606.35 1346.75) rotate(90)" dy="4">MF</text>
<line x1="1346.30" y1="1454.20" x2="1346.30" y2="1457.80" stroke="#333" stroke-width="1.1"/>
<text x="0" y="0" font-size="15.00" text-anchor="middle" transform="translate(1346.30 1471.50) scale(1.000 1.050)">0.05</text>
<line x1="1491.10" y1="1454.20" x2="1491.10" y2="1457.80" stroke="#333" stroke-width="1.1"/>
<text x="0" y="0" font-size="15.00" text-anchor="middle" transform="translate(1491.10 1471.50) scale(1.000 1.050)">0.10</text>
<text x="0" y="0" font-size="15.00" text-anchor="middle" transform="translate(1420.60 1489.50) scale(1.000 1.050)">GeneRatio</text>
<text x="0" y="0" font-size="13.40" transform="translate(1639.20 970.90) scale(1.000 1.050)">pvalue</text>
<defs><linearGradient id="pgE" x1="0" y1="0" x2="0" y2="1">
<stop offset="0.00" stop-color="#e06663"/>
<stop offset="0.10" stop-color="#d56a6c"/>
<stop offset="0.20" stop-color="#ca6d74"/>
<stop offset="0.30" stop-color="#be707d"/>
<stop offset="0.40" stop-color="#b17386"/>
<stop offset="0.50" stop-color="#a3758e"/>
<stop offset="0.60" stop-color="#947797"/>
<stop offset="0.70" stop-color="#8479a0"/>
<stop offset="0.80" stop-color="#707ba8"/>
<stop offset="0.90" stop-color="#577db1"/>
<stop offset="1.00" stop-color="#327eba"/>
</linearGradient></defs>
<rect x="1638.90" y="979.60" width="21.5" height="111.20" fill="url(#pgE)"/>
<line x1="1638.90" y1="1003.40" x2="1643.20" y2="1003.40" stroke="#fff" stroke-width="1"/>
<line x1="1656.10" y1="1003.40" x2="1660.40" y2="1003.40" stroke="#fff" stroke-width="1"/>
<text x="0" y="0" font-size="11.20" transform="translate(1667.40 1007.40) scale(1.000 1.050)">0.01</text>
<line x1="1638.90" y1="1027.10" x2="1643.20" y2="1027.10" stroke="#fff" stroke-width="1"/>
<line x1="1656.10" y1="1027.10" x2="1660.40" y2="1027.10" stroke="#fff" stroke-width="1"/>
<text x="0" y="0" font-size="11.20" transform="translate(1667.40 1031.10) scale(1.000 1.050)">0.02</text>
<line x1="1638.90" y1="1050.80" x2="1643.20" y2="1050.80" stroke="#fff" stroke-width="1"/>
<line x1="1656.10" y1="1050.80" x2="1660.40" y2="1050.80" stroke="#fff" stroke-width="1"/>
<text x="0" y="0" font-size="11.20" transform="translate(1667.40 1054.80) scale(1.000 1.050)">0.03</text>
<line x1="1638.90" y1="1074.50" x2="1643.20" y2="1074.50" stroke="#fff" stroke-width="1"/>
<line x1="1656.10" y1="1074.50" x2="1660.40" y2="1074.50" stroke="#fff" stroke-width="1"/>
<text x="0" y="0" font-size="11.20" transform="translate(1667.40 1078.50) scale(1.000 1.050)">0.04</text>
<text x="0" y="0" font-size="13.40" transform="translate(1639.20 1130.80) scale(1.000 1.050)">Count</text>
<circle cx="1653.20" cy="1150.70" r="4.45" fill="none" stroke="#000" stroke-width="1.1"/>
<text x="0" y="0" font-size="11.20" transform="translate(1673.80 1154.70) scale(1.000 1.050)">1</text>
<circle cx="1653.20" cy="1172.70" r="7.31" fill="none" stroke="#000" stroke-width="1.1"/>
<text x="0" y="0" font-size="11.20" transform="translate(1673.80 1176.70) scale(1.000 1.050)">2</text>
<circle cx="1653.20" cy="1194.70" r="8.50" fill="none" stroke="#000" stroke-width="1.1"/>
<text x="0" y="0" font-size="11.20" transform="translate(1673.80 1198.70) scale(1.000 1.050)">3</text>
<circle cx="1653.20" cy="1218.80" r="9.41" fill="none" stroke="#000" stroke-width="1.1"/>
<text x="0" y="0" font-size="11.20" transform="translate(1673.80 1222.80) scale(1.000 1.050)">4</text>
<circle cx="1653.20" cy="1244.40" r="10.17" fill="none" stroke="#000" stroke-width="1.1"/>
<text x="0" y="0" font-size="11.20" transform="translate(1673.80 1248.40) scale(1.000 1.050)">5</text>
<circle cx="1653.20" cy="1272.30" r="10.85" fill="none" stroke="#000" stroke-width="1.1"/>
<text x="0" y="0" font-size="11.20" transform="translate(1673.80 1276.30) scale(1.000 1.050)">6</text>
<line x1="2100.25" y1="800.50" x2="2100.25" y2="1452.00" stroke="#EBEBEB" stroke-width="0.8"/><line x1="2191.36" y1="800.50" x2="2191.36" y2="1452.00" stroke="#EBEBEB" stroke-width="0.8"/><line x1="2282.47" y1="800.50" x2="2282.47" y2="1452.00" stroke="#EBEBEB" stroke-width="0.8"/><line x1="2373.58" y1="800.50" x2="2373.58" y2="1452.00" stroke="#EBEBEB" stroke-width="0.8"/><line x1="2145.80" y1="800.50" x2="2145.80" y2="1452.00" stroke="#EBEBEB" stroke-width="1.5"/><line x1="2236.91" y1="800.50" x2="2236.91" y2="1452.00" stroke="#EBEBEB" stroke-width="1.5"/><line x1="2328.02" y1="800.50" x2="2328.02" y2="1452.00" stroke="#EBEBEB" stroke-width="1.5"/><line x1="2055.80" y1="826.22" x2="2413.60" y2="826.22" stroke="#EBEBEB" stroke-width="1.5"/><line x1="2055.80" y1="869.08" x2="2413.60" y2="869.08" stroke="#EBEBEB" stroke-width="1.5"/><line x1="2055.80" y1="911.94" x2="2413.60" y2="911.94" stroke="#EBEBEB" stroke-width="1.5"/><line x1="2055.80" y1="954.80" x2="2413.60" y2="954.80" stroke="#EBEBEB" stroke-width="1.5"/><line x1="2055.80" y1="997.66" x2="2413.60" y2="997.66" stroke="#EBEBEB" stroke-width="1.5"/><line x1="2055.80" y1="1040.53" x2="2413.60" y2="1040.53" stroke="#EBEBEB" stroke-width="1.5"/><line x1="2055.80" y1="1083.39" x2="2413.60" y2="1083.39" stroke="#EBEBEB" stroke-width="1.5"/><line x1="2055.80" y1="1126.25" x2="2413.60" y2="1126.25" stroke="#EBEBEB" stroke-width="1.5"/><line x1="2055.80" y1="1169.11" x2="2413.60" y2="1169.11" stroke="#EBEBEB" stroke-width="1.5"/><line x1="2055.80" y1="1211.97" x2="2413.60" y2="1211.97" stroke="#EBEBEB" stroke-width="1.5"/><line x1="2055.80" y1="1254.84" x2="2413.60" y2="1254.84" stroke="#EBEBEB" stroke-width="1.5"/><line x1="2055.80" y1="1297.70" x2="2413.60" y2="1297.70" stroke="#EBEBEB" stroke-width="1.5"/><line x1="2055.80" y1="1340.56" x2="2413.60" y2="1340.56" stroke="#EBEBEB" stroke-width="1.5"/><line x1="2055.80" y1="1383.42" x2="2413.60" y2="1383.42" stroke="#EBEBEB" stroke-width="1.5"/><line x1="2055.80" y1="1426.28" x2="2413.60" y2="1426.28" stroke="#EBEBEB" stroke-width="1.5"/>
<circle cx="2397.44" cy="826.22" r="10.80" fill="#cf6b70" stroke="#000" stroke-width="1.3"/>
<line x1="2052.20" y1="826.22" x2="2055.80" y2="826.22" stroke="#333" stroke-width="1.1"/>
<text x="0" y="0" font-size="15.10" text-anchor="end" transform="translate(2049.00 831.52) scale(1.000 1.050)">Cytokine−cytokine receptor interaction</text>
<circle cx="2397.44" cy="869.08" r="10.80" fill="#9c7693" stroke="#000" stroke-width="1.3"/>
<line x1="2052.20" y1="869.08" x2="2055.80" y2="869.08" stroke="#333" stroke-width="1.1"/>
<text x="0" y="0" font-size="15.10" text-anchor="end" transform="translate(2049.00 874.38) scale(1.000 1.050)">PI3K−Akt signaling pathway</text>
<circle cx="2288.97" cy="911.94" r="9.57" fill="#e06663" stroke="#000" stroke-width="1.3"/>
<line x1="2052.20" y1="911.94" x2="2055.80" y2="911.94" stroke="#333" stroke-width="1.1"/>
<text x="0" y="0" font-size="15.10" text-anchor="end" transform="translate(2049.00 917.24) scale(1.000 1.050)">TNF signaling pathway</text>
<circle cx="2288.97" cy="954.80" r="9.57" fill="#b77181" stroke="#000" stroke-width="1.3"/>
<line x1="2052.20" y1="954.80" x2="2055.80" y2="954.80" stroke="#333" stroke-width="1.1"/>
<text x="0" y="0" font-size="15.10" text-anchor="end" transform="translate(2049.00 960.10) scale(1.000 1.050)">Neutrophil extracellular trap formation</text>
<circle cx="2288.97" cy="997.66" r="9.57" fill="#5d7caf" stroke="#000" stroke-width="1.3"/>
<line x1="2052.20" y1="997.66" x2="2055.80" y2="997.66" stroke="#333" stroke-width="1.1"/>
<text x="0" y="0" font-size="15.10" text-anchor="end" transform="translate(2049.00 1002.96) scale(1.000 1.050)">Coronavirus disease − COVID−19</text>
<circle cx="2180.51" cy="1040.53" r="7.97" fill="#c06f7b" stroke="#000" stroke-width="1.3"/>
<line x1="2052.20" y1="1040.53" x2="2055.80" y2="1040.53" stroke="#333" stroke-width="1.1"/>
<text x="0" y="0" font-size="15.10" text-anchor="end" transform="translate(2049.00 1045.83) scale(1.000 1.050)">Adipocytokine signaling pathway</text>
<circle cx="2180.51" cy="1083.39" r="7.97" fill="#b37284" stroke="#000" stroke-width="1.3"/>
<line x1="2052.20" y1="1083.39" x2="2055.80" y2="1083.39" stroke="#333" stroke-width="1.1"/>
<text x="0" y="0" font-size="15.10" text-anchor="end" transform="translate(2049.00 1088.69) scale(1.000 1.050)">Pertussis</text>
<circle cx="2180.51" cy="1126.25" r="7.97" fill="#b37284" stroke="#000" stroke-width="1.3"/>
<line x1="2052.20" y1="1126.25" x2="2055.80" y2="1126.25" stroke="#333" stroke-width="1.1"/>
<text x="0" y="0" font-size="15.10" text-anchor="end" transform="translate(2049.00 1131.55) scale(1.000 1.050)">Leishmaniasis</text>
<circle cx="2180.51" cy="1169.11" r="7.97" fill="#a3758e" stroke="#000" stroke-width="1.3"/>
<line x1="2052.20" y1="1169.11" x2="2055.80" y2="1169.11" stroke="#333" stroke-width="1.1"/>
<text x="0" y="0" font-size="15.10" text-anchor="end" transform="translate(2049.00 1174.41) scale(1.000 1.050)">Arrhythmogenic right ventricular cardiomyopathy</text>
<circle cx="2180.51" cy="1211.97" r="7.97" fill="#947797" stroke="#000" stroke-width="1.3"/>
<line x1="2052.20" y1="1211.97" x2="2055.80" y2="1211.97" stroke="#333" stroke-width="1.1"/>
<text x="0" y="0" font-size="15.10" text-anchor="end" transform="translate(2049.00 1217.27) scale(1.000 1.050)">ECM−receptor interaction</text>
<circle cx="2180.51" cy="1254.84" r="7.97" fill="#747ba7" stroke="#000" stroke-width="1.3"/>
<line x1="2052.20" y1="1254.84" x2="2055.80" y2="1254.84" stroke="#333" stroke-width="1.1"/>
<text x="0" y="0" font-size="15.10" text-anchor="end" transform="translate(2049.00 1260.14) scale(1.000 1.050)">IL−17 signaling pathway</text>
<circle cx="2180.51" cy="1297.70" r="7.97" fill="#5d7caf" stroke="#000" stroke-width="1.3"/>
<line x1="2052.20" y1="1297.70" x2="2055.80" y2="1297.70" stroke="#333" stroke-width="1.1"/>
<text x="0" y="0" font-size="15.10" text-anchor="end" transform="translate(2049.00 1303.00) scale(1.000 1.050)">Hypertrophic cardiomyopathy</text>
<circle cx="2180.51" cy="1340.56" r="7.97" fill="#3c7eb8" stroke="#000" stroke-width="1.3"/>
<line x1="2052.20" y1="1340.56" x2="2055.80" y2="1340.56" stroke="#333" stroke-width="1.1"/>
<text x="0" y="0" font-size="15.10" text-anchor="end" transform="translate(2049.00 1345.86) scale(1.000 1.050)">C−type lectin receptor signaling pathway</text>
<circle cx="2180.51" cy="1383.42" r="7.97" fill="#3c7eb8" stroke="#000" stroke-width="1.3"/>
<line x1="2052.20" y1="1383.42" x2="2055.80" y2="1383.42" stroke="#333" stroke-width="1.1"/>
<text x="0" y="0" font-size="15.10" text-anchor="end" transform="translate(2049.00 1388.72) scale(1.000 1.050)">Dilated cardiomyopathy</text>
<circle cx="2072.04" cy="1426.28" r="4.10" fill="#747ba7" stroke="#000" stroke-width="1.3"/>
<line x1="2052.20" y1="1426.28" x2="2055.80" y2="1426.28" stroke="#333" stroke-width="1.1"/>
<text x="0" y="0" font-size="15.10" text-anchor="end" transform="translate(2049.00 1431.58) scale(1.000 1.050)">Virion − Ebolavirus, Lyssavirus and Morbillivirus</text>
<rect x="2055.80" y="800.50" width="357.80" height="651.50" fill="none" stroke="#8a8a8a" stroke-width="1.5"/>
<line x1="2145.80" y1="1452.00" x2="2145.80" y2="1455.60" stroke="#333" stroke-width="1.1"/>
<text x="0" y="0" font-size="15.00" text-anchor="middle" transform="translate(2145.80 1469.00) scale(1.000 1.050)">0.06</text>
<line x1="2236.91" y1="1452.00" x2="2236.91" y2="1455.60" stroke="#333" stroke-width="1.1"/>
<text x="0" y="0" font-size="15.00" text-anchor="middle" transform="translate(2236.91 1469.00) scale(1.000 1.050)">0.09</text>
<line x1="2328.02" y1="1452.00" x2="2328.02" y2="1455.60" stroke="#333" stroke-width="1.1"/>
<text x="0" y="0" font-size="15.00" text-anchor="middle" transform="translate(2328.02 1469.00) scale(1.000 1.050)">0.12</text>
<text x="0" y="0" font-size="15.00" text-anchor="middle" transform="translate(2234.70 1485.80) scale(1.000 1.050)">GeneRatio</text>
<text x="0" y="0" font-size="13.40" transform="translate(2435.40 1000.70) scale(1.000 1.050)">pvalue</text>
<defs><linearGradient id="pgF" x1="0" y1="0" x2="0" y2="1">
<stop offset="0.00" stop-color="#e06663"/>
<stop offset="0.10" stop-color="#d56a6c"/>
<stop offset="0.20" stop-color="#ca6d74"/>
<stop offset="0.30" stop-color="#be707d"/>
<stop offset="0.40" stop-color="#b17386"/>
<stop offset="0.50" stop-color="#a3758e"/>
<stop offset="0.60" stop-color="#947797"/>
<stop offset="0.70" stop-color="#8479a0"/>
<stop offset="0.80" stop-color="#707ba8"/>
<stop offset="0.90" stop-color="#577db1"/>
<stop offset="1.00" stop-color="#327eba"/>
</linearGradient></defs>
<rect x="2435.10" y="1009.70" width="21.5" height="107.70" fill="url(#pgF)"/>
<line x1="2435.10" y1="1018.40" x2="2439.40" y2="1018.40" stroke="#fff" stroke-width="1"/>
<line x1="2452.30" y1="1018.40" x2="2456.60" y2="1018.40" stroke="#fff" stroke-width="1"/>
<text x="0" y="0" font-size="11.20" transform="translate(2463.60 1022.40) scale(1.000 1.050)">0.01</text>
<line x1="2435.10" y1="1045.90" x2="2439.40" y2="1045.90" stroke="#fff" stroke-width="1"/>
<line x1="2452.30" y1="1045.90" x2="2456.60" y2="1045.90" stroke="#fff" stroke-width="1"/>
<text x="0" y="0" font-size="11.20" transform="translate(2463.60 1049.90) scale(1.000 1.050)">0.02</text>
<line x1="2435.10" y1="1073.50" x2="2439.40" y2="1073.50" stroke="#fff" stroke-width="1"/>
<line x1="2452.30" y1="1073.50" x2="2456.60" y2="1073.50" stroke="#fff" stroke-width="1"/>
<text x="0" y="0" font-size="11.20" transform="translate(2463.60 1077.50) scale(1.000 1.050)">0.03</text>
<line x1="2435.10" y1="1101.10" x2="2439.40" y2="1101.10" stroke="#fff" stroke-width="1"/>
<line x1="2452.30" y1="1101.10" x2="2456.60" y2="1101.10" stroke="#fff" stroke-width="1"/>
<text x="0" y="0" font-size="11.20" transform="translate(2463.60 1105.10) scale(1.000 1.050)">0.04</text>
<text x="0" y="0" font-size="13.40" transform="translate(2435.40 1157.20) scale(1.000 1.050)">Count</text>
<circle cx="2449.00" cy="1176.50" r="4.20" fill="none" stroke="#000" stroke-width="1.1"/>
<text x="0" y="0" font-size="11.20" transform="translate(2469.90 1180.50) scale(1.000 1.050)">1</text>
<circle cx="2449.00" cy="1198.40" r="8.07" fill="none" stroke="#000" stroke-width="1.1"/>
<text x="0" y="0" font-size="11.20" transform="translate(2469.90 1202.40) scale(1.000 1.050)">2</text>
<circle cx="2449.00" cy="1222.10" r="9.67" fill="none" stroke="#000" stroke-width="1.1"/>
<text x="0" y="0" font-size="11.20" transform="translate(2469.90 1226.10) scale(1.000 1.050)">3</text>
<circle cx="2449.00" cy="1248.80" r="10.90" fill="none" stroke="#000" stroke-width="1.1"/>
<text x="0" y="0" font-size="11.20" transform="translate(2469.90 1252.80) scale(1.000 1.050)">4</text>
</svg></body></html>
